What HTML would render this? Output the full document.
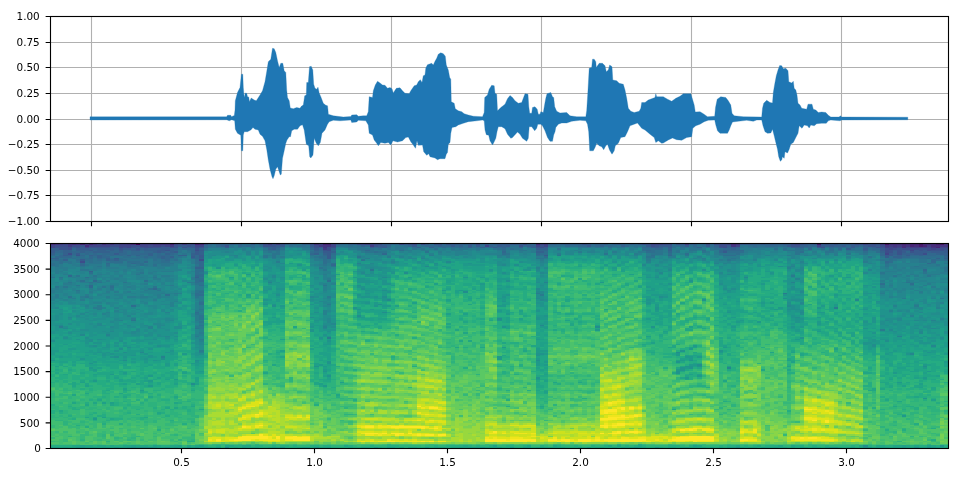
<!DOCTYPE html><html><head><meta charset="utf-8"><title>waveform and spectrogram</title>
<style>html,body{margin:0;padding:0;background:#fff}svg{display:block}text{font-family:"DejaVu Sans","Liberation Sans",sans-serif;font-size:10.42px;fill:#000}</style></head><body>
<svg width="960" height="480" viewBox="0 0 960 480">
<rect width="960" height="480" fill="#fff"/>
<path d="M91.5 16.5V221.5M241.5 16.5V221.5M391.5 16.5V221.5M541.5 16.5V221.5M691.5 16.5V221.5M841.5 16.5V221.5M50.5 16.5H948.5M50.5 42.5H948.5M50.5 67.5H948.5M50.5 93.5H948.5M50.5 119.5H948.5M50.5 144.5H948.5M50.5 170.5H948.5M50.5 195.5H948.5M50.5 221.5H948.5" stroke="#b0b0b0" stroke-width="1.11" fill="none"/>
<polygon points="90,116.8 226.7,116.8 227.5,115.3 230.8,115.3 231.5,116.7 234.3,115.5 235,110 235.3,100.8 237.5,92.5 240,87.5 241.4,74.2 242.8,74.2 243.3,87.5 244.2,97.5 245.3,93 246.7,93.3 247.5,96.7 248.7,97 249.5,101.7 251.2,98 254.2,100 256.3,100.8 260,95 262.5,90.8 265,81.7 266.7,71.7 268.3,61.7 270.8,59.2 272.5,48.3 274.2,48.7 275.8,52.5 277.5,60.8 279.2,67.5 280.8,63.3 282.8,63.3 284.2,70.8 285.8,72.5 286.7,90 287.5,97.5 289.2,100.8 290.3,108 293.3,108.7 296.7,107.5 300,108.3 301.3,106.3 303.3,105 304.7,95.8 306.3,95 306.7,82.5 308.3,82.5 309.5,66.7 311.2,66.3 312.8,70 313.7,84.2 315,88.3 316.7,89.2 318,87.2 319.2,93 320.8,96.7 323.3,103.3 325.8,105.3 327.5,105.8 328,110 328.3,114.2 333.3,115.8 343.3,117 351,116.5 351.7,115 356.7,114.7 358.3,116.3 363.3,115.8 366.7,115.8 368.3,111.7 369.2,96.7 372.5,97.5 373.3,90.8 375.3,85 377.5,81.3 380,83 382.5,85 385,85.3 387.5,88.3 390,87.5 392,88.7 393.3,93 396.3,88.3 400,87.8 402.5,90.8 405,93.3 409.2,93.7 410.8,90.8 414.2,85.8 416.7,85 418.3,81.7 420.3,79.7 422,82.5 423.3,75.8 425,75 425.8,68 427.5,64.7 431.7,63.3 433.3,65 435,61.3 436.7,58.3 438.3,54.2 440.8,52.8 443.3,53.7 445.3,56.2 446.3,65 448.3,70 449.7,77.5 450.8,79.2 451.3,101.7 454.2,103.3 455.3,108.7 458.3,110.8 461.7,111.7 464.2,113.7 468.3,115 473.3,116.2 482.5,116.7 484.2,112.5 484.7,97.5 487.5,95 489.2,89.2 491.7,85.3 494.2,85.8 495,93.3 496.7,94.2 497.5,110.8 500.8,107.5 505,104.2 507.5,98.7 510,95.5 512.5,97.5 515,100.8 518.3,103.3 521.7,102.5 523.3,98.3 525,93.7 528,94.2 528.8,106.7 529.7,113.3 531.7,113.3 532.5,107.5 535,106.7 537.2,109.2 538.3,114.2 540,114.2 540.8,111.7 543.3,112.5 544.7,104.2 545.8,98.3 547,93.7 550.8,92.5 552.5,96.7 553.7,97.5 554.7,106.7 556.7,111.3 560,113 566.7,112.5 570,115.8 576.7,116.7 585.8,116.7 586.7,110.8 588,90 589.2,68.3 591.7,67.5 592.5,59.2 594.2,59.2 595.8,61.7 596.3,67.5 599.2,63.3 602.5,63.3 605,65.8 606.3,71.7 608.3,70 609.7,65 612,66.7 612.8,80 616.7,80.8 619.2,83.3 623.3,84.2 625,90 626.7,98.3 628.3,108.3 630.8,111.3 634.2,112.5 639.2,111.3 640.8,108.3 641.7,102.5 645,102.5 648.3,100 655,97.5 655.8,93.7 656.7,96.7 661.7,96.7 663.3,96.7 667.5,99.2 671.7,101.3 675.8,98.3 680,96.3 683.3,93.7 690.8,93.7 692.5,99.2 694.2,105 695.3,112 700,111.7 703.3,113.7 707.5,116.7 714.7,116.3 715.5,107.5 717.2,99.2 720.8,96.7 725.8,97.5 728.3,100.8 730.8,105 732,113.3 734.2,115.8 743.3,116.7 761.7,117 762.5,108.3 763.7,103.3 766.7,100.3 770,102.5 772.5,103 773.3,92.5 774.7,84.2 776.3,75.8 778,70 779.7,65.5 781.7,65.8 783.3,68.7 785.8,68.3 788,70.8 788.8,81.7 791.7,83 793.3,81.3 794.2,88.3 795.8,90 797,95 798,103.3 800,105 801.7,108.3 806.7,109.2 808,104.2 812,104.2 813.3,109.2 815.8,110 818.3,112.5 821.7,112 825.8,112.5 828.3,115.3 830.8,117 839.2,117 840.3,115.8 841.7,117 907.8,117.2 907.8,119.8 841.7,120 840,120.8 830.8,120 828.3,120.8 826.3,123.3 821.7,123.3 816.7,123.7 814.2,125.8 810.8,125 809.2,128 807.5,125.8 804.2,125 802,128.3 799.2,125.8 798,133.3 795.8,137.5 793.3,142.5 790.8,144.2 789.2,149.2 787.5,153 785,151.7 784.2,158.3 782.5,156.7 781.7,160 780.3,161.3 778.7,156.7 777.5,149.2 775.8,142.5 774.2,135.8 772.5,129.2 770.8,133 767.5,133.3 765,131.7 763,125.8 761.7,120 756.7,120 753.3,121.3 746.7,120.3 738.3,121.3 732.5,122 730.8,125.8 729.2,130 727.5,133.3 720,133.3 717.5,130.8 715.8,125 714.7,120 708.3,120.3 704.2,121.7 700,124.2 695.8,125.8 692.8,128.3 691.7,136.7 686.7,137.5 681.7,140.3 676.7,139.7 672.5,138 668.3,140 663.3,143 661.7,143.3 658.3,140.8 655.8,142.5 654.2,137.5 650,134.2 645,130 641.7,128.3 637.5,123 634.2,124.2 630,125.8 627.5,131.7 625,136.7 620.8,137.5 618.3,143.3 615.3,145.8 614.2,150.8 612,154.2 609.5,150 607.5,144.2 605.8,145.8 603.7,149.7 601.7,146.7 599.2,145.8 596.7,143.3 595,147.5 593.3,150.8 589.7,150.8 588.7,131.7 587.5,124.2 585.8,120.8 580,120.3 571.7,121.3 566.7,123 561.7,123 558.3,124.2 555.8,127.5 555,131.7 553.7,135 552.5,141.3 550,141.3 547.5,137.5 545,130.8 542.5,125.8 540.8,124.2 537.8,124.2 536.7,128.3 534.7,130.8 531.7,126.7 529.2,126.7 528.3,138.3 526.7,141.3 522.5,138.3 520,134.2 517.5,132 512.5,137.5 510.8,138.3 507.5,134.2 505,128.7 501.7,126.7 498.3,126.7 497,131.7 495.8,138.3 494.2,141.7 492.5,145 490,140.8 488.7,135.3 486.3,134.7 485,130 484.2,120.8 482.5,120 476.7,120.8 468.3,121.7 463.3,123.3 458.3,125 455.8,126.7 452,127.5 450.8,133.3 450,142.5 448.3,144.2 447.5,152.5 446.3,154.2 445,158.7 440,158.7 437.5,159.7 435,158 430,156.7 428.7,153.7 426.7,155.3 423.7,151.7 422.5,145 418.3,145.3 417,140.8 415.5,148.3 413.3,145 410.8,141.7 408.3,137 405.8,137.5 402.5,140.8 397.5,142 393,140.8 390.8,145 388.3,142.5 385,143.3 380.8,142.5 378.3,145.8 376.7,143.3 374.2,140 372.5,135 369.2,133.3 368.3,125 365.8,120.8 358.3,120.3 356.7,122 351.7,122.5 350.8,120 340,120.8 333.3,120.3 329.2,121.7 327.5,124.2 325,130 322,133.3 320.3,142.5 318.3,145.8 316.3,143.3 314.2,138.3 313,155 310.8,158 309.7,156.7 308.7,145.8 306.3,144.2 304.2,130 302.5,124.7 300,125.8 297.5,129.2 294.2,129.2 291.7,130.8 290.5,136.7 289.2,136.7 287,140 285.8,143.3 284.2,150.8 282.5,158.3 281.3,174.2 280.3,175 279.2,171.7 277.5,166.7 275.8,169.2 274.2,175.8 273,178.7 272,176.7 270,169.2 268.3,160 266.7,149.2 265,140.8 262.5,136.3 260,134.2 258.3,130 255,129.2 253,127.5 250.8,130 247.5,131.7 244.2,131.7 243.3,135 242.8,150.8 241.4,150.8 240.8,135.3 237.5,133.3 235.3,129.2 234.7,120.8 231.7,119.7 229.2,120.8 226.7,119.8 90,120" fill="#1f77b4" stroke="#1f77b4" stroke-width="0.3" stroke-linejoin="round"/>
<path d="M91.5 221.5v4.86M241.5 221.5v4.86M391.5 221.5v4.86M541.5 221.5v4.86M691.5 221.5v4.86M841.5 221.5v4.86M50.5 16.5h-4.86M50.5 42.5h-4.86M50.5 67.5h-4.86M50.5 93.5h-4.86M50.5 119.5h-4.86M50.5 144.5h-4.86M50.5 170.5h-4.86M50.5 195.5h-4.86M50.5 221.5h-4.86" stroke="#000" stroke-width="1.11" fill="none"/>
<rect x="50.5" y="16.5" width="898" height="205" fill="none" stroke="#000" stroke-width="1.11"/>
<rect x="50.50" y="243.50" width="898.00" height="205.00" fill="#35b779"/>
<defs><clipPath id="sc"><rect x="50.50" y="243.50" width="898.00" height="205.00"/></clipPath></defs>
<g clip-path="url(#sc)"><g><rect x="47.50" y="240.50" width="904.00" height="211.00" fill="#35b779"/><g transform="translate(50.500,243.500) scale(4.25592,1.58915) translate(0,0.5)" fill="none" stroke-width="1" shape-rendering="crispEdges">
<path stroke="#440154" d="M20 0h1"/>
<path stroke="#481467" d="M196 0h1M204 0h1M209 0h1"/>
<path stroke="#481c6e" d="M180 0h1M208 0h1M204 1h1"/>
<path stroke="#482576" d="M7 0h1M9 0h1M28 0h1M34 0h1M64 0h2M200 0h1M202 0h2M202 1h1M205 1h1M208 2h1"/>
<path stroke="#472d7b" d="M0 0h1M5 0h1M12 0h1M19 0h1M35 0h1M114 0h1M160 0h1M197 0h3M201 0h1M205 0h3M8 1h1M200 1h1M203 1h1M207 1h2M200 2h1"/>
<path stroke="#453581" d="M1 0h1M4 0h1M6 0h1M10 0h1M14 0h1M18 0h1M24 0h4M62 0h1M161 0h1M210 0h1M64 1h2M160 1h1M196 1h1M198 1h1M201 1h1M209 1h2M64 2h1M207 2h1"/>
<path stroke="#433d84" d="M2 0h1M8 0h1M13 0h1M16 0h2M21 0h3M31 0h1M51 0h1M53 0h1M116 0h1M149 0h1M195 0h1M4 1h1M28 1h1M63 1h1M75 1h1M197 1h1M199 1h1M206 1h1M196 2h1M198 2h1M202 2h4M64 3h1"/>
<path stroke="#404588" d="M3 0h1M11 0h1M15 0h1M29 0h1M63 0h1M66 0h1M74 0h2M115 0h1M141 0h3M159 0h1M175 0h1M191 0h1M0 1h1M9 1h5M16 1h3M21 1h2M24 1h2M27 1h1M34 1h2M66 1h1M102 1h1M114 1h1M116 1h1M161 1h1M180 1h1M0 2h1M8 2h1M16 2h1M18 2h1M197 2h1M199 2h1M201 2h1M206 2h1M209 2h2M197 3h1M207 3h1M202 4h1M196 6h1"/>
<path stroke="#3d4d8a" d="M33 0h1M50 0h1M72 0h2M76 0h2M82 0h1M85 0h1M87 0h1M100 0h1M111 0h1M144 0h2M154 0h1M156 0h3M174 0h1M189 0h1M193 0h1M1 1h3M5 1h2M14 1h2M19 1h2M23 1h1M26 1h1M62 1h1M141 1h1M157 1h2M195 1h1M4 2h1M17 2h1M22 2h2M28 2h1M34 2h1M65 2h2M115 2h1M158 2h1M4 3h1M65 3h1M196 3h1M198 3h1M200 3h4M206 3h1M208 3h2M34 4h1M65 4h1M196 4h1M206 4h1M196 5h1M4 6h1M205 6h1M35 10h1M7 11h1"/>
<path stroke="#3a538b" d="M30 0h1M32 0h1M36 0h1M52 0h1M54 0h1M61 0h1M84 0h1M90 0h2M93 0h1M125 0h1M139 0h2M147 0h1M176 0h1M182 0h1M184 0h1M190 0h1M192 0h1M194 0h1M7 1h1M29 1h1M32 1h1M41 1h1M50 1h3M76 1h1M110 1h1M115 1h1M142 1h1M174 1h2M192 1h2M1 2h3M6 2h1M9 2h5M19 2h1M21 2h1M24 2h2M29 2h1M31 2h1M35 2h1M62 2h1M114 2h1M157 2h1M181 2h1M194 2h2M2 3h2M16 3h1M20 3h1M34 3h1M199 3h1M204 3h2M210 3h1M27 4h1M64 4h1M197 4h1M199 4h1M204 4h1M207 4h3M197 5h1M199 5h1M202 5h1M199 6h1M6 7h1"/>
<path stroke="#375b8d" d="M47 0h1M67 0h1M83 0h1M88 0h1M94 0h2M98 0h1M102 0h1M105 0h6M121 0h1M126 0h1M130 0h1M133 0h1M138 0h1M148 0h1M162 0h3M167 0h1M169 0h1M172 0h2M177 0h1M179 0h1M181 0h1M183 0h1M187 0h2M30 1h2M33 1h1M53 1h2M61 1h1M77 1h2M85 1h1M94 1h1M98 1h1M100 1h1M105 1h1M107 1h1M126 1h1M140 1h1M143 1h3M149 1h1M154 1h1M159 1h1M173 1h1M181 1h1M183 1h1M186 1h1M188 1h1M191 1h1M194 1h1M5 2h1M7 2h1M14 2h2M20 2h1M26 2h2M33 2h1M41 2h1M52 2h1M63 2h1M75 2h1M78 2h1M104 2h1M116 2h1M141 2h2M145 2h1M160 2h1M180 2h1M188 2h1M6 3h3M11 3h4M17 3h2M22 3h1M26 3h2M52 3h1M62 3h1M114 3h1M187 3h1M191 3h1M195 3h1M0 4h1M9 4h1M16 4h1M20 4h1M25 4h2M35 4h1M195 4h1M198 4h1M200 4h2M203 4h1M205 4h1M210 4h1M0 5h1M25 5h1M29 5h1M34 5h1M64 5h2M158 5h1M200 5h1M203 5h3M207 5h2M210 5h1M6 6h1M15 6h1M34 6h1M65 6h1M197 6h1M203 6h2M3 7h1M35 7h1M65 7h1M116 7h1M196 7h2M201 7h1M33 8h1M35 8h1M65 8h1M196 8h1M15 9h1M65 9h1M7 10h1"/>
<path stroke="#34618d" d="M39 0h4M44 0h1M49 0h1M55 0h1M59 0h2M70 0h2M78 0h2M96 0h2M99 0h1M104 0h1M112 0h1M117 0h2M120 0h1M122 0h3M128 0h2M132 0h1M134 0h1M136 0h1M150 0h2M165 0h2M168 0h1M170 0h2M178 0h1M185 0h2M40 1h1M73 1h1M91 1h1M96 1h1M103 1h1M106 1h1M112 1h2M129 1h1M134 1h1M156 1h1M176 1h2M182 1h1M184 1h2M189 1h1M32 2h1M51 2h1M53 2h1M61 2h1M77 2h1M86 2h1M89 2h1M98 2h1M101 2h1M106 2h1M110 2h1M113 2h1M143 2h1M152 2h1M159 2h1M161 2h1M174 2h3M191 2h1M193 2h1M0 3h2M9 3h2M15 3h1M19 3h1M21 3h1M23 3h3M28 3h2M35 3h1M51 3h1M66 3h1M115 3h2M145 3h1M160 3h1M1 4h1M3 4h2M6 4h3M11 4h2M14 4h1M19 4h1M22 4h3M28 4h1M62 4h1M145 4h1M158 4h1M191 4h1M3 5h2M7 5h1M10 5h4M16 5h1M24 5h1M26 5h1M28 5h1M35 5h1M66 5h1M114 5h2M195 5h1M198 5h1M206 5h1M209 5h1M0 6h1M3 6h1M23 6h1M27 6h1M33 6h1M35 6h1M62 6h1M64 6h1M198 6h1M200 6h3M208 6h3M4 7h1M9 7h1M11 7h1M18 7h1M20 7h1M23 7h1M30 7h2M33 7h1M199 7h1M204 7h1M210 7h1M11 8h1M26 8h1M28 8h1M198 8h2M0 9h2M13 9h1M26 9h1M35 9h1M208 9h1M210 9h1M3 10h1M13 10h1M15 10h1M34 15h2M9 17h1M34 21h1"/>
<path stroke="#31688e" d="M37 0h1M43 0h1M56 0h2M68 0h1M80 0h2M92 0h1M101 0h1M103 0h1M113 0h1M119 0h1M127 0h1M135 0h1M137 0h1M153 0h1M155 0h1M36 1h1M39 1h1M44 1h1M46 1h1M74 1h1M79 1h1M84 1h1M88 1h3M92 1h2M95 1h1M104 1h1M111 1h1M121 1h1M124 1h2M128 1h1M131 1h1M135 1h1M148 1h1M151 1h1M165 1h1M168 1h3M172 1h1M178 1h2M187 1h1M190 1h1M36 2h1M50 2h1M76 2h1M92 2h1M96 2h1M103 2h1M105 2h1M139 2h2M156 2h1M178 2h1M183 2h1M185 2h1M187 2h1M192 2h1M5 3h1M31 3h3M53 3h1M61 3h1M63 3h1M106 3h1M142 3h2M158 3h2M161 3h1M178 3h1M185 3h1M193 3h2M2 4h1M10 4h1M13 4h1M15 4h1M17 4h2M21 4h1M29 4h1M33 4h1M63 4h1M66 4h1M74 4h1M114 4h3M140 4h1M157 4h1M159 4h4M1 5h2M5 5h2M8 5h2M14 5h2M17 5h1M19 5h2M22 5h2M27 5h1M33 5h1M62 5h1M106 5h1M145 5h1M157 5h1M201 5h1M5 6h1M8 6h1M10 6h1M12 6h3M16 6h2M19 6h4M25 6h1M28 6h1M61 6h1M78 6h1M114 6h1M195 6h1M206 6h2M0 7h1M2 7h1M7 7h1M10 7h1M12 7h1M14 7h1M16 7h1M25 7h3M34 7h1M64 7h1M145 7h1M195 7h1M198 7h1M200 7h1M202 7h2M205 7h3M1 8h4M9 8h1M12 8h2M22 8h1M25 8h1M27 8h1M34 8h1M200 8h2M210 8h1M9 9h1M11 9h1M27 9h1M33 9h2M199 9h1M206 9h1M1 10h1M14 10h1M27 10h1M207 10h1M22 11h1M35 11h1M196 11h1M207 11h1M7 12h1M13 12h1M19 12h1M35 12h1M206 12h1M7 13h1M35 13h1M66 13h1M35 14h1M205 16h1M4 20h1M34 20h1M10 23h1M35 23h1M9 26h1M9 27h1M24 28h1"/>
<path stroke="#2e6e8e" d="M38 0h1M45 0h2M48 0h1M69 0h1M86 0h1M89 0h1M131 0h1M146 0h1M152 0h1M37 1h1M45 1h1M47 1h1M49 1h1M56 1h1M58 1h2M67 1h1M70 1h1M72 1h1M83 1h1M87 1h1M97 1h1M99 1h1M101 1h1M108 1h2M117 1h3M122 1h2M127 1h1M130 1h1M132 1h1M137 1h1M139 1h1M146 1h2M153 1h1M155 1h1M164 1h1M166 1h2M171 1h1M30 2h1M47 2h1M54 2h1M79 2h1M85 2h1M94 2h2M97 2h1M99 2h2M102 2h1M107 2h1M112 2h1M131 2h1M144 2h1M146 2h1M148 2h1M151 2h1M155 2h1M165 2h1M177 2h1M184 2h1M186 2h1M189 2h1M30 3h1M75 3h1M77 3h1M90 3h1M105 3h1M108 3h1M119 3h1M139 3h3M156 3h2M170 3h1M172 3h1M175 3h2M181 3h1M183 3h1M188 3h1M192 3h1M5 4h1M32 4h1M51 4h3M82 4h1M106 4h1M139 4h1M141 4h1M153 4h1M183 4h1M193 4h2M18 5h1M21 5h1M61 5h1M63 5h1M76 5h1M116 5h1M140 5h2M159 5h4M176 5h1M191 5h1M194 5h1M1 6h2M7 6h1M9 6h1M11 6h1M18 6h1M24 6h1M26 6h1M29 6h1M66 6h1M106 6h1M115 6h2M145 6h1M149 6h1M161 6h1M5 7h1M13 7h1M15 7h1M17 7h1M19 7h1M21 7h2M24 7h1M28 7h1M114 7h1M141 7h1M158 7h3M208 7h2M6 8h2M10 8h1M17 8h2M20 8h2M23 8h2M63 8h2M116 8h1M197 8h1M202 8h7M3 9h1M5 9h1M7 9h2M12 9h1M14 9h1M16 9h1M19 9h2M22 9h1M24 9h2M28 9h1M64 9h1M197 9h2M204 9h2M0 10h1M2 10h1M6 10h1M8 10h2M11 10h1M16 10h2M24 10h1M26 10h1M29 10h1M34 10h1M64 10h1M197 10h1M208 10h1M210 10h1M2 11h1M9 11h1M14 11h3M18 11h3M26 11h2M34 11h1M64 11h1M197 11h1M0 12h1M2 12h1M20 12h2M34 12h1M64 12h1M66 12h1M196 12h1M0 13h1M13 13h1M21 13h1M24 13h1M34 14h1M34 16h2M34 17h2M205 17h1M9 18h1M34 18h1M34 19h2M35 20h1M8 21h1M34 22h2M7 23h1M22 23h1M34 23h1M65 23h1M34 24h1M195 25h1M202 25h1M35 26h1M14 27h1M35 30h1M34 31h1M27 32h1M34 32h2M35 37h1M35 38h1M19 39h1M34 43h1"/>
<path stroke="#2b748e" d="M58 0h1M38 1h1M42 1h1M48 1h1M57 1h1M60 1h1M68 1h2M71 1h1M81 1h2M86 1h1M120 1h1M133 1h1M136 1h1M138 1h1M150 1h1M152 1h1M162 1h2M37 2h4M42 2h1M44 2h1M59 2h2M70 2h4M81 2h3M90 2h2M93 2h1M108 2h2M124 2h3M128 2h2M133 2h2M137 2h1M149 2h2M154 2h1M162 2h1M164 2h1M166 2h5M172 2h2M182 2h1M190 2h1M36 3h1M50 3h1M54 3h1M72 3h3M76 3h1M79 3h1M81 3h2M85 3h1M87 3h1M94 3h1M96 3h2M100 3h1M104 3h1M107 3h1M109 3h2M144 3h1M148 3h1M150 3h3M155 3h1M189 3h2M30 4h1M50 4h1M61 4h1M73 4h1M75 4h1M110 4h2M142 4h2M147 4h1M150 4h2M172 4h5M185 4h1M187 4h4M192 4h1M30 5h1M32 5h1M51 5h1M53 5h1M74 5h2M77 5h2M88 5h1M142 5h2M147 5h1M153 5h1M175 5h1M182 5h2M31 6h1M52 6h2M63 6h1M107 6h1M130 6h1M141 6h3M157 6h4M175 6h1M187 6h1M191 6h1M1 7h1M8 7h1M29 7h1M50 7h1M52 7h1M61 7h1M63 7h1M66 7h1M115 7h1M119 7h1M149 7h1M0 8h1M5 8h1M8 8h1M14 8h3M19 8h1M29 8h2M50 8h1M52 8h1M62 8h1M66 8h1M72 8h1M140 8h2M192 8h1M195 8h1M209 8h1M2 9h1M4 9h1M6 9h1M10 9h1M17 9h2M21 9h1M23 9h1M29 9h1M63 9h1M66 9h1M114 9h2M160 9h1M196 9h1M200 9h4M207 9h1M209 9h1M10 10h1M12 10h1M18 10h5M25 10h1M28 10h1M65 10h1M73 10h1M159 10h1M195 10h2M198 10h1M204 10h2M209 10h1M0 11h2M3 11h2M6 11h1M8 11h1M10 11h2M13 11h1M21 11h1M24 11h2M65 11h1M204 11h2M1 12h1M4 12h1M9 12h3M15 12h2M18 12h1M24 12h5M207 12h1M210 12h1M1 13h1M8 13h1M18 13h1M20 13h1M22 13h1M26 13h2M34 13h1M64 13h1M196 13h1M208 13h1M1 14h1M7 14h1M11 14h1M13 14h1M18 14h2M24 14h1M66 14h1M196 14h1M203 14h1M63 15h1M210 15h1M7 16h2M64 16h1M75 16h1M210 16h1M210 17h1M21 18h1M35 18h1M195 18h1M205 18h1M20 19h1M6 20h1M10 20h1M198 20h1M206 20h1M0 21h1M2 21h1M24 21h1M35 21h1M4 24h1M9 24h1M11 24h1M17 24h1M35 24h1M201 24h1M34 25h2M6 26h1M14 26h1M64 26h1M1 27h1M3 27h1M12 27h1M24 27h1M14 28h1M23 28h1M6 29h1M25 29h1M34 29h2M34 30h1M35 31h1M4 33h1M8 33h1M34 33h1M209 34h1M35 36h1M35 41h1M34 44h1M35 45h1M35 46h1M35 47h1M19 48h1M35 49h1M35 51h1M34 53h1"/>
<path stroke="#297b8e" d="M43 1h1M55 1h1M80 1h1M43 2h1M45 2h1M48 2h2M58 2h1M69 2h1M74 2h1M80 2h1M87 2h2M117 2h3M121 2h1M127 2h1M132 2h1M136 2h1M153 2h1M163 2h1M171 2h1M179 2h1M40 3h2M45 3h1M47 3h1M59 3h2M70 3h2M78 3h1M80 3h1M83 3h1M86 3h1M89 3h1M92 3h1M95 3h1M98 3h2M101 3h1M112 3h2M124 3h1M131 3h1M136 3h1M146 3h2M153 3h1M162 3h3M166 3h2M173 3h2M180 3h1M184 3h1M31 4h1M36 4h1M54 4h1M72 4h1M76 4h3M80 4h1M83 4h2M87 4h2M94 4h3M100 4h1M105 4h1M107 4h1M113 4h1M144 4h1M146 4h1M155 4h2M163 4h2M170 4h1M177 4h2M181 4h2M184 4h1M31 5h1M50 5h1M52 5h1M73 5h1M91 5h1M107 5h1M110 5h1M113 5h1M124 5h1M132 5h1M138 5h2M144 5h1M146 5h1M150 5h1M154 5h1M156 5h1M163 5h1M179 5h1M184 5h1M187 5h1M189 5h2M192 5h2M30 6h1M32 6h1M76 6h2M119 6h1M137 6h1M140 6h1M156 6h1M162 6h1M182 6h1M184 6h1M190 6h1M51 7h1M62 7h1M89 7h1M105 7h3M140 7h1M146 7h1M157 7h1M161 7h1M173 7h1M177 7h1M184 7h1M31 8h1M54 8h1M61 8h1M79 8h1M107 8h1M114 8h2M145 8h2M158 8h4M52 9h1M62 9h1M74 9h1M116 9h1M140 9h1M153 9h1M159 9h1M161 9h1M195 9h1M4 10h2M23 10h1M30 10h1M33 10h1M62 10h2M115 10h1M140 10h1M157 10h1M160 10h1M199 10h2M202 10h2M206 10h1M5 11h1M12 11h1M17 11h1M23 11h1M28 11h3M33 11h1M53 11h1M191 11h1M200 11h1M202 11h2M206 11h1M210 11h1M5 12h1M8 12h1M14 12h1M17 12h1M22 12h2M33 12h1M65 12h1M197 12h1M201 12h1M2 13h1M5 13h2M9 13h3M16 13h2M19 13h1M23 13h1M25 13h1M28 13h1M63 13h1M65 13h1M197 13h2M204 13h4M0 14h1M2 14h1M6 14h1M8 14h1M10 14h1M20 14h1M22 14h2M25 14h3M64 14h1M198 14h1M202 14h1M204 14h1M206 14h3M210 14h1M1 15h3M7 15h1M10 15h2M13 15h3M18 15h3M25 15h2M64 15h1M196 15h1M198 15h1M200 15h1M202 15h4M209 15h1M1 16h1M3 16h1M9 16h2M17 16h1M20 16h2M199 16h1M1 17h2M15 17h1M17 17h1M21 17h1M24 17h1M26 17h3M196 17h3M1 18h1M20 18h1M23 18h1M209 18h2M3 19h1M9 19h1M11 19h1M64 19h1M195 19h1M199 19h1M202 19h1M206 19h3M16 20h1M24 20h1M26 20h2M174 20h1M201 20h1M203 20h1M5 21h1M9 21h2M21 21h1M33 21h1M2 22h1M8 22h1M10 22h1M15 22h1M24 22h2M33 22h1M65 22h1M6 23h1M11 23h1M13 23h1M195 23h1M201 23h1M7 24h2M10 24h1M32 24h2M202 24h1M3 25h2M9 25h1M22 25h1M206 25h1M8 26h1M28 26h1M34 26h1M195 26h1M197 26h1M202 26h1M205 26h1M18 27h1M34 27h2M195 27h1M207 27h1M1 28h1M9 28h1M11 28h1M25 28h1M34 28h2M0 29h1M14 29h1M22 29h1M210 29h1M0 30h1M6 30h1M9 30h1M13 30h1M15 30h1M18 30h1M204 30h1M26 31h1M29 31h1M114 31h1M172 31h1M195 31h1M1 32h1M8 32h1M25 32h1M115 32h1M1 33h1M7 33h1M13 33h1M18 33h2M21 33h2M25 33h1M35 33h1M65 33h1M5 34h1M9 34h1M34 34h2M200 34h1M7 35h1M24 35h1M35 35h1M65 38h1M11 39h1M35 39h1M203 39h1M10 40h2M35 40h1M184 40h1M11 41h1M34 42h2M35 44h1M34 45h1M34 46h1M19 47h1M34 47h1M34 48h2M35 50h1M2 52h1M34 52h2M35 53h1M195 54h1M35 56h1M34 58h1M65 59h1M35 60h1M35 67h1"/>
<path stroke="#26818e" d="M46 2h1M56 2h2M67 2h2M84 2h1M111 2h1M120 2h1M122 2h2M130 2h1M135 2h1M138 2h1M147 2h1M37 3h3M43 3h1M48 3h1M88 3h1M91 3h1M93 3h1M102 3h2M111 3h1M127 3h1M129 3h2M133 3h2M137 3h1M149 3h1M165 3h1M168 3h2M171 3h1M177 3h1M179 3h1M182 3h1M186 3h1M37 4h1M45 4h1M60 4h1M79 4h1M81 4h1M90 4h3M98 4h1M108 4h2M112 4h1M119 4h1M123 4h1M127 4h1M130 4h1M136 4h1M152 4h1M165 4h2M168 4h1M179 4h1M41 5h1M46 5h1M54 5h1M79 5h1M82 5h1M84 5h1M93 5h1M95 5h3M105 5h1M111 5h2M126 5h2M130 5h1M149 5h1M151 5h1M164 5h3M169 5h2M173 5h2M188 5h1M46 6h1M50 6h2M54 6h1M74 6h2M89 6h1M91 6h1M95 6h3M102 6h4M111 6h1M138 6h1M144 6h1M146 6h1M148 6h1M154 6h1M163 6h1M166 6h1M174 6h1M176 6h2M179 6h1M192 6h3M32 7h1M43 7h1M53 7h1M72 7h1M77 7h1M79 7h1M95 7h1M137 7h1M142 7h3M156 7h1M162 7h1M168 7h1M174 7h1M178 7h1M180 7h1M191 7h1M193 7h1M51 8h1M53 8h1M73 8h1M82 8h1M105 8h1M152 8h1M156 8h1M174 8h1M187 8h1M191 8h1M193 8h1M30 9h1M61 9h1M87 9h1M151 9h1M158 9h1M174 9h1M191 9h2M32 10h1M66 10h1M153 10h1M158 10h1M161 10h1M165 10h1M191 10h1M194 10h1M201 10h1M63 11h1M66 11h1M80 11h1M115 11h1M140 11h1M159 11h1M176 11h1M195 11h1M198 11h1M208 11h2M3 12h1M6 12h1M12 12h1M29 12h2M63 12h1M72 12h1M156 12h1M158 12h1M192 12h1M195 12h1M198 12h3M202 12h4M208 12h2M3 13h2M12 13h1M14 13h2M29 13h1M62 13h1M199 13h5M209 13h2M3 14h3M9 14h1M12 14h1M14 14h4M28 14h2M33 14h1M63 14h1M65 14h1M174 14h1M195 14h1M197 14h1M199 14h3M205 14h1M209 14h1M0 15h1M4 15h2M8 15h2M12 15h1M16 15h2M21 15h4M28 15h2M33 15h1M65 15h1M114 15h1M173 15h1M195 15h1M199 15h1M206 15h3M0 16h1M2 16h1M11 16h1M13 16h4M18 16h1M23 16h8M63 16h1M192 16h1M196 16h3M200 16h5M208 16h2M0 17h1M6 17h3M14 17h1M19 17h2M23 17h1M25 17h1M33 17h1M64 17h2M195 17h1M199 17h4M207 17h3M2 18h2M7 18h1M11 18h1M13 18h1M15 18h1M17 18h1M19 18h1M24 18h1M64 18h2M196 18h3M200 18h1M202 18h1M204 18h1M206 18h3M0 19h1M4 19h1M12 19h2M15 19h3M19 19h1M21 19h1M23 19h3M196 19h2M203 19h1M205 19h1M210 19h1M0 20h1M5 20h1M9 20h1M11 20h1M14 20h1M20 20h3M28 20h1M64 20h1M195 20h3M199 20h1M205 20h1M207 20h1M4 21h1M6 21h2M11 21h6M20 21h1M22 21h2M26 21h2M64 21h2M195 21h2M198 21h1M200 21h1M204 21h2M6 22h2M9 22h1M12 22h1M14 22h1M16 22h2M20 22h3M27 22h2M64 22h1M175 22h1M196 22h1M201 22h1M203 22h1M209 22h2M4 23h1M8 23h1M16 23h2M23 23h1M25 23h1M27 23h2M197 23h1M202 23h1M204 23h2M1 24h1M3 24h1M5 24h1M12 24h1M18 24h1M22 24h1M26 24h1M51 24h1M116 24h1M174 24h1M195 24h1M200 24h1M203 24h1M206 24h2M209 24h2M5 25h1M10 25h1M14 25h2M17 25h2M21 25h1M26 25h1M33 25h1M64 25h1M66 25h1M197 25h1M3 26h3M12 26h2M15 26h1M17 26h1M19 26h1M27 26h1M2 27h1M4 27h1M6 27h1M8 27h1M11 27h1M13 27h1M17 27h1M19 27h1M22 27h1M64 27h1M197 27h1M204 27h1M0 28h1M2 28h2M5 28h1M13 28h1M17 28h1M19 28h1M21 28h2M64 28h1M198 28h1M200 28h1M202 28h1M208 28h1M210 28h1M1 29h2M5 29h1M9 29h3M13 29h1M23 29h2M64 29h1M196 29h1M199 29h2M203 29h1M1 30h2M17 30h1M21 30h6M195 30h1M199 30h1M210 30h1M0 31h1M3 31h1M6 31h1M9 31h1M12 31h2M17 31h1M19 31h1M23 31h3M27 31h2M30 31h1M33 31h1M204 31h1M208 31h1M3 32h1M11 32h1M15 32h2M21 32h1M24 32h1M29 32h1M0 33h1M9 33h1M16 33h1M20 33h1M23 33h1M26 33h2M197 33h1M0 34h3M4 34h1M7 34h1M13 34h1M15 34h2M21 34h2M24 34h2M65 34h1M207 34h1M0 35h1M3 35h1M34 35h1M21 36h1M29 36h1M10 37h2M13 37h1M22 37h1M28 37h1M34 37h1M209 37h1M28 38h1M34 38h1M203 38h1M8 39h1M28 39h1M34 39h1M198 39h1M12 40h1M15 40h1M34 40h1M208 40h1M34 41h1M15 42h1M64 42h1M197 42h1M13 43h1M27 43h1M35 43h1M64 43h1M12 44h1M64 44h1M18 45h1M202 45h1M209 47h1M16 48h1M207 48h1M34 49h1M34 51h1M23 52h1M64 52h1M23 53h1M35 54h1M35 55h1M13 57h1M34 57h2M199 58h1M35 61h1M35 68h1M26 71h1"/>
<path stroke="#24878e" d="M55 2h1M42 3h1M44 3h1M46 3h1M49 3h1M67 3h1M84 3h1M117 3h2M125 3h2M128 3h1M38 4h6M46 4h3M58 4h2M71 4h1M85 4h2M89 4h1M93 4h1M97 4h1M99 4h1M101 4h2M104 4h1M118 4h1M122 4h1M124 4h3M132 4h2M138 4h1M148 4h2M154 4h1M167 4h1M169 4h1M171 4h1M180 4h1M186 4h1M40 5h1M42 5h1M48 5h1M60 5h1M68 5h1M71 5h2M83 5h1M85 5h2M92 5h1M94 5h1M98 5h1M100 5h5M108 5h2M118 5h2M121 5h2M128 5h1M133 5h1M135 5h3M148 5h1M167 5h1M171 5h1M177 5h1M181 5h1M185 5h2M48 6h1M67 6h1M72 6h1M79 6h2M83 6h1M85 6h1M92 6h3M98 6h1M101 6h1M108 6h1M110 6h1M112 6h1M121 6h2M132 6h1M135 6h1M147 6h1M153 6h1M164 6h2M167 6h1M169 6h2M173 6h1M178 6h1M180 6h1M183 6h1M189 6h1M38 7h1M42 7h1M54 7h1M73 7h3M78 7h1M81 7h2M93 7h1M98 7h1M110 7h3M131 7h1M135 7h1M154 7h2M165 7h2M169 7h1M171 7h2M175 7h2M182 7h1M188 7h2M192 7h1M194 7h1M32 8h1M43 8h1M74 8h4M84 8h1M87 8h1M97 8h1M106 8h1M111 8h1M143 8h1M149 8h1M155 8h1M157 8h1M165 8h2M175 8h1M180 8h1M31 9h2M50 9h1M53 9h2M72 9h2M76 9h1M84 9h2M141 9h3M145 9h1M147 9h1M152 9h1M157 9h1M165 9h1M173 9h1M175 9h1M179 9h1M187 9h1M31 10h1M53 10h1M61 10h1M76 10h2M80 10h1M114 10h1M116 10h1M144 10h1M156 10h1M162 10h1M170 10h1M173 10h1M192 10h2M32 11h1M61 11h2M78 11h1M93 11h1M116 11h1M143 11h1M156 11h3M161 11h1M192 11h1M199 11h1M201 11h1M54 12h1M62 12h1M75 12h1M80 12h1M115 12h1M159 12h2M176 12h1M193 12h1M32 13h2M61 13h1M106 13h1M115 13h1M139 13h1M142 13h1M174 13h1M195 13h1M21 14h1M62 14h1M88 14h1M157 14h1M173 14h1M6 15h1M27 15h1M32 15h1M66 15h1M75 15h1M116 15h1M176 15h1M197 15h1M201 15h1M4 16h3M12 16h1M19 16h1M22 16h1M33 16h1M65 16h1M114 16h1M145 16h1M159 16h1M175 16h2M195 16h1M206 16h2M3 17h3M10 17h4M16 17h1M18 17h1M22 17h1M29 17h1M32 17h1M63 17h1M159 17h2M175 17h1M203 17h2M206 17h1M0 18h1M5 18h2M8 18h1M10 18h1M12 18h1M14 18h1M16 18h1M22 18h1M25 18h4M32 18h2M63 18h1M73 18h1M115 18h1M143 18h1M157 18h1M191 18h1M199 18h1M201 18h1M203 18h1M1 19h2M6 19h3M10 19h1M14 19h1M18 19h1M22 19h1M26 19h3M33 19h1M63 19h1M65 19h1M159 19h1M174 19h1M198 19h1M200 19h2M204 19h1M209 19h1M1 20h3M7 20h2M12 20h2M15 20h1M17 20h3M23 20h1M25 20h1M29 20h1M33 20h1M52 20h1M65 20h2M200 20h1M202 20h1M204 20h1M208 20h2M1 21h1M3 21h1M17 21h1M19 21h1M25 21h1M28 21h2M52 21h1M62 21h1M78 21h1M163 21h1M197 21h1M199 21h1M201 21h1M203 21h1M206 21h2M209 21h2M0 22h1M4 22h2M13 22h1M18 22h2M23 22h1M26 22h1M29 22h1M195 22h1M197 22h1M199 22h2M204 22h4M0 23h1M2 23h2M5 23h1M9 23h1M12 23h1M14 23h2M21 23h1M24 23h1M26 23h1M31 23h1M33 23h1M199 23h1M203 23h1M206 23h5M0 24h1M6 24h1M13 24h4M19 24h1M21 24h1M23 24h3M28 24h1M63 24h1M65 24h2M196 24h2M199 24h1M204 24h2M208 24h1M0 25h2M6 25h3M11 25h3M16 25h1M19 25h2M24 25h1M28 25h1M63 25h1M65 25h1M199 25h3M204 25h2M207 25h1M1 26h2M7 26h1M10 26h2M18 26h1M21 26h6M65 26h1M196 26h1M199 26h3M203 26h1M207 26h1M5 27h1M7 27h1M15 27h2M20 27h2M23 27h1M26 27h1M28 27h2M65 27h1M196 27h1M199 27h5M209 27h2M4 28h1M6 28h1M10 28h1M12 28h1M16 28h1M18 28h1M26 28h1M28 28h1M30 28h1M65 28h1M114 28h1M196 28h1M199 28h1M201 28h1M204 28h2M207 28h1M209 28h1M3 29h1M7 29h1M12 29h1M15 29h1M17 29h2M20 29h2M26 29h2M29 29h1M195 29h1M197 29h2M204 29h3M208 29h1M3 30h3M7 30h1M10 30h1M12 30h1M14 30h1M19 30h2M27 30h3M33 30h1M64 30h1M114 30h2M176 30h1M197 30h1M200 30h1M202 30h1M206 30h1M208 30h1M1 31h2M4 31h2M7 31h1M11 31h1M14 31h3M18 31h1M20 31h3M115 31h1M197 31h1M199 31h2M202 31h1M206 31h1M210 31h1M0 32h1M2 32h1M4 32h1M7 32h1M9 32h1M12 32h3M17 32h4M23 32h1M26 32h1M28 32h1M33 32h1M195 32h1M197 32h1M199 32h2M2 33h2M5 33h1M10 33h3M14 33h2M24 33h1M28 33h1M61 33h1M198 33h3M207 33h1M209 33h2M8 34h1M10 34h2M14 34h1M18 34h3M23 34h1M27 34h2M64 34h1M114 34h1M210 34h1M2 35h1M4 35h2M9 35h1M12 35h1M15 35h1M17 35h1M19 35h1M21 35h3M27 35h3M65 35h1M79 35h1M115 35h1M189 35h1M202 35h1M205 35h1M1 36h1M4 36h1M9 36h4M17 36h2M22 36h1M24 36h1M26 36h1M28 36h1M34 36h1M63 36h2M204 36h2M0 37h1M4 37h2M9 37h1M14 37h2M18 37h1M21 37h1M64 37h2M176 37h1M205 37h1M208 37h1M7 38h3M13 38h2M19 38h2M22 38h1M26 38h2M206 38h1M208 38h1M10 39h1M14 39h1M16 39h1M20 39h1M23 39h2M64 39h2M173 39h1M208 39h1M1 40h1M8 40h1M19 40h1M24 40h1M203 40h2M16 41h2M20 41h1M26 41h1M28 41h1M204 41h1M17 42h1M26 42h1M65 42h1M199 42h1M201 42h1M8 43h1M15 43h3M23 43h1M176 43h1M204 43h1M7 44h1M10 44h1M13 44h1M17 44h1M19 44h1M22 44h2M6 45h1M13 45h1M4 46h1M19 46h1M204 46h1M15 47h1M27 47h1M65 47h1M199 47h1M15 48h1M27 48h2M65 48h1M196 48h1M199 48h1M203 48h1M205 48h1M14 49h1M65 49h1M11 50h1M24 50h2M34 50h1M66 50h1M2 51h1M11 51h1M18 51h1M22 51h1M25 51h2M64 51h1M115 51h1M14 52h1M25 52h1M3 53h1M64 53h1M207 53h1M20 54h1M34 54h1M197 54h1M14 55h1M19 55h2M34 55h1M204 55h1M19 56h1M34 56h1M204 56h1M7 57h1M27 58h1M35 58h1M34 59h2M35 62h1M35 63h1M207 64h1M21 68h1M202 69h1M159 78h1"/>
<path stroke="#228d8d" d="M56 3h1M58 3h1M68 3h2M120 3h4M132 3h1M135 3h1M138 3h1M154 3h1M49 4h1M55 4h1M57 4h1M70 4h1M103 4h1M117 4h1M120 4h2M128 4h2M131 4h1M134 4h2M137 4h1M36 5h1M38 5h2M45 5h1M80 5h1M87 5h1M89 5h2M99 5h1M117 5h1M123 5h1M125 5h1M129 5h1M155 5h1M168 5h1M172 5h1M178 5h1M180 5h1M37 6h6M44 6h1M58 6h1M68 6h2M73 6h1M82 6h1M84 6h1M86 6h1M88 6h1M99 6h2M109 6h1M113 6h1M118 6h1M124 6h1M127 6h1M129 6h1M133 6h2M139 6h1M150 6h1M155 6h1M168 6h1M171 6h2M186 6h1M188 6h1M36 7h2M40 7h1M46 7h1M56 7h1M71 7h1M76 7h1M80 7h1M83 7h1M85 7h3M90 7h3M94 7h1M96 7h2M99 7h1M101 7h4M108 7h1M113 7h1M130 7h1M133 7h1M136 7h1M139 7h1M148 7h1M151 7h2M163 7h1M167 7h1M170 7h1M179 7h1M181 7h1M183 7h1M185 7h3M190 7h1M37 8h1M47 8h1M49 8h1M78 8h1M81 8h1M83 8h1M90 8h2M94 8h1M98 8h2M108 8h3M112 8h2M131 8h1M133 8h1M137 8h1M139 8h1M142 8h1M144 8h1M148 8h1M151 8h1M163 8h1M167 8h1M169 8h1M171 8h1M173 8h1M181 8h3M189 8h2M194 8h1M47 9h1M51 9h1M75 9h1M77 9h1M83 9h1M88 9h1M91 9h1M95 9h1M99 9h1M101 9h1M106 9h2M109 9h1M112 9h2M133 9h1M139 9h1M144 9h1M146 9h1M150 9h1M155 9h2M170 9h1M193 9h2M51 10h2M74 10h2M88 10h1M106 10h1M113 10h1M141 10h1M143 10h1M145 10h1M150 10h1M152 10h1M155 10h1M163 10h2M175 10h2M184 10h1M31 11h1M52 11h1M79 11h1M81 11h1M86 11h1M105 11h1M110 11h1M114 11h1M144 11h1M150 11h1M154 11h1M160 11h1M163 11h1M173 11h1M182 11h1M193 11h1M31 12h2M52 12h2M61 12h1M78 12h1M90 12h1M105 12h2M114 12h1M116 12h1M140 12h1M143 12h1M161 12h1M164 12h1M173 12h1M175 12h1M177 12h1M191 12h1M30 13h2M53 13h1M72 13h4M105 13h1M109 13h1M145 13h1M158 13h1M160 13h1M176 13h1M191 13h1M193 13h1M32 14h1M50 14h1M53 14h2M61 14h1M74 14h3M114 14h2M142 14h1M144 14h1M160 14h1M171 14h1M176 14h1M193 14h2M30 15h2M51 15h1M54 15h1M62 15h1M74 15h1M76 15h3M145 15h1M157 15h1M160 15h1M174 15h1M193 15h1M50 16h1M54 16h1M66 16h1M77 16h1M142 16h1M153 16h1M160 16h1M173 16h1M194 16h1M62 17h1M66 17h1M72 17h2M75 17h1M114 17h1M142 17h1M161 17h1M176 17h1M194 17h1M4 18h1M18 18h1M29 18h1M36 18h1M61 18h2M75 18h1M83 18h1M106 18h1M116 18h1M160 18h1M176 18h1M193 18h1M5 19h1M29 19h1M62 19h1M66 19h1M74 19h1M157 19h1M160 19h1M115 20h1M210 20h1M18 21h1M54 21h1M66 21h1M142 21h1M174 21h1M202 21h1M208 21h1M1 22h1M3 22h1M11 22h1M50 22h1M62 22h1M66 22h1M198 22h1M202 22h1M208 22h1M1 23h1M18 23h3M29 23h1M32 23h1M51 23h1M64 23h1M107 23h1M176 23h1M196 23h1M200 23h1M2 24h1M20 24h1M27 24h1M64 24h1M114 24h1M176 24h1M198 24h1M2 25h1M25 25h1M27 25h1M29 25h1M157 25h1M196 25h1M198 25h1M203 25h1M208 25h3M0 26h1M16 26h1M20 26h1M29 26h1M31 26h1M33 26h1M61 26h1M72 26h1M115 26h1M198 26h1M204 26h1M206 26h1M208 26h3M0 27h1M10 27h1M25 27h1M27 27h1M174 27h1M198 27h1M205 27h1M208 27h1M7 28h2M15 28h1M20 28h1M27 28h1M29 28h1M62 28h1M66 28h1M73 28h1M158 28h1M160 28h1M174 28h1M195 28h1M197 28h1M203 28h1M206 28h1M4 29h1M8 29h1M16 29h1M19 29h1M28 29h1M33 29h1M65 29h1M78 29h1M114 29h1M159 29h1M176 29h1M201 29h2M207 29h1M209 29h1M8 30h1M11 30h1M16 30h1M30 30h1M65 30h1M97 30h1M196 30h1M198 30h1M201 30h1M203 30h1M205 30h1M8 31h1M10 31h1M63 31h4M201 31h1M203 31h1M205 31h1M207 31h1M5 32h2M22 32h1M53 32h1M64 32h3M114 32h1M196 32h1M202 32h9M6 33h1M17 33h1M29 33h1M33 33h1M62 33h1M64 33h1M66 33h1M78 33h1M114 33h2M143 33h1M195 33h2M202 33h4M3 34h1M6 34h1M12 34h1M17 34h1M26 34h1M29 34h1M33 34h1M115 34h1M172 34h1M195 34h3M199 34h1M202 34h2M205 34h1M1 35h1M6 35h1M8 35h1M10 35h2M13 35h2M16 35h1M18 35h1M25 35h2M61 35h1M64 35h1M116 35h1M174 35h3M196 35h1M199 35h1M204 35h1M208 35h3M0 36h1M3 36h1M5 36h3M13 36h4M19 36h1M23 36h1M25 36h1M27 36h1M65 36h1M194 36h1M198 36h1M201 36h1M208 36h3M1 37h2M6 37h2M12 37h1M17 37h1M19 37h1M24 37h4M29 37h2M173 37h1M201 37h1M203 37h1M207 37h1M0 38h1M2 38h1M4 38h3M10 38h2M15 38h1M17 38h2M24 38h2M64 38h1M77 38h1M173 38h1M176 38h1M198 38h1M200 38h2M0 39h1M7 39h1M9 39h1M15 39h1M18 39h1M22 39h1M25 39h1M27 39h1M29 39h1M52 39h1M174 39h1M206 39h1M0 40h1M5 40h1M9 40h1M16 40h3M23 40h1M25 40h1M27 40h1M65 40h1M174 40h1M198 40h1M202 40h1M209 40h1M2 41h1M10 41h1M13 41h1M15 41h1M18 41h1M23 41h2M33 41h1M65 41h1M173 41h3M197 41h1M199 41h3M210 41h1M5 42h1M9 42h3M13 42h1M16 42h1M19 42h1M21 42h1M23 42h2M28 42h1M176 42h1M200 42h1M203 42h1M10 43h1M12 43h1M18 43h3M24 43h1M62 43h1M65 43h1M78 43h1M197 43h1M201 43h1M208 43h1M2 44h1M9 44h1M15 44h1M18 44h1M21 44h1M24 44h1M27 44h1M33 44h1M176 44h1M200 44h1M202 44h1M207 44h2M1 45h1M8 45h1M10 45h1M12 45h1M15 45h1M17 45h1M21 45h2M33 45h1M64 45h2M72 45h1M195 45h1M200 45h1M204 45h1M1 46h1M6 46h2M12 46h7M22 46h1M27 46h1M61 46h1M64 46h2M175 46h1M199 46h1M206 46h1M209 46h1M1 47h1M4 47h1M8 47h1M10 47h3M16 47h3M21 47h1M23 47h4M28 47h1M64 47h1M105 47h1M196 47h3M204 47h2M210 47h1M0 48h2M9 48h2M14 48h1M23 48h1M25 48h1M64 48h1M197 48h1M204 48h1M209 48h1M15 49h1M19 49h1M25 49h1M27 49h1M195 49h1M197 49h1M207 49h2M210 49h1M4 50h1M9 50h1M15 50h1M17 50h1M21 50h1M26 50h1M64 50h2M195 50h1M198 50h1M201 50h1M210 50h1M1 51h1M10 51h1M12 51h1M15 51h2M21 51h1M65 51h1M196 51h1M203 51h1M206 51h1M210 51h1M3 52h1M10 52h1M15 52h1M18 52h2M21 52h2M29 52h2M66 52h1M128 52h1M205 52h2M14 53h2M20 53h1M25 53h2M29 53h2M203 53h1M206 53h1M208 53h1M7 54h2M14 54h1M22 54h1M24 54h1M27 54h1M204 54h1M12 55h1M17 55h1M22 55h1M24 55h1M65 55h1M198 55h1M210 55h1M4 56h1M13 56h1M17 56h2M20 56h1M23 56h1M29 56h1M210 56h1M19 57h2M22 57h2M25 57h1M13 58h1M22 58h1M25 58h2M29 58h1M3 59h1M8 59h1M27 59h1M209 59h1M9 60h1M11 60h1M24 60h1M34 60h1M0 61h1M9 61h1M16 61h1M34 61h1M196 61h1M34 62h1M34 63h1M193 63h1M10 64h1M25 64h1M35 64h1M193 64h1M18 65h1M34 65h2M16 66h1M35 66h1M17 68h1M147 68h1M35 69h1M15 71h1M26 72h1M17 73h1M34 73h1M114 73h1M152 76h1M205 77h1M33 88h1M191 127h1M41 128h1"/>
<path stroke="#20938c" d="M55 3h1M57 3h1M44 4h1M56 4h1M67 4h2M37 5h1M43 5h2M47 5h1M55 5h1M57 5h2M67 5h1M69 5h1M81 5h1M120 5h1M131 5h1M134 5h1M152 5h1M36 6h1M43 6h1M45 6h1M47 6h1M55 6h3M60 6h1M70 6h2M81 6h1M87 6h1M90 6h1M117 6h1M120 6h1M126 6h1M128 6h1M131 6h1M151 6h1M181 6h1M185 6h1M39 7h1M44 7h1M47 7h3M55 7h1M57 7h2M70 7h1M84 7h1M100 7h1M109 7h1M126 7h1M129 7h1M134 7h1M138 7h1M147 7h1M150 7h1M164 7h1M36 8h1M42 8h1M44 8h1M55 8h2M70 8h2M80 8h1M85 8h1M89 8h1M93 8h1M95 8h2M100 8h2M103 8h1M136 8h1M153 8h2M162 8h1M164 8h1M168 8h1M170 8h1M172 8h1M176 8h4M184 8h2M188 8h1M36 9h2M41 9h5M49 9h1M60 9h1M79 9h1M82 9h1M90 9h1M94 9h1M96 9h3M105 9h1M108 9h1M110 9h2M117 9h1M137 9h1M148 9h1M162 9h3M166 9h2M169 9h1M172 9h1M176 9h1M178 9h1M181 9h3M190 9h1M41 10h2M45 10h1M48 10h1M50 10h1M54 10h1M78 10h2M83 10h1M85 10h1M87 10h1M89 10h1M91 10h1M101 10h1M104 10h2M107 10h1M112 10h1M120 10h1M139 10h1M142 10h1M147 10h1M151 10h1M154 10h1M169 10h1M187 10h1M51 11h1M54 11h1M72 11h1M75 11h3M89 11h1M101 11h1M106 11h2M111 11h3M132 11h1M141 11h2M145 11h1M147 11h2M153 11h1M162 11h1M164 11h2M171 11h1M175 11h1M179 11h1M194 11h1M51 12h1M76 12h1M79 12h1M81 12h1M83 12h1M86 12h2M98 12h1M107 12h1M139 12h1M142 12h1M144 12h2M149 12h1M157 12h1M174 12h1M194 12h1M50 13h3M54 13h1M58 13h1M76 13h1M81 13h1M90 13h1M107 13h1M113 13h2M116 13h1M141 13h1M143 13h1M156 13h2M159 13h1M161 13h1M166 13h1M173 13h1M192 13h1M194 13h1M30 14h2M51 14h1M73 14h1M77 14h1M92 14h1M116 14h1M139 14h1M143 14h1M145 14h1M158 14h2M161 14h1M166 14h1M191 14h1M39 15h1M50 15h1M53 15h1M61 15h1M73 15h1M79 15h1M112 15h1M115 15h1M140 15h1M144 15h1M158 15h2M161 15h1M175 15h1M192 15h1M194 15h1M31 16h2M51 16h1M61 16h2M72 16h2M78 16h2M103 16h1M111 16h2M116 16h1M140 16h1M143 16h1M156 16h3M161 16h1M193 16h1M30 17h2M36 17h1M51 17h1M61 17h1M78 17h3M115 17h2M143 17h3M157 17h1M173 17h1M191 17h3M30 18h2M66 18h1M72 18h1M78 18h1M80 18h1M159 18h1M161 18h1M169 18h1M174 18h1M192 18h1M194 18h1M30 19h3M51 19h2M61 19h1M73 19h1M75 19h3M115 19h1M143 19h1M145 19h1M158 19h1M161 19h1M176 19h1M32 20h1M51 20h1M61 20h3M74 20h2M77 20h2M116 20h1M142 20h1M145 20h1M157 20h2M161 20h1M173 20h1M30 21h1M50 21h2M63 21h1M79 21h1M97 21h1M115 21h2M140 21h1M157 21h1M160 21h1M175 21h2M30 22h2M52 22h1M54 22h1M63 22h1M72 22h2M77 22h1M114 22h1M160 22h1M173 22h1M176 22h1M52 23h1M62 23h2M66 23h1M72 23h3M78 23h1M114 23h1M116 23h1M150 23h1M157 23h1M160 23h1M173 23h3M198 23h1M29 24h1M53 24h1M62 24h1M72 24h4M78 24h1M157 24h1M160 24h1M173 24h1M23 25h1M32 25h1M51 25h1M62 25h1M78 25h2M115 25h2M145 25h1M173 25h2M36 26h1M63 26h1M66 26h1M158 26h1M191 26h1M30 27h2M33 27h1M61 27h1M66 27h1M72 27h2M115 27h1M158 27h1M193 27h1M206 27h1M33 28h1M51 28h1M53 28h2M115 28h2M173 28h1M175 28h1M30 29h1M32 29h1M50 29h1M74 29h1M173 29h1M175 29h1M32 30h1M61 30h1M63 30h1M66 30h1M79 30h1M116 30h1M159 30h1M207 30h1M53 31h1M62 31h1M74 31h1M176 31h1M191 31h2M196 31h1M198 31h1M209 31h1M10 32h1M30 32h1M62 32h2M72 32h1M107 32h1M172 32h1M175 32h2M198 32h1M201 32h1M73 33h2M76 33h1M106 33h1M116 33h1M144 33h1M174 33h1M206 33h1M208 33h1M31 34h1M61 34h1M63 34h1M78 34h1M116 34h1M174 34h2M198 34h1M201 34h1M204 34h1M206 34h1M208 34h1M20 35h1M31 35h1M33 35h1M50 35h1M62 35h2M78 35h1M114 35h1M140 35h1M153 35h1M173 35h1M195 35h1M197 35h2M200 35h2M203 35h1M207 35h1M2 36h1M8 36h1M20 36h1M30 36h1M33 36h1M61 36h1M66 36h1M106 36h1M116 36h1M173 36h1M175 36h2M195 36h3M199 36h2M202 36h2M3 37h1M8 37h1M16 37h1M20 37h1M23 37h1M62 37h2M66 37h1M74 37h1M114 37h2M140 37h1M194 37h2M197 37h2M200 37h1M202 37h1M204 37h1M206 37h1M210 37h1M1 38h1M3 38h1M12 38h1M16 38h1M21 38h1M23 38h1M29 38h1M33 38h1M50 38h1M52 38h1M61 38h1M63 38h1M115 38h1M195 38h3M199 38h1M202 38h1M204 38h2M207 38h1M209 38h2M1 39h1M5 39h1M12 39h2M17 39h1M21 39h1M26 39h1M31 39h1M33 39h1M63 39h1M76 39h1M115 39h1M175 39h1M196 39h1M199 39h4M205 39h1M207 39h1M210 39h1M6 40h1M13 40h2M20 40h3M26 40h1M28 40h3M33 40h1M62 40h1M64 40h1M71 40h1M142 40h1M173 40h1M175 40h1M199 40h3M205 40h1M210 40h1M7 41h3M12 41h1M14 41h1M19 41h1M21 41h2M27 41h1M30 41h1M64 41h1M72 41h1M142 41h1M191 41h1M195 41h1M203 41h1M206 41h1M208 41h1M0 42h3M6 42h1M8 42h1M12 42h1M18 42h1M20 42h1M27 42h1M66 42h1M114 42h1M173 42h1M175 42h1M195 42h2M198 42h1M204 42h1M208 42h1M210 42h1M0 43h3M5 43h3M9 43h1M11 43h1M14 43h1M21 43h2M25 43h2M159 43h1M195 43h2M200 43h1M202 43h2M206 43h2M210 43h1M1 44h1M4 44h1M6 44h1M8 44h1M11 44h1M14 44h1M16 44h1M20 44h1M25 44h2M65 44h1M195 44h3M201 44h1M203 44h1M205 44h2M209 44h2M0 45h1M2 45h1M4 45h2M7 45h1M9 45h1M11 45h1M14 45h1M16 45h1M19 45h2M23 45h2M26 45h3M66 45h1M116 45h1M174 45h1M196 45h2M199 45h1M206 45h4M0 46h1M2 46h1M8 46h2M11 46h1M20 46h2M23 46h1M25 46h2M28 46h1M114 46h1M174 46h1M193 46h1M195 46h4M201 46h3M205 46h1M208 46h1M0 47h1M2 47h1M6 47h2M9 47h1M13 47h2M22 47h1M29 47h1M63 47h1M66 47h1M114 47h1M175 47h2M193 47h1M203 47h1M206 47h2M7 48h2M11 48h3M17 48h2M20 48h3M24 48h1M26 48h1M62 48h1M66 48h1M105 48h1M175 48h1M193 48h1M195 48h1M200 48h3M206 48h1M208 48h1M210 48h1M0 49h1M5 49h5M11 49h3M16 49h1M18 49h1M20 49h2M23 49h2M26 49h1M28 49h1M33 49h1M64 49h1M66 49h1M175 49h1M191 49h1M193 49h1M196 49h1M199 49h3M204 49h2M209 49h1M0 50h3M6 50h1M8 50h1M10 50h1M13 50h2M18 50h3M27 50h1M30 50h1M196 50h2M199 50h2M203 50h2M206 50h3M0 51h1M6 51h1M8 51h2M13 51h2M17 51h1M19 51h2M23 51h2M27 51h1M30 51h1M66 51h1M195 51h1M198 51h2M201 51h1M204 51h2M207 51h1M1 52h1M8 52h2M11 52h2M16 52h2M26 52h2M61 52h1M65 52h1M106 52h1M141 52h1M174 52h1M195 52h3M199 52h2M202 52h2M208 52h1M1 53h2M4 53h1M8 53h6M16 53h1M18 53h1M21 53h2M27 53h1M191 53h1M195 53h1M197 53h4M202 53h1M1 54h1M5 54h1M9 54h5M15 54h4M21 54h1M23 54h1M25 54h2M61 54h1M64 54h3M199 54h1M202 54h1M206 54h1M0 55h1M4 55h8M13 55h1M15 55h2M18 55h1M21 55h1M23 55h1M25 55h3M61 55h1M195 55h3M200 55h1M202 55h1M206 55h1M0 56h1M7 56h1M9 56h1M11 56h2M14 56h2M21 56h1M24 56h5M193 56h1M198 56h1M202 56h1M206 56h2M9 57h2M14 57h2M17 57h2M21 57h1M26 57h3M33 57h1M64 57h1M199 57h1M208 57h1M3 58h1M9 58h1M14 58h2M17 58h4M23 58h1M33 58h1M65 58h1M202 58h2M205 58h1M14 59h1M16 59h1M24 59h1M33 59h1M63 59h1M176 59h1M202 59h1M204 59h1M206 59h2M6 60h1M8 60h1M12 60h1M16 60h1M20 60h1M22 60h2M27 60h1M29 60h1M33 60h1M193 60h1M195 60h2M209 60h1M8 61h1M19 61h3M65 61h1M193 61h1M204 61h1M207 61h1M8 62h1M10 62h2M15 62h1M17 62h1M23 62h1M33 62h1M191 62h2M204 62h3M13 63h1M191 63h1M9 64h1M13 64h1M15 64h1M17 64h1M26 64h2M34 64h1M12 65h2M23 66h1M34 66h1M15 67h1M21 67h1M28 67h1M148 67h1M157 67h1M11 68h1M13 68h1M27 68h1M34 68h1M206 68h1M12 69h1M14 69h1M22 69h1M34 69h1M114 69h2M201 69h1M12 70h1M19 70h1M23 70h1M34 70h1M114 70h1M14 71h1M17 71h1M23 71h1M7 72h1M22 72h1M0 73h1M24 73h1M150 73h1M34 74h1M65 74h1M147 74h1M9 75h1M65 75h1M62 77h1M149 77h2M152 77h1M148 78h1M150 78h1M148 79h1M64 80h1M147 80h1M147 81h1M65 83h1M114 84h1M205 97h1M209 127h1M19 128h1M21 128h3M161 128h1M191 128h1M203 128h1M206 128h1"/>
<path stroke="#1f998a" d="M69 4h1M49 5h1M56 5h1M59 5h1M70 5h1M49 6h1M123 6h1M125 6h1M136 6h1M152 6h1M41 7h1M45 7h1M60 7h1M67 7h1M88 7h1M117 7h2M121 7h5M127 7h2M132 7h1M153 7h1M38 8h3M45 8h1M57 8h4M86 8h1M88 8h1M92 8h1M102 8h1M104 8h1M126 8h1M128 8h1M130 8h1M135 8h1M147 8h1M150 8h1M186 8h1M38 9h2M57 9h1M59 9h1M78 9h1M80 9h1M89 9h1M100 9h1M103 9h1M120 9h1M123 9h2M130 9h2M136 9h1M154 9h1M168 9h1M171 9h1M177 9h1M180 9h1M184 9h2M188 9h1M36 10h1M47 10h1M49 10h1M70 10h1M72 10h1M90 10h1M92 10h2M95 10h5M103 10h1M109 10h3M117 10h1M121 10h1M125 10h1M129 10h1M132 10h1M146 10h1M148 10h1M166 10h1M168 10h1M172 10h1M174 10h1M178 10h2M182 10h1M36 11h1M48 11h1M50 11h1M73 11h2M82 11h1M85 11h1M87 11h1M92 11h1M94 11h1M100 11h1M102 11h3M134 11h2M138 11h2M149 11h1M151 11h1M166 11h1M169 11h2M174 11h1M177 11h1M184 11h1M186 11h1M50 12h1M56 12h1M73 12h1M82 12h1M93 12h1M97 12h1M103 12h2M112 12h2M134 12h1M141 12h1M147 12h1M150 12h1M154 12h1M162 12h1M166 12h1M169 12h1M172 12h1M179 12h1M182 12h1M184 12h1M38 13h1M43 13h1M48 13h1M77 13h2M80 13h1M82 13h2M87 13h2M97 13h5M130 13h1M133 13h1M140 13h1M144 13h1M164 13h1M168 13h2M175 13h1M177 13h1M180 13h1M47 14h1M52 14h1M72 14h1M78 14h1M87 14h1M105 14h3M110 14h1M140 14h2M151 14h1M155 14h2M162 14h2M167 14h1M172 14h1M175 14h1M192 14h1M52 15h1M85 15h1M89 15h2M93 15h1M105 15h1M113 15h1M132 15h1M139 15h1M141 15h3M150 15h2M155 15h1M164 15h1M52 16h2M59 16h1M74 16h1M76 16h1M80 16h1M87 16h1M94 16h1M105 16h1M108 16h1M115 16h1M141 16h1M144 16h1M150 16h1M163 16h2M174 16h1M191 16h1M50 17h1M52 17h3M71 17h1M74 17h1M103 17h1M105 17h1M109 17h1M140 17h2M156 17h1M158 17h1M162 17h1M168 17h1M174 17h1M51 18h2M54 18h1M74 18h1M77 18h1M105 18h1M107 18h1M114 18h1M142 18h1M145 18h1M156 18h1M158 18h1M173 18h1M175 18h1M46 19h1M53 19h2M72 19h1M78 19h1M106 19h2M116 19h1M139 19h2M142 19h1M169 19h1M173 19h1M191 19h4M30 20h1M50 20h1M53 20h2M76 20h1M79 20h1M114 20h1M140 20h1M159 20h2M163 20h1M175 20h2M183 20h1M192 20h3M32 21h1M53 21h1M61 21h1M71 21h1M77 21h1M84 21h1M101 21h1M114 21h1M141 21h1M144 21h1M158 21h1M161 21h1M173 21h1M187 21h1M194 21h1M51 22h1M61 22h1M74 22h1M78 22h1M105 22h3M115 22h2M142 22h3M157 22h2M161 22h1M163 22h1M174 22h1M192 22h1M30 23h1M50 23h1M54 23h1M61 23h1M75 23h2M105 23h1M115 23h1M158 23h2M172 23h1M193 23h2M30 24h2M52 24h1M61 24h1M76 24h1M115 24h1M129 24h1M158 24h2M31 25h1M52 25h3M61 25h1M74 25h1M76 25h1M101 25h1M114 25h1M143 25h1M158 25h4M167 25h1M176 25h1M193 25h2M30 26h1M32 26h1M53 26h2M62 26h1M80 26h1M105 26h1M114 26h1M116 26h1M144 26h1M157 26h1M159 26h1M161 26h1M173 26h2M192 26h1M36 27h1M50 27h2M53 27h2M62 27h2M77 27h1M107 27h1M114 27h1M116 27h1M140 27h1M160 27h2M173 27h1M181 27h1M191 27h1M32 28h1M50 28h1M63 28h1M74 28h3M78 28h1M105 28h1M141 28h1M145 28h1M159 28h1M161 28h1M176 28h1M53 29h2M62 29h2M66 29h1M75 29h3M79 29h1M92 29h1M96 29h1M115 29h2M140 29h2M145 29h1M158 29h1M160 29h1M174 29h1M193 29h2M31 30h1M50 30h1M53 30h1M62 30h1M74 30h2M78 30h1M160 30h1M173 30h1M175 30h1M191 30h1M194 30h1M209 30h1M32 31h1M52 31h1M78 31h1M116 31h1M158 31h1M173 31h1M193 31h2M61 32h1M74 32h1M78 32h1M106 32h1M116 32h1M141 32h4M173 32h2M184 32h1M191 32h1M194 32h1M30 33h1M53 33h1M63 33h1M72 33h1M75 33h1M140 33h1M159 33h1M173 33h1M175 33h2M192 33h1M201 33h1M32 34h1M62 34h1M66 34h1M76 34h2M79 34h1M105 34h2M140 34h1M143 34h1M157 34h1M173 34h1M176 34h1M192 34h1M30 35h1M32 35h1M51 35h1M53 35h1M66 35h1M106 35h1M141 35h1M143 35h1M206 35h1M53 36h1M62 36h1M71 36h4M114 36h2M140 36h2M161 36h1M192 36h1M206 36h2M33 37h1M50 37h1M73 37h1M76 37h1M167 37h1M169 37h1M196 37h1M199 37h1M66 38h1M76 38h1M106 38h1M114 38h1M140 38h1M142 38h1M158 38h1M174 38h2M184 38h1M2 39h3M6 39h1M32 39h1M54 39h1M62 39h1M66 39h1M78 39h2M105 39h2M114 39h1M116 39h1M142 39h1M181 39h1M184 39h1M195 39h1M197 39h1M204 39h1M209 39h1M2 40h1M4 40h1M7 40h1M31 40h1M66 40h1M116 40h1M171 40h1M180 40h1M191 40h1M195 40h3M206 40h2M0 41h2M4 41h3M25 41h1M29 41h1M31 41h1M62 41h1M66 41h1M75 41h1M114 41h1M116 41h1M170 41h1M176 41h1M193 41h1M196 41h1M198 41h1M202 41h1M205 41h1M207 41h1M209 41h1M3 42h1M7 42h1M14 42h1M22 42h1M25 42h1M29 42h1M32 42h2M62 42h1M105 42h1M142 42h1M159 42h1M174 42h1M202 42h1M205 42h3M209 42h1M28 43h2M32 43h2M66 43h1M72 43h1M173 43h3M180 43h2M198 43h2M205 43h1M209 43h1M0 44h1M3 44h1M5 44h1M28 44h2M32 44h1M61 44h3M66 44h1M107 44h1M173 44h2M191 44h1M199 44h1M204 44h1M3 45h1M25 45h1M29 45h1M63 45h1M114 45h2M175 45h1M198 45h1M201 45h1M203 45h1M205 45h1M210 45h1M3 46h1M5 46h1M10 46h1M24 46h1M29 46h1M33 46h1M52 46h1M62 46h2M66 46h1M72 46h2M115 46h2M160 46h1M176 46h1M180 46h1M190 46h1M200 46h1M207 46h1M210 46h1M3 47h1M20 47h1M33 47h1M62 47h1M115 47h2M140 47h1M174 47h1M195 47h1M200 47h3M208 47h1M2 48h5M29 48h1M33 48h1M63 48h1M162 48h1M174 48h1M176 48h1M191 48h1M198 48h1M1 49h4M10 49h1M17 49h1M22 49h1M29 49h2M62 49h1M116 49h1M161 49h1M166 49h1M176 49h1M180 49h1M198 49h1M202 49h2M206 49h1M3 50h1M5 50h1M7 50h1M12 50h1M16 50h1M22 50h2M28 50h1M32 50h2M61 50h1M115 50h2M174 50h1M180 50h1M191 50h2M202 50h1M205 50h1M209 50h1M3 51h3M7 51h1M28 51h1M31 51h1M61 51h3M191 51h1M197 51h1M200 51h1M202 51h1M208 51h2M0 52h1M4 52h4M13 52h1M20 52h1M24 52h1M28 52h1M63 52h1M115 52h2M160 52h1M176 52h1M198 52h1M204 52h1M207 52h1M209 52h2M0 53h1M5 53h1M7 53h1M17 53h1M19 53h1M24 53h1M28 53h1M33 53h1M63 53h1M65 53h2M116 53h1M174 53h1M193 53h1M196 53h1M204 53h2M210 53h1M0 54h1M2 54h2M6 54h1M19 54h1M28 54h2M33 54h1M63 54h1M128 54h1M175 54h1M196 54h1M198 54h1M200 54h2M203 54h1M205 54h1M207 54h2M210 54h1M1 55h2M28 55h2M63 55h1M175 55h1M180 55h1M192 55h1M199 55h1M201 55h1M203 55h1M207 55h2M1 56h3M5 56h2M8 56h1M10 56h1M16 56h1M22 56h1M65 56h1M196 56h2M199 56h1M201 56h1M208 56h1M2 57h1M4 57h1M6 57h1M11 57h2M16 57h1M24 57h1M29 57h1M195 57h2M198 57h1M200 57h1M202 57h2M207 57h1M210 57h1M5 58h2M8 58h1M10 58h3M16 58h1M24 58h1M28 58h1M64 58h1M193 58h1M207 58h3M1 59h1M4 59h1M9 59h5M15 59h1M17 59h1M20 59h1M22 59h2M25 59h2M28 59h2M191 59h2M195 59h2M198 59h2M203 59h1M208 59h1M0 60h1M3 60h2M10 60h1M13 60h3M17 60h1M19 60h1M21 60h1M26 60h1M63 60h1M65 60h1M114 60h1M175 60h1M192 60h1M198 60h3M203 60h1M206 60h2M7 61h1M11 61h3M22 61h4M27 61h1M29 61h1M192 61h1M194 61h1M198 61h1M200 61h1M203 61h1M206 61h1M13 62h1M20 62h1M24 62h2M65 62h1M193 62h2M210 62h1M3 63h1M8 63h1M11 63h1M15 63h1M17 63h1M19 63h1M23 63h1M25 63h4M64 63h2M192 63h1M195 63h1M200 63h1M202 63h1M205 63h1M207 63h1M210 63h1M8 64h1M11 64h1M18 64h1M20 64h1M24 64h1M151 64h1M192 64h1M195 64h1M199 64h1M203 64h1M210 64h1M9 65h2M16 65h1M19 65h2M22 65h4M27 65h1M33 65h1M106 65h1M158 65h1M192 65h2M207 65h1M209 65h1M4 66h2M11 66h3M18 66h1M21 66h1M33 66h1M114 66h1M150 66h1M192 66h1M196 66h1M0 67h2M9 67h1M11 67h1M18 67h3M34 67h1M114 67h3M198 67h1M205 67h1M207 67h1M0 68h1M8 68h3M12 68h1M18 68h2M23 68h1M28 68h1M114 68h1M157 68h1M197 68h1M201 68h2M207 68h1M0 69h1M10 69h1M13 69h1M15 69h5M21 69h1M28 69h1M31 69h1M33 69h1M116 69h1M147 69h1M196 69h1M210 69h1M8 70h1M13 70h1M15 70h4M26 70h1M35 70h1M147 70h1M205 70h1M2 71h1M12 71h1M21 71h2M24 71h1M34 71h2M105 71h1M149 71h2M152 71h1M17 72h1M19 72h1M21 72h1M105 72h1M114 72h1M150 72h1M16 73h1M22 73h1M25 73h1M35 73h1M148 73h1M10 74h1M19 74h1M22 74h1M114 74h1M116 74h1M210 74h1M27 75h1M33 75h3M114 75h1M27 76h1M34 76h1M63 76h1M114 76h1M116 76h1M150 76h2M205 76h1M64 77h1M9 78h1M149 78h1M205 78h1M10 79h1M64 79h1M147 79h1M35 80h1M206 80h1M17 81h1M198 81h1M14 82h1M23 83h1M152 83h1M149 84h1M205 84h1M29 85h1M114 85h1M10 86h1M23 86h1M199 87h1M23 89h1M64 89h1M21 92h1M200 108h1M10 110h1M6 128h2M15 128h1M18 128h1M20 128h1M24 128h1M27 128h1M29 128h1M32 128h1M34 128h1M54 128h1M62 128h1M76 128h1M101 128h1M108 128h1M137 128h1M142 128h1M183 128h2M192 128h1M200 128h1M207 128h1"/>
<path stroke="#1fa088" d="M59 6h1M59 7h1M68 7h2M120 7h1M46 8h1M48 8h1M68 8h1M117 8h1M119 8h3M123 8h2M127 8h1M132 8h1M134 8h1M138 8h1M46 9h1M48 9h1M68 9h1M71 9h1M81 9h1M92 9h2M102 9h1M104 9h1M121 9h1M125 9h2M128 9h2M132 9h1M134 9h2M138 9h1M149 9h1M186 9h1M189 9h1M38 10h1M40 10h1M43 10h2M46 10h1M60 10h1M68 10h1M71 10h1M81 10h2M84 10h1M94 10h1M100 10h1M102 10h1M118 10h1M122 10h3M126 10h2M130 10h1M133 10h3M138 10h1M167 10h1M171 10h1M177 10h1M180 10h2M183 10h1M185 10h2M188 10h3M38 11h4M45 11h2M49 11h1M60 11h1M70 11h1M83 11h2M88 11h1M90 11h1M96 11h4M122 11h1M125 11h1M127 11h1M129 11h1M152 11h1M155 11h1M167 11h2M178 11h1M180 11h1M190 11h1M38 12h3M43 12h1M45 12h1M48 12h1M58 12h1M71 12h1M74 12h1M77 12h1M85 12h1M96 12h1M99 12h4M108 12h4M129 12h1M131 12h1M137 12h1M151 12h1M153 12h1M163 12h1M165 12h1M171 12h1M178 12h1M180 12h1M36 13h2M39 13h1M47 13h1M71 13h1M79 13h1M84 13h1M91 13h1M94 13h1M102 13h2M108 13h1M110 13h2M134 13h1M146 13h1M149 13h1M151 13h1M154 13h1M162 13h1M165 13h1M170 13h1M172 13h1M179 13h1M182 13h2M185 13h1M38 14h2M58 14h1M60 14h1M79 14h1M82 14h1M84 14h2M89 14h2M93 14h1M97 14h1M99 14h3M103 14h1M109 14h1M112 14h2M124 14h1M133 14h1M135 14h1M146 14h1M148 14h1M154 14h1M164 14h2M168 14h1M170 14h1M181 14h1M183 14h1M189 14h1M47 15h1M59 15h2M72 15h1M80 15h1M86 15h3M97 15h5M106 15h2M111 15h1M129 15h1M147 15h2M152 15h1M156 15h1M162 15h2M165 15h2M168 15h1M181 15h1M184 15h2M191 15h1M81 16h1M85 16h1M90 16h1M95 16h1M99 16h3M107 16h1M132 16h1M134 16h1M139 16h1M147 16h1M151 16h1M155 16h1M162 16h1M165 16h2M168 16h1M182 16h1M184 16h1M76 17h2M83 17h1M87 17h1M94 17h1M106 17h2M134 17h1M150 17h1M154 17h1M163 17h2M166 17h1M169 17h1M184 17h1M50 18h1M53 18h1M76 18h1M88 18h1M94 18h1M109 18h1M139 18h3M144 18h1M150 18h1M36 19h1M50 19h1M67 19h1M79 19h1M86 19h1M105 19h1M110 19h2M114 19h1M136 19h1M141 19h1M144 19h1M148 19h1M162 19h1M166 19h1M175 19h1M187 19h1M31 20h1M72 20h1M81 20h1M94 20h1M105 20h1M113 20h1M141 20h1M143 20h2M185 20h1M191 20h1M31 21h1M42 21h1M72 21h2M76 21h1M81 21h1M105 21h1M107 21h1M138 21h1M143 21h1M145 21h1M159 21h1M167 21h1M186 21h1M191 21h3M32 22h1M53 22h1M75 22h1M79 22h1M102 22h1M140 22h2M150 22h1M159 22h1M184 22h1M191 22h1M193 22h2M53 23h1M77 23h1M93 23h1M106 23h1M141 23h5M161 23h1M163 23h1M167 23h2M191 23h2M50 24h1M54 24h1M77 24h1M79 24h1M93 24h1M105 24h1M140 24h4M145 24h1M150 24h1M161 24h1M175 24h1M187 24h1M192 24h3M30 25h1M36 25h1M72 25h1M77 25h1M90 25h1M140 25h2M144 25h1M162 25h1M175 25h1M187 25h1M192 25h1M51 26h2M74 26h2M77 26h1M101 26h1M107 26h1M140 26h4M145 26h1M160 26h1M175 26h2M183 26h1M194 26h1M32 27h1M74 27h3M101 27h1M105 27h2M108 27h1M138 27h1M141 27h4M157 27h1M159 27h1M175 27h2M192 27h1M194 27h1M61 28h1M72 28h1M77 28h1M93 28h1M99 28h1M101 28h1M106 28h2M142 28h1M144 28h1M157 28h1M191 28h4M31 29h1M51 29h1M61 29h1M73 29h1M95 29h1M97 29h1M161 29h1M185 29h1M191 29h2M52 30h1M54 30h1M76 30h2M95 30h1M105 30h2M140 30h3M144 30h1M158 30h1M161 30h1M192 30h2M31 31h1M50 31h1M54 31h1M61 31h1M71 31h3M75 31h1M105 31h3M140 31h3M144 31h2M157 31h1M159 31h3M174 31h2M31 32h2M46 32h1M51 32h2M54 32h1M73 32h1M75 32h2M105 32h1M145 32h1M157 32h6M192 32h1M31 33h2M51 33h2M77 33h1M105 33h1M107 33h1M139 33h1M142 33h1M145 33h1M157 33h1M160 33h1M172 33h1M184 33h1M194 33h1M30 34h1M50 34h2M53 34h2M73 34h1M75 34h1M98 34h1M107 34h1M141 34h1M144 34h2M159 34h3M187 34h1M189 34h1M191 34h1M76 35h1M93 35h1M105 35h1M144 35h2M159 35h1M161 35h1M191 35h4M32 36h1M50 36h3M78 36h1M105 36h1M139 36h1M145 36h1M167 36h1M174 36h1M191 36h1M32 37h1M51 37h2M61 37h1M71 37h2M85 37h1M106 37h2M116 37h1M141 37h2M158 37h1M161 37h1M175 37h1M180 37h1M186 37h1M191 37h2M30 38h3M62 38h1M74 38h1M78 38h1M107 38h1M116 38h1M161 38h1M167 38h1M194 38h1M30 39h1M61 39h1M81 39h1M145 39h1M167 39h1M176 39h1M192 39h1M194 39h1M3 40h1M54 40h1M61 40h1M63 40h1M72 40h1M78 40h1M114 40h2M145 40h1M159 40h1M169 40h1M176 40h1M183 40h1M192 40h1M3 41h1M32 41h1M53 41h1M63 41h1M71 41h1M105 41h1M115 41h1M161 41h1M169 41h1M171 41h1M183 41h1M186 41h1M190 41h1M4 42h1M31 42h1M61 42h1M63 42h1M72 42h7M107 42h1M110 42h1M115 42h2M140 42h1M144 42h2M160 42h3M191 42h4M3 43h2M50 43h1M61 43h1M63 43h1M74 43h1M76 43h2M79 43h1M105 43h1M107 43h1M114 43h2M143 43h1M145 43h1M160 43h1M162 43h2M165 43h1M184 43h1M31 44h1M50 44h1M52 44h1M72 44h1M77 44h2M93 44h1M97 44h1M114 44h3M141 44h2M145 44h1M160 44h1M175 44h1M181 44h1M184 44h1M189 44h1M192 44h1M198 44h1M32 45h1M61 45h2M143 45h1M145 45h1M158 45h1M169 45h1M173 45h1M176 45h1M191 45h3M30 46h2M105 46h1M107 46h1M143 46h2M167 46h1M5 47h1M53 47h1M61 47h1M73 47h3M77 47h2M107 47h1M110 47h1M143 47h1M159 47h1M183 47h1M186 47h1M190 47h1M30 48h1M32 48h1M53 48h2M75 48h1M107 48h1M114 48h3M121 48h1M141 48h2M158 48h1M161 48h1M173 48h1M189 48h1M32 49h1M50 49h5M63 49h1M107 49h1M114 49h2M143 49h1M162 49h1M174 49h1M182 49h1M184 49h1M189 49h1M29 50h1M51 50h1M62 50h2M114 50h1M142 50h2M159 50h1M173 50h1M176 50h2M193 50h1M29 51h1M32 51h2M128 51h1M160 51h1M174 51h1M176 51h1M180 51h1M185 51h1M192 51h2M31 52h1M33 52h1M62 52h1M107 52h1M145 52h1M150 52h1M173 52h1M175 52h1M191 52h3M201 52h1M6 53h1M31 53h1M62 53h1M107 53h1M114 53h1M173 53h1M175 53h1M184 53h1M192 53h1M201 53h1M209 53h1M4 54h1M30 54h1M115 54h1M160 54h1M174 54h1M180 54h1M191 54h1M194 54h1M209 54h1M3 55h1M33 55h1M64 55h1M115 55h1M144 55h1M176 55h1M184 55h1M191 55h1M193 55h1M205 55h1M209 55h1M31 56h1M33 56h1M64 56h1M114 56h1M176 56h1M185 56h1M188 56h1M191 56h2M195 56h1M200 56h1M203 56h1M205 56h1M209 56h1M0 57h2M3 57h1M5 57h1M8 57h1M62 57h1M65 57h1M114 57h1M116 57h1M188 57h1M191 57h3M197 57h1M201 57h1M204 57h3M209 57h1M1 58h2M4 58h1M7 58h1M21 58h1M63 58h1M140 58h1M188 58h1M191 58h2M195 58h4M200 58h1M204 58h1M206 58h1M210 58h1M0 59h1M2 59h1M5 59h3M18 59h2M21 59h1M114 59h1M193 59h2M197 59h1M201 59h1M205 59h1M210 59h1M1 60h2M5 60h1M7 60h1M18 60h1M25 60h1M28 60h1M31 60h1M54 60h1M115 60h1M197 60h1M201 60h2M204 60h2M208 60h1M210 60h1M1 61h6M10 61h1M14 61h2M17 61h2M26 61h1M28 61h1M33 61h1M191 61h1M195 61h1M197 61h1M199 61h1M201 61h1M205 61h1M208 61h3M0 62h5M7 62h1M9 62h1M12 62h1M16 62h1M18 62h1M21 62h2M26 62h4M64 62h1M115 62h2M141 62h1M195 62h2M198 62h5M207 62h3M1 63h1M5 63h3M9 63h2M14 63h1M18 63h1M20 63h2M24 63h1M33 63h1M115 63h1M194 63h1M196 63h4M201 63h1M203 63h2M206 63h1M208 63h1M1 64h2M4 64h1M6 64h2M12 64h1M14 64h1M16 64h1M19 64h1M21 64h3M28 64h1M33 64h1M64 64h1M115 64h1M158 64h1M191 64h1M196 64h2M201 64h2M205 64h1M209 64h1M0 65h2M5 65h4M11 65h1M14 65h2M26 65h1M65 65h1M114 65h1M150 65h2M191 65h1M195 65h3M199 65h3M203 65h1M210 65h1M0 66h2M6 66h5M15 66h1M19 66h2M22 66h1M27 66h2M61 66h1M65 66h1M184 66h1M191 66h1M193 66h1M195 66h1M198 66h2M201 66h1M203 66h2M208 66h2M3 67h2M7 67h2M10 67h1M12 67h3M16 67h2M22 67h2M26 67h2M33 67h1M54 67h1M65 67h1M192 67h2M196 67h1M199 67h1M201 67h1M206 67h1M208 67h2M1 68h3M6 68h2M14 68h3M20 68h1M22 68h1M24 68h3M29 68h1M33 68h1M63 68h2M115 68h2M174 68h1M193 68h1M196 68h1M200 68h1M205 68h1M210 68h1M4 69h1M8 69h2M11 69h1M23 69h5M29 69h1M63 69h3M193 69h1M197 69h1M205 69h3M0 70h3M4 70h1M11 70h1M14 70h1M20 70h3M24 70h2M27 70h2M33 70h1M64 70h2M115 70h1M149 70h1M151 70h1M197 70h1M201 70h2M206 70h1M208 70h1M1 71h1M3 71h2M6 71h5M13 71h1M16 71h1M18 71h3M25 71h1M27 71h3M33 71h1M65 71h1M114 71h1M195 71h1M207 71h1M0 72h1M8 72h2M11 72h3M15 72h2M20 72h1M23 72h3M27 72h2M34 72h2M65 72h1M148 72h2M196 72h1M200 72h1M6 73h4M11 73h2M19 73h3M23 73h1M27 73h1M63 73h1M116 73h1M147 73h1M173 73h1M196 73h1M204 73h1M2 74h2M5 74h1M9 74h1M12 74h4M17 74h1M24 74h2M27 74h1M35 74h1M174 74h1M203 74h1M16 75h1M22 75h1M29 75h1M62 75h1M115 75h1M151 75h1M196 75h2M199 75h1M201 75h1M210 75h1M5 76h1M9 76h2M13 76h1M17 76h1M23 76h1M29 76h1M35 76h1M62 76h1M65 76h1M115 76h1M197 76h1M206 76h1M210 76h1M1 77h1M22 77h1M27 77h1M34 77h2M151 77h1M159 77h1M173 77h1M201 77h1M210 77h1M11 78h1M34 78h1M64 78h1M114 78h1M116 78h1M199 78h2M9 79h1M65 79h1M115 79h1M203 79h1M10 80h1M16 80h1M28 80h1M34 80h1M202 80h2M210 80h1M31 81h1M34 81h2M64 81h1M205 81h1M10 82h1M17 82h1M65 82h1M116 82h1M150 82h1M152 82h1M64 83h1M208 83h1M15 84h1M22 84h1M25 84h1M34 84h1M65 84h1M203 84h1M16 85h1M27 85h1M34 85h1M65 85h1M149 85h1M197 85h1M205 85h1M16 86h1M22 86h1M34 86h1M116 86h1M7 87h1M23 87h1M68 87h1M17 88h1M20 88h1M29 88h1M34 88h1M63 88h1M204 88h1M8 89h1M200 89h1M204 90h1M17 91h1M116 93h1M207 98h1M12 100h1M14 100h1M12 109h1M7 127h1M19 127h1M24 127h1M30 127h1M35 127h1M104 127h1M151 127h1M200 127h1M206 127h1M0 128h2M3 128h1M8 128h3M12 128h2M16 128h2M25 128h2M28 128h1M30 128h1M33 128h1M39 128h1M45 128h1M52 128h1M59 128h2M65 128h1M79 128h2M88 128h1M96 128h1M98 128h3M105 128h1M111 128h2M115 128h1M124 128h1M126 128h1M134 128h1M136 128h1M138 128h1M149 128h1M155 128h1M159 128h2M167 128h1M170 128h1M176 128h1M182 128h1M188 128h1M194 128h3M198 128h2M201 128h1M204 128h2M208 128h2"/>
<path stroke="#21a585" d="M41 8h1M67 8h1M118 8h1M122 8h1M125 8h1M129 8h1M40 9h1M55 9h1M58 9h1M70 9h1M86 9h1M118 9h2M122 9h1M127 9h1M37 10h1M39 10h1M59 10h1M69 10h1M86 10h1M108 10h1M119 10h1M131 10h1M136 10h2M149 10h1M37 11h1M42 11h3M47 11h1M68 11h2M71 11h1M91 11h1M95 11h1M108 11h2M117 11h2M120 11h2M124 11h1M126 11h1M131 11h1M133 11h1M137 11h1M146 11h1M172 11h1M187 11h3M36 12h2M46 12h1M57 12h1M68 12h1M84 12h1M88 12h2M91 12h2M94 12h2M121 12h1M126 12h1M128 12h1M132 12h2M138 12h1M146 12h1M148 12h1M155 12h1M167 12h2M170 12h1M183 12h1M185 12h6M40 13h1M46 13h1M55 13h3M59 13h1M86 13h1M92 13h2M95 13h2M104 13h1M112 13h1M124 13h1M136 13h2M147 13h2M163 13h1M167 13h1M171 13h1M178 13h1M184 13h1M187 13h2M190 13h1M36 14h1M43 14h2M55 14h3M59 14h1M80 14h2M83 14h1M86 14h1M91 14h1M94 14h3M98 14h1M108 14h1M111 14h1M129 14h4M136 14h2M149 14h2M152 14h1M169 14h1M178 14h1M184 14h2M187 14h1M41 15h1M44 15h1M49 15h1M58 15h1M82 15h1M91 15h2M94 15h3M102 15h3M108 15h1M110 15h1M131 15h1M134 15h2M138 15h1M153 15h1M167 15h1M169 15h4M178 15h1M183 15h1M186 15h2M189 15h1M36 16h1M86 16h1M88 16h2M91 16h1M93 16h1M97 16h2M102 16h1M104 16h1M106 16h1M110 16h1M113 16h1M152 16h1M178 16h1M189 16h1M48 17h1M81 17h2M84 17h1M86 17h1M88 17h1M91 17h1M93 17h1M98 17h5M139 17h1M147 17h1M153 17h1M165 17h1M182 17h1M45 18h1M71 18h1M79 18h1M84 18h2M91 18h2M96 18h1M100 18h2M110 18h1M113 18h1M149 18h1M162 18h1M164 18h1M166 18h1M168 18h1M171 18h1M185 18h1M48 19h1M80 19h1M85 19h1M89 19h1M93 19h1M109 19h1M113 19h1M132 19h1M156 19h1M168 19h1M171 19h1M180 19h1M184 19h2M59 20h1M73 20h1M80 20h1M86 20h1M90 20h1M92 20h1M97 20h1M100 20h2M106 20h2M109 20h1M120 20h1M139 20h1M162 20h1M164 20h1M168 20h2M171 20h2M182 20h1M187 20h1M56 21h1M74 21h2M80 21h1M94 21h1M104 21h1M106 21h1M139 21h1M162 21h1M168 21h1M172 21h1M182 21h2M45 22h1M59 22h1M76 22h1M81 22h1M83 22h2M93 22h2M97 22h1M99 22h1M109 22h1M124 22h1M139 22h1M145 22h1M152 22h1M156 22h1M162 22h1M182 22h1M186 22h1M79 23h1M85 23h1M94 23h1M99 23h2M102 23h1M108 23h1M137 23h1M140 23h1M156 23h1M180 23h1M182 23h1M184 23h1M190 23h1M36 24h1M88 24h1M100 24h1M106 24h3M110 24h3M139 24h1M144 24h1M149 24h1M163 24h1M166 24h2M172 24h1M180 24h1M191 24h1M50 25h1M73 25h1M75 25h1M80 25h1M93 25h2M97 25h2M100 25h1M105 25h1M107 25h1M110 25h1M112 25h2M119 25h1M128 25h1M135 25h1M139 25h1M142 25h1M163 25h1M166 25h1M180 25h1M191 25h1M44 26h1M50 26h1M71 26h1M73 26h1M76 26h1M78 26h2M97 26h2M106 26h1M135 26h1M138 26h1M156 26h1M164 26h1M167 26h1M172 26h1M184 26h1M193 26h1M52 27h1M56 27h1M71 27h1M79 27h1M88 27h1M93 27h1M99 27h1M111 27h1M145 27h1M156 27h1M163 27h1M165 27h1M167 27h1M172 27h1M178 27h1M184 27h1M31 28h1M36 28h1M52 28h1M79 28h1M84 28h1M108 28h4M140 28h1M143 28h1M167 28h1M169 28h1M182 28h1M184 28h1M36 29h1M52 29h1M72 29h1M100 29h2M105 29h3M142 29h3M153 29h1M157 29h1M167 29h2M172 29h1M51 30h1M73 30h1M80 30h1M107 30h1M143 30h1M145 30h1M157 30h1M162 30h2M172 30h1M174 30h1M185 30h1M189 30h1M51 31h1M76 31h2M79 31h1M92 31h1M95 31h1M143 31h1M169 31h1M184 31h1M189 31h1M77 32h1M139 32h2M156 32h1M164 32h2M170 32h1M177 32h1M185 32h3M193 32h1M46 33h1M54 33h1M79 33h1M98 33h1M101 33h1M141 33h1M158 33h1M161 33h1M167 33h3M181 33h1M190 33h2M193 33h1M52 34h1M72 34h1M74 34h1M100 34h1M142 34h1M153 34h1M167 34h1M169 34h1M185 34h1M193 34h2M52 35h1M54 35h1M71 35h4M77 35h1M80 35h1M98 35h1M107 35h1M112 35h1M121 35h1M142 35h1M156 35h3M160 35h1M167 35h1M172 35h1M180 35h1M185 35h1M187 35h1M31 36h1M54 36h1M79 36h2M93 36h1M107 36h1M121 36h1M143 36h1M157 36h4M169 36h1M180 36h1M183 36h1M185 36h1M31 37h1M53 37h2M75 37h1M77 37h2M105 37h1M143 37h1M145 37h1M148 37h1M157 37h1M160 37h1M166 37h1M168 37h1M174 37h1M183 37h2M53 38h1M72 38h2M75 38h1M98 38h1M105 38h1M145 38h1M157 38h1M159 38h2M170 38h1M178 38h1M180 38h2M183 38h1M186 38h1M191 38h3M50 39h1M53 39h1M73 39h1M75 39h1M77 39h1M120 39h1M140 39h1M144 39h1M157 39h3M161 39h1M183 39h1M189 39h1M191 39h1M32 40h1M52 40h1M101 40h1M143 40h2M158 40h1M160 40h2M168 40h1M172 40h1M181 40h1M187 40h1M50 41h3M61 41h1M73 41h2M76 41h2M80 41h1M93 41h1M106 41h1M130 41h1M140 41h1M143 41h2M159 41h2M162 41h1M172 41h1M180 41h1M182 41h1M184 41h1M187 41h1M192 41h1M30 42h1M50 42h5M106 42h1M157 42h1M163 42h1M167 42h2M172 42h1M180 42h1M183 42h1M186 42h1M188 42h1M30 43h2M51 43h2M75 43h1M106 43h1M108 43h1M110 43h1M116 43h1M118 43h2M140 43h3M144 43h1M157 43h2M161 43h1M172 43h1M185 43h1M191 43h2M194 43h1M30 44h1M51 44h1M54 44h1M76 44h1M110 44h1M121 44h2M143 44h1M147 44h1M158 44h2M161 44h1M164 44h1M166 44h1M171 44h1M180 44h1M187 44h1M193 44h2M30 45h2M52 45h1M73 45h1M77 45h2M111 45h1M142 45h1M144 45h1M160 45h2M166 45h2M181 45h2M185 45h1M189 45h1M194 45h1M32 46h1M51 46h1M71 46h1M75 46h3M106 46h1M140 46h2M145 46h1M151 46h1M157 46h1M159 46h1M173 46h1M177 46h1M182 46h1M186 46h1M189 46h1M191 46h2M30 47h3M51 47h2M72 47h1M76 47h1M96 47h1M101 47h1M106 47h1M123 47h1M139 47h1M142 47h1M145 47h1M154 47h1M160 47h3M168 47h1M173 47h1M177 47h4M182 47h1M188 47h1M191 47h2M31 48h1M51 48h2M74 48h1M76 48h4M103 48h1M106 48h1M110 48h1M139 48h2M143 48h1M145 48h1M149 48h1M164 48h2M168 48h2M180 48h1M183 48h2M186 48h1M188 48h1M192 48h1M194 48h1M61 49h1M77 49h1M97 49h1M106 49h1M124 49h1M140 49h1M142 49h1M145 49h1M157 49h2M160 49h1M164 49h1M172 49h2M177 49h1M187 49h1M192 49h1M194 49h1M50 50h1M53 50h1M72 50h1M76 50h1M93 50h1M122 50h1M161 50h1M170 50h1M175 50h1M181 50h2M184 50h1M187 50h1M50 51h1M72 51h1M74 51h1M106 51h2M114 51h1M116 51h1M122 51h1M143 51h3M156 51h1M159 51h1M161 51h1M170 51h1M172 51h2M175 51h1M177 51h1M181 51h1M187 51h2M190 51h1M194 51h1M57 52h1M73 52h1M77 52h1M93 52h1M114 52h1M152 52h1M158 52h1M182 52h2M186 52h3M194 52h1M54 53h1M61 53h1M77 53h1M115 53h1M128 53h1M141 53h1M145 53h1M149 53h1M153 53h1M160 53h1M171 53h1M182 53h2M186 53h1M194 53h1M32 54h1M62 54h1M95 54h1M114 54h1M116 54h1M118 54h1M145 54h1M149 54h2M173 54h1M176 54h1M179 54h1M184 54h1M189 54h1M192 54h2M30 55h3M62 55h1M66 55h1M73 55h1M114 55h1M174 55h1M181 55h1M190 55h1M194 55h1M30 56h1M32 56h1M62 56h2M66 56h1M97 56h1M115 56h2M144 56h1M173 56h1M175 56h1M181 56h2M187 56h1M30 57h1M63 57h1M66 57h1M115 57h1M143 57h1M174 57h1M176 57h1M182 57h1M185 57h1M194 57h1M0 58h1M30 58h1M32 58h1M62 58h1M115 58h2M143 58h1M185 58h1M194 58h1M201 58h1M32 59h1M64 59h1M66 59h1M115 59h1M157 59h1M159 59h1M175 59h1M186 59h1M200 59h1M64 60h1M116 60h1M174 60h1M176 60h1M187 60h1M191 60h1M194 60h1M30 61h2M61 61h1M63 61h2M66 61h1M96 61h1M98 61h1M114 61h3M157 61h1M174 61h3M188 61h1M190 61h1M202 61h1M5 62h2M14 62h1M19 62h1M30 62h1M62 62h1M66 62h1M106 62h1M114 62h1M157 62h1M176 62h1M188 62h1M190 62h1M197 62h1M203 62h1M0 63h1M2 63h1M4 63h1M12 63h1M16 63h1M22 63h1M29 63h1M62 63h1M66 63h1M114 63h1M116 63h1M139 63h1M147 63h1M157 63h1M159 63h1M176 63h1M209 63h1M0 64h1M3 64h1M5 64h1M30 64h1M61 64h1M63 64h1M65 64h1M113 64h2M116 64h1M146 64h1M157 64h1M161 64h1M198 64h1M200 64h1M204 64h1M206 64h1M208 64h1M2 65h3M17 65h1M21 65h1M28 65h2M62 65h3M95 65h1M101 65h1M116 65h1M145 65h2M159 65h1M198 65h1M202 65h1M204 65h3M208 65h1M2 66h2M14 66h1M17 66h1M24 66h3M64 66h1M66 66h1M115 66h2M197 66h1M200 66h1M202 66h1M205 66h3M210 66h1M2 67h1M5 67h2M24 67h2M29 67h4M64 67h1M66 67h1M111 67h1M158 67h1M174 67h1M191 67h1M195 67h1M197 67h1M200 67h1M202 67h3M210 67h1M4 68h2M32 68h1M53 68h1M65 68h1M141 68h1M151 68h1M169 68h1M191 68h2M198 68h2M208 68h2M1 69h3M6 69h2M20 69h1M146 69h1M157 69h1M159 69h1M176 69h1M191 69h1M200 69h1M204 69h1M209 69h1M3 70h1M5 70h3M9 70h2M29 70h1M36 70h1M62 70h1M106 70h1M116 70h1M150 70h1M152 70h1M159 70h1M176 70h1M193 70h1M195 70h2M198 70h1M200 70h1M204 70h1M207 70h1M0 71h1M5 71h1M11 71h1M36 71h1M54 71h1M62 71h3M115 71h2M151 71h1M196 71h3M201 71h2M205 71h2M208 71h2M2 72h5M10 72h1M14 72h1M18 72h1M29 72h1M33 72h1M63 72h1M115 72h2M157 72h1M173 72h1M195 72h1M197 72h2M201 72h3M205 72h4M1 73h5M10 73h1M13 73h3M18 73h1M26 73h1M28 73h1M30 73h1M64 73h2M115 73h1M149 73h1M151 73h1M174 73h1M193 73h1M197 73h1M200 73h2M203 73h1M205 73h1M207 73h3M0 74h2M8 74h1M11 74h1M16 74h1M18 74h1M20 74h2M23 74h1M26 74h1M64 74h1M115 74h1M148 74h1M196 74h2M200 74h2M2 75h1M5 75h1M7 75h2M10 75h1M12 75h4M17 75h1M19 75h1M21 75h1M23 75h3M116 75h1M152 75h1M202 75h4M207 75h1M2 76h1M8 76h1M11 76h2M14 76h2M21 76h2M25 76h1M33 76h1M52 76h1M64 76h1M66 76h1M199 76h1M201 76h1M203 76h1M207 76h1M3 77h1M8 77h3M13 77h3M17 77h2M20 77h2M24 77h3M65 77h1M114 77h3M148 77h1M197 77h4M202 77h3M207 77h2M10 78h1M14 78h2M17 78h2M21 78h1M24 78h3M35 78h1M62 78h1M65 78h1M147 78h1M152 78h1M192 78h1M196 78h1M203 78h2M207 78h2M1 79h1M4 79h1M21 79h1M34 79h2M114 79h1M116 79h1M149 79h1M159 79h1M167 79h1M173 79h1M196 79h1M198 79h4M204 79h2M207 79h1M210 79h1M14 80h1M17 80h1M19 80h1M31 80h1M65 80h1M115 80h1M148 80h1M198 80h2M205 80h1M207 80h1M1 81h1M7 81h1M11 81h4M16 81h1M21 81h1M24 81h1M27 81h3M50 81h1M62 81h1M116 81h1M146 81h1M191 81h2M196 81h1M199 81h1M210 81h1M3 82h1M11 82h3M16 82h1M21 82h1M23 82h1M26 82h1M28 82h2M64 82h1M196 82h1M200 82h2M205 82h2M10 83h1M13 83h1M15 83h1M20 83h1M22 83h1M26 83h1M28 83h1M114 83h3M149 83h1M195 83h1M198 83h1M200 83h1M203 83h1M205 83h3M13 84h1M19 84h1M21 84h1M27 84h2M148 84h1M197 84h1M199 84h1M204 84h1M10 85h1M18 85h1M22 85h1M24 85h1M63 85h2M115 85h2M207 85h1M7 86h1M9 86h1M13 86h1M17 86h3M21 86h1M29 86h1M64 86h2M114 86h1M158 86h1M204 86h1M5 87h1M19 87h1M21 87h1M25 87h1M29 87h1M34 87h1M62 87h1M118 87h1M124 87h1M195 87h2M201 87h1M5 88h1M8 88h1M16 88h1M21 88h1M23 88h1M25 88h1M62 88h1M114 88h1M196 88h1M199 88h1M5 89h1M22 89h1M33 89h1M63 89h1M114 89h2M197 89h1M203 89h2M114 90h2M197 90h1M203 90h1M207 90h1M193 91h1M195 91h1M207 91h1M13 92h1M17 92h1M33 92h1M114 92h1M116 92h1M192 92h2M21 93h1M8 94h1M16 94h1M116 94h1M5 95h1M67 95h1M17 96h1M23 96h1M29 96h1M203 96h1M11 98h1M196 98h1M199 99h1M5 100h1M10 100h1M29 100h1M8 101h1M14 101h1M33 102h1M115 102h1M198 102h1M27 103h1M29 103h1M35 104h1M146 104h1M2 105h1M25 106h1M8 109h1M10 109h1M22 109h1M14 110h1M5 127h2M8 127h2M11 127h2M14 127h1M17 127h2M20 127h3M25 127h1M28 127h2M32 127h1M34 127h1M41 127h2M45 127h2M69 127h1M97 127h1M112 127h1M118 127h1M131 127h1M133 127h1M138 127h1M152 127h1M161 127h1M166 127h1M171 127h1M174 127h1M190 127h1M194 127h2M198 127h2M201 127h1M203 127h1M207 127h1M2 128h1M4 128h2M11 128h1M14 128h1M31 128h1M35 128h3M43 128h1M46 128h3M51 128h1M53 128h1M58 128h1M63 128h2M70 128h1M73 128h2M77 128h1M82 128h1M84 128h2M90 128h3M94 128h2M97 128h1M102 128h3M114 128h1M116 128h5M128 128h2M132 128h1M135 128h1M139 128h1M143 128h1M145 128h2M148 128h1M150 128h4M157 128h1M162 128h1M164 128h2M168 128h2M171 128h2M174 128h1M177 128h1M179 128h2M185 128h1M187 128h1M190 128h1M193 128h1M197 128h1M202 128h1M210 128h1"/>
<path stroke="#25ac82" d="M69 8h1M56 9h1M67 9h1M57 10h2M128 10h1M56 11h1M59 11h1M119 11h1M123 11h1M128 11h1M130 11h1M181 11h1M183 11h1M185 11h1M41 12h2M44 12h1M47 12h1M49 12h1M70 12h1M118 12h1M122 12h1M124 12h2M130 12h1M135 12h2M152 12h1M181 12h1M41 13h2M44 13h1M49 13h1M85 13h1M89 13h1M118 13h1M126 13h1M129 13h1M131 13h2M135 13h1M138 13h1M150 13h1M152 13h1M155 13h1M181 13h1M186 13h1M189 13h1M37 14h1M40 14h3M46 14h1M48 14h2M102 14h1M104 14h1M118 14h2M121 14h1M123 14h1M125 14h1M127 14h1M134 14h1M138 14h1M147 14h1M177 14h1M180 14h1M182 14h1M186 14h1M190 14h1M36 15h1M38 15h1M42 15h1M55 15h1M84 15h1M109 15h1M121 15h4M128 15h1M136 15h1M146 15h1M149 15h1M154 15h1M182 15h1M45 16h1M47 16h1M49 16h1M55 16h1M57 16h1M71 16h1M82 16h1M84 16h1M96 16h1M109 16h1M129 16h1M131 16h1M135 16h2M138 16h1M146 16h1M148 16h1M154 16h1M167 16h1M169 16h4M181 16h1M186 16h1M37 17h1M60 17h1M85 17h1M90 17h1M92 17h1M95 17h1M97 17h1M104 17h1M108 17h1M111 17h1M137 17h1M149 17h1M152 17h1M167 17h1M170 17h2M187 17h1M190 17h1M46 18h1M82 18h1M86 18h1M93 18h1M95 18h1M99 18h1M102 18h2M108 18h1M111 18h2M153 18h1M165 18h1M167 18h1M170 18h1M184 18h1M188 18h1M58 19h1M71 19h1M82 19h2M88 19h1M92 19h1M94 19h1M96 19h2M99 19h3M104 19h1M112 19h1M133 19h1M146 19h1M149 19h1M151 19h1M163 19h3M167 19h1M170 19h1M183 19h1M36 20h1M46 20h1M56 20h2M71 20h1M85 20h1M87 20h1M89 20h1M96 20h1M99 20h1M103 20h2M111 20h2M121 20h2M129 20h1M132 20h1M148 20h1M151 20h1M155 20h2M165 20h3M170 20h1M180 20h1M184 20h1M189 20h1M36 21h1M47 21h1M49 21h1M57 21h3M82 21h1M85 21h2M90 21h1M98 21h3M102 21h2M122 21h1M147 21h2M151 21h2M156 21h1M164 21h3M169 21h1M171 21h1M181 21h1M184 21h1M188 21h1M42 22h1M47 22h1M56 22h1M60 22h1M71 22h1M82 22h1M88 22h2M91 22h2M95 22h2M98 22h1M101 22h1M103 22h2M108 22h1M147 22h1M153 22h1M164 22h9M181 22h1M183 22h1M187 22h2M36 23h1M45 23h1M47 23h1M49 23h1M71 23h1M83 23h1M95 23h1M97 23h2M109 23h5M125 23h1M129 23h1M139 23h1M147 23h1M152 23h2M164 23h3M171 23h1M186 23h1M49 24h1M89 24h1M94 24h6M101 24h1M109 24h1M113 24h1M119 24h1M123 24h1M156 24h1M165 24h1M168 24h2M171 24h1M182 24h1M185 24h1M189 24h2M37 25h2M40 25h1M43 25h1M46 25h1M55 25h1M58 25h1M68 25h1M92 25h1M96 25h1M99 25h1M103 25h1M106 25h1M108 25h1M111 25h1M126 25h1M146 25h1M149 25h1M156 25h1M164 25h2M168 25h2M171 25h2M183 25h1M189 25h1M60 26h1M88 26h1M91 26h2M95 26h2M103 26h1M108 26h1M110 26h1M113 26h1M130 26h2M134 26h1M139 26h1M148 26h1M162 26h2M165 26h2M169 26h3M180 26h2M186 26h1M46 27h1M57 27h2M78 27h1M80 27h1M89 27h1M95 27h2M98 27h1M100 27h1M103 27h1M109 27h2M134 27h1M151 27h1M162 27h1M164 27h1M166 27h1M169 27h2M180 27h1M185 27h2M38 28h1M40 28h1M47 28h1M56 28h3M71 28h1M85 28h1M92 28h1M95 28h3M100 28h1M113 28h1M117 28h1M133 28h1M139 28h1M156 28h1M163 28h1M172 28h1M179 28h1M188 28h1M190 28h1M39 29h1M80 29h1M84 29h1M93 29h1M98 29h1M110 29h3M117 29h2M132 29h1M139 29h1M156 29h1M162 29h1M169 29h2M184 29h1M187 29h1M36 30h1M49 30h1M71 30h2M92 30h1M96 30h1M99 30h1M101 30h1M111 30h1M132 30h1M139 30h1M156 30h1M167 30h4M180 30h1M41 31h1M84 31h1M93 31h1M96 31h3M111 31h1M113 31h1M128 31h1M139 31h1M156 31h1M162 31h4M168 31h1M170 31h2M180 31h1M183 31h1M185 31h1M188 31h1M36 32h1M38 32h1M44 32h1M50 32h1M71 32h1M79 32h1M93 32h1M95 32h1M97 32h1M101 32h1M111 32h1M125 32h1M163 32h1M166 32h4M181 32h1M183 32h1M188 32h1M50 33h1M97 33h1M108 33h2M111 33h1M121 33h1M134 33h1M156 33h1M162 33h2M166 33h1M170 33h2M180 33h1M182 33h1M185 33h4M48 34h1M80 34h1M87 34h1M101 34h1M111 34h2M121 34h2M125 34h2M128 34h1M156 34h1M158 34h1M171 34h1M180 34h3M184 34h1M190 34h1M60 35h1M75 35h1M82 35h2M88 35h1M97 35h1M109 35h1M111 35h1M118 35h1M126 35h1M139 35h1M168 35h1M170 35h2M182 35h3M75 36h2M97 36h1M101 36h1M118 36h1M131 36h1M142 36h1M144 36h1M156 36h1M168 36h1M170 36h2M182 36h1M184 36h1M186 36h5M193 36h1M56 37h1M80 37h1M99 37h1M101 37h1M139 37h1M144 37h1M156 37h1M159 37h1M163 37h1M165 37h1M170 37h2M181 37h1M185 37h1M187 37h2M190 37h1M193 37h1M51 38h1M54 38h1M79 38h1M94 38h1M110 38h1M141 38h1M143 38h2M163 38h2M166 38h1M168 38h2M171 38h2M182 38h1M187 38h1M190 38h1M36 39h1M72 39h1M74 39h1M80 39h1M84 39h1M101 39h1M107 39h1M118 39h1M121 39h1M141 39h1M143 39h1M151 39h1M160 39h1M166 39h1M168 39h5M177 39h1M180 39h1M186 39h2M193 39h1M36 40h2M51 40h1M53 40h1M73 40h5M79 40h2M105 40h2M140 40h2M151 40h2M156 40h2M162 40h1M165 40h1M167 40h1M170 40h1M186 40h1M189 40h2M193 40h2M54 41h1M107 41h1M139 41h1M141 41h1M145 41h1M157 41h2M168 41h1M181 41h1M188 41h1M194 41h1M44 42h1M96 42h1M113 42h1M118 42h1M139 42h1M141 42h1M143 42h1M146 42h1M158 42h1M165 42h1M169 42h2M181 42h1M184 42h2M189 42h2M53 43h2M73 43h1M85 43h1M96 43h2M101 43h1M113 43h1M122 43h1M164 43h1M166 43h3M186 43h1M188 43h3M193 43h1M53 44h1M79 44h2M101 44h1M105 44h2M108 44h1M111 44h1M119 44h1M125 44h3M140 44h1M144 44h1M157 44h1M162 44h2M165 44h1M168 44h2M172 44h1M182 44h1M185 44h2M188 44h1M190 44h1M50 45h2M54 45h1M71 45h1M93 45h1M96 45h2M99 45h1M105 45h3M112 45h1M124 45h1M128 45h1M140 45h2M147 45h1M151 45h1M157 45h1M159 45h1M162 45h1M165 45h1M171 45h1M180 45h1M183 45h2M186 45h3M190 45h1M50 46h1M53 46h2M74 46h1M78 46h1M85 46h1M96 46h1M124 46h1M139 46h1M142 46h1M152 46h3M156 46h1M158 46h1M161 46h1M168 46h1M170 46h3M178 46h2M181 46h1M183 46h1M185 46h1M188 46h1M194 46h1M36 47h1M54 47h1M79 47h1M100 47h1M103 47h1M128 47h1M133 47h1M141 47h1M144 47h1M146 47h1M149 47h3M157 47h2M163 47h1M167 47h1M169 47h1M172 47h1M189 47h1M194 47h1M61 48h1M67 48h1M72 48h2M80 48h1M96 48h2M99 48h1M108 48h1M111 48h1M124 48h1M133 48h1M144 48h1M154 48h1M156 48h2M159 48h2M163 48h1M167 48h1M172 48h1M178 48h2M190 48h1M31 49h1M75 49h2M78 49h2M82 49h1M99 49h1M101 49h1M105 49h1M110 49h3M122 49h1M125 49h1M139 49h1M141 49h1M144 49h1M148 49h2M159 49h1M163 49h1M165 49h1M168 49h1M170 49h2M178 49h2M181 49h1M183 49h1M186 49h1M188 49h1M31 50h1M36 50h1M52 50h1M54 50h1M71 50h1M101 50h1M105 50h3M124 50h1M128 50h1M135 50h1M139 50h3M144 50h2M148 50h1M157 50h2M160 50h1M162 50h1M165 50h2M169 50h1M172 50h1M185 50h2M188 50h3M194 50h1M51 51h1M73 51h1M75 51h3M104 51h2M118 51h1M140 51h3M151 51h1M157 51h2M169 51h1M178 51h1M182 51h1M184 51h1M186 51h1M32 52h1M50 52h2M53 52h2M74 52h1M76 52h1M96 52h1M105 52h1M139 52h2M143 52h1M157 52h1M159 52h1M161 52h1M167 52h1M172 52h1M178 52h1M180 52h1M184 52h2M189 52h1M32 53h1M79 53h1M105 53h2M123 53h1M142 53h1M150 53h1M158 53h2M165 53h1M169 53h1M176 53h1M178 53h4M188 53h2M31 54h1M51 54h2M54 54h1M120 54h1M123 54h1M140 54h3M144 54h1M158 54h1M164 54h2M168 54h1M172 54h1M181 54h1M183 54h1M186 54h3M190 54h1M51 55h1M54 55h1M101 55h1M116 55h1M120 55h1M140 55h2M157 55h2M160 55h2M172 55h2M182 55h1M185 55h1M187 55h2M61 56h1M75 56h2M101 56h1M157 56h1M174 56h1M180 56h1M184 56h1M190 56h1M194 56h1M31 57h2M61 57h1M81 57h1M159 57h2M168 57h1M173 57h1M178 57h1M181 57h1M61 58h1M66 58h1M110 58h1M113 58h2M159 58h1M173 58h1M175 58h2M178 58h1M182 58h2M186 58h1M30 59h2M50 59h1M61 59h2M85 59h1M116 59h1M140 59h1M143 59h1M161 59h1M165 59h1M173 59h2M179 59h1M183 59h1M187 59h1M189 59h1M30 60h1M32 60h1M51 60h1M61 60h1M66 60h1M144 60h1M157 60h1M160 60h1M162 60h2M179 60h1M184 60h1M190 60h1M62 61h1M74 61h1M105 61h1M141 61h1M143 61h1M160 61h1M173 61h1M185 61h1M31 62h2M61 62h1M63 62h1M108 62h2M140 62h1M159 62h2M179 62h2M30 63h1M32 63h1M36 63h1M61 63h1M63 63h1M140 63h1M158 63h1M160 63h2M166 63h1M179 63h1M186 63h1M188 63h2M29 64h1M62 64h1M139 64h1M152 64h1M159 64h1M173 64h1M178 64h1M189 64h1M194 64h1M31 65h1M66 65h1M97 65h1M115 65h1M149 65h1M162 65h1M167 65h1M173 65h2M184 65h1M187 65h1M29 66h3M62 66h2M106 66h1M111 66h1M148 66h2M157 66h3M173 66h2M53 67h1M61 67h3M107 67h1M140 67h2M147 67h1M159 67h1M184 67h1M188 67h1M31 68h1M54 68h1M61 68h2M66 68h1M106 68h2M140 68h1M148 68h1M158 68h1M160 68h1M181 68h1M195 68h1M203 68h2M5 69h1M32 69h1M36 69h1M51 69h1M53 69h1M62 69h1M66 69h1M141 69h1M144 69h2M151 69h2M173 69h1M177 69h1M186 69h1M192 69h1M194 69h2M198 69h2M203 69h1M208 69h1M31 70h1M63 70h1M66 70h1M146 70h1M160 70h1M173 70h1M185 70h1M190 70h3M199 70h1M209 70h2M30 71h1M53 71h1M80 71h1M106 71h2M144 71h2M147 71h2M157 71h1M174 71h1M191 71h3M199 71h2M203 71h2M210 71h1M1 72h1M32 72h1M62 72h1M64 72h1M66 72h1M151 72h2M160 72h2M174 72h1M191 72h1M193 72h1M199 72h1M204 72h1M209 72h1M33 73h1M50 73h1M62 73h1M66 73h1M157 73h1M160 73h2M192 73h1M198 73h1M202 73h1M206 73h1M210 73h1M4 74h1M6 74h2M28 74h2M32 74h2M62 74h2M150 74h2M157 74h1M160 74h2M199 74h1M202 74h1M204 74h6M1 75h1M3 75h2M6 75h1M11 75h1M18 75h1M20 75h1M26 75h1M28 75h1M32 75h1M63 75h2M147 75h1M150 75h1M158 75h1M161 75h1M206 75h1M208 75h2M0 76h2M4 76h1M16 76h1M19 76h2M24 76h1M26 76h1M28 76h1M110 76h1M149 76h1M173 76h1M193 76h1M195 76h2M198 76h1M200 76h1M202 76h1M208 76h2M5 77h1M11 77h2M19 77h1M23 77h1M28 77h2M33 77h1M63 77h1M66 77h2M85 77h1M105 77h1M108 77h1M110 77h1M192 77h1M196 77h1M206 77h1M209 77h1M1 78h1M4 78h1M12 78h2M19 78h2M22 78h2M27 78h2M33 78h1M66 78h1M97 78h1M115 78h1M144 78h1M151 78h1M160 78h1M198 78h1M201 78h2M206 78h1M209 78h2M2 79h1M5 79h1M7 79h1M11 79h1M13 79h4M20 79h1M22 79h2M25 79h3M30 79h1M33 79h1M62 79h1M66 79h1M71 79h1M150 79h1M160 79h1M192 79h1M202 79h1M206 79h1M208 79h2M0 80h3M4 80h2M7 80h3M12 80h2M15 80h1M18 80h1M20 80h2M23 80h5M29 80h1M62 80h1M106 80h1M113 80h2M116 80h1M191 80h1M195 80h2M200 80h2M204 80h1M209 80h1M4 81h1M8 81h3M15 81h1M18 81h1M20 81h1M22 81h2M26 81h1M32 81h1M65 81h2M106 81h1M114 81h2M150 81h2M173 81h2M193 81h1M195 81h1M197 81h1M200 81h4M206 81h3M0 82h1M2 82h1M7 82h1M9 82h1M18 82h1M20 82h1M22 82h1M24 82h2M27 82h1M34 82h2M62 82h1M109 82h1M114 82h1M147 82h1M149 82h1M151 82h1M195 82h1M197 82h3M202 82h2M207 82h2M0 83h1M2 83h2M5 83h3M9 83h1M11 83h2M14 83h1M16 83h2M19 83h1M21 83h1M24 83h2M27 83h1M29 83h1M31 83h1M33 83h3M62 83h1M150 83h2M196 83h2M199 83h1M202 83h1M204 83h1M1 84h3M5 84h2M8 84h3M14 84h1M16 84h1M20 84h1M24 84h1M26 84h1M29 84h1M33 84h1M62 84h1M64 84h1M115 84h2M150 84h1M152 84h1M196 84h1M201 84h2M206 84h3M2 85h1M5 85h5M13 85h3M17 85h1M19 85h3M23 85h1M25 85h2M61 85h2M66 85h1M150 85h1M196 85h1M199 85h1M202 85h1M204 85h1M206 85h1M209 85h1M1 86h1M3 86h1M11 86h2M15 86h1M20 86h1M26 86h3M30 86h2M61 86h1M63 86h1M195 86h3M199 86h1M205 86h1M207 86h2M0 87h1M3 87h1M9 87h6M16 87h3M24 87h1M26 87h1M28 87h1M31 87h3M64 87h2M114 87h3M192 87h1M198 87h1M203 87h2M207 87h2M210 87h1M4 88h1M6 88h1M11 88h2M14 88h2M18 88h1M22 88h1M24 88h1M28 88h1M32 88h1M64 88h1M115 88h2M119 88h1M192 88h1M197 88h1M200 88h2M9 89h1M12 89h3M16 89h2M21 89h1M24 89h2M27 89h3M116 89h1M152 89h2M160 89h1M191 89h2M196 89h1M199 89h1M205 89h1M5 90h1M14 90h1M17 90h1M19 90h1M21 90h3M27 90h2M64 90h1M66 90h1M116 90h1M154 90h1M195 90h2M202 90h1M7 91h1M9 91h1M13 91h2M21 91h1M26 91h1M33 91h1M114 91h2M199 91h1M201 91h2M204 91h2M9 92h1M12 92h1M18 92h1M24 92h2M107 92h1M112 92h1M197 92h1M206 92h2M12 93h1M17 93h1M22 93h1M114 93h2M205 93h2M12 94h2M23 94h1M114 94h2M204 94h1M17 95h2M25 95h1M204 95h1M206 95h1M12 96h1M15 96h1M67 96h1M195 96h1M201 96h2M204 96h2M11 97h1M29 97h1M115 97h1M125 97h1M196 97h1M207 97h1M9 98h1M20 98h1M22 98h1M26 98h2M71 98h1M107 98h1M205 98h1M17 99h1M32 99h1M116 99h1M158 99h1M8 100h1M15 100h1M21 100h1M30 100h1M208 100h1M0 101h1M15 101h1M18 101h1M33 101h1M62 101h1M4 102h1M27 102h1M31 102h1M107 102h1M201 102h2M206 102h1M5 103h1M17 103h1M24 103h1M31 103h1M115 103h1M193 103h1M203 103h1M5 104h2M20 104h1M26 104h1M28 104h1M32 104h1M195 104h1M200 104h1M203 104h1M0 105h1M32 105h1M173 105h1M0 106h1M2 106h1M10 106h1M18 106h1M26 106h1M9 107h1M12 107h1M20 107h1M25 107h1M199 107h2M4 108h1M11 108h2M27 108h1M21 109h1M5 110h1M15 110h2M21 110h1M10 111h1M13 111h1M28 111h1M33 112h1M12 113h1M16 113h1M31 113h1M203 113h1M6 114h1M8 115h1M207 116h1M25 117h1M196 117h1M200 117h1M207 123h1M32 124h2M138 126h1M0 127h5M10 127h1M13 127h1M15 127h2M23 127h1M26 127h2M33 127h1M36 127h1M39 127h1M43 127h2M48 127h2M52 127h1M54 127h2M57 127h1M61 127h2M64 127h2M70 127h1M75 127h1M79 127h3M90 127h1M93 127h4M98 127h1M100 127h1M103 127h1M107 127h2M111 127h1M115 127h1M119 127h1M123 127h1M127 127h1M130 127h1M135 127h1M137 127h1M139 127h1M145 127h3M150 127h1M157 127h1M159 127h2M163 127h1M165 127h1M168 127h3M175 127h2M179 127h1M182 127h1M188 127h1M192 127h1M196 127h2M202 127h1M204 127h2M208 127h1M210 127h1M38 128h1M42 128h1M44 128h1M49 128h2M55 128h3M61 128h1M66 128h4M71 128h2M75 128h1M78 128h1M81 128h1M86 128h2M89 128h1M93 128h1M106 128h2M109 128h2M113 128h1M121 128h3M125 128h1M127 128h1M130 128h2M133 128h1M140 128h2M144 128h1M147 128h1M154 128h1M156 128h1M158 128h1M163 128h1M166 128h1M173 128h1M175 128h1M178 128h1M181 128h1M186 128h1M189 128h1"/>
<path stroke="#2db27d" d="M69 9h1M55 10h2M67 10h1M55 11h1M57 11h2M67 11h1M136 11h1M55 12h1M59 12h2M67 12h1M69 12h1M119 12h2M123 12h1M127 12h1M45 13h1M60 13h1M68 13h1M119 13h4M125 13h1M128 13h1M153 13h1M67 14h1M71 14h1M117 14h1M120 14h1M122 14h1M126 14h1M128 14h1M153 14h1M179 14h1M188 14h1M43 15h1M45 15h2M56 15h2M67 15h1M69 15h1M81 15h1M83 15h1M117 15h1M119 15h2M125 15h3M130 15h1M137 15h1M177 15h1M180 15h1M188 15h1M190 15h1M38 16h2M41 16h1M44 16h1M46 16h1M58 16h1M60 16h1M69 16h2M83 16h1M92 16h1M122 16h3M128 16h1M137 16h1M149 16h1M180 16h1M185 16h1M187 16h2M190 16h1M41 17h1M43 17h1M45 17h1M47 17h1M49 17h1M69 17h1M89 17h1M96 17h1M110 17h1M112 17h2M124 17h1M128 17h1M131 17h3M136 17h1M138 17h1M146 17h1M151 17h1M172 17h1M177 17h1M181 17h1M186 17h1M188 17h2M39 18h1M44 18h1M48 18h1M81 18h1M87 18h1M89 18h1M97 18h2M104 18h1M121 18h1M130 18h1M132 18h6M146 18h1M151 18h1M154 18h1M163 18h1M172 18h1M177 18h1M180 18h1M182 18h2M186 18h2M44 19h1M55 19h1M57 19h1M81 19h1M84 19h1M87 19h1M90 19h1M95 19h1M98 19h1M102 19h2M108 19h1M121 19h2M126 19h1M129 19h3M135 19h1M137 19h1M150 19h1M172 19h1M182 19h1M186 19h1M188 19h2M41 20h1M44 20h1M48 20h2M55 20h1M82 20h1M84 20h1M88 20h1M93 20h1M98 20h1M102 20h1M108 20h1M110 20h1M133 20h1M135 20h2M146 20h1M177 20h1M181 20h1M186 20h1M188 20h1M44 21h2M55 21h1M70 21h1M83 21h1M87 21h2M92 21h2M95 21h2M109 21h1M112 21h2M119 21h1M129 21h1M131 21h1M134 21h1M137 21h1M150 21h1M153 21h1M170 21h1M178 21h1M185 21h1M36 22h2M44 22h1M55 22h1M67 22h1M70 22h1M80 22h1M85 22h1M87 22h1M90 22h1M100 22h1M110 22h1M112 22h1M130 22h1M134 22h1M137 22h2M151 22h1M190 22h1M59 23h2M84 23h1M86 23h1M88 23h2M92 23h1M96 23h1M101 23h1M103 23h2M117 23h1M126 23h1M130 23h1M133 23h1M149 23h1M154 23h1M169 23h2M181 23h1M183 23h1M185 23h1M187 23h3M38 24h4M43 24h2M46 24h1M80 24h1M85 24h2M92 24h1M103 24h1M117 24h2M126 24h1M128 24h1M135 24h2M146 24h3M153 24h2M162 24h1M164 24h1M179 24h1M183 24h2M186 24h1M44 25h1M49 25h1M71 25h1M87 25h1M95 25h1M102 25h1M109 25h1M122 25h1M129 25h1M131 25h1M136 25h1M148 25h1M155 25h1M170 25h1M181 25h1M185 25h2M190 25h1M39 26h1M46 26h1M48 26h2M55 26h4M68 26h1M70 26h1M82 26h2M90 26h1M93 26h2M99 26h2M102 26h1M104 26h1M109 26h1M111 26h2M119 26h1M126 26h1M146 26h1M149 26h1M168 26h1M185 26h1M188 26h3M40 27h1M42 27h1M44 27h1M47 27h2M55 27h1M59 27h1M82 27h2M92 27h1M94 27h1M97 27h1M102 27h1M104 27h1M113 27h1M122 27h1M137 27h1M139 27h1M152 27h1M168 27h1M171 27h1M182 27h1M188 27h1M190 27h1M37 28h1M44 28h2M48 28h1M60 28h1M69 28h1M82 28h1M87 28h1M89 28h1M94 28h1M98 28h1M103 28h2M112 28h1M128 28h3M136 28h2M150 28h2M153 28h1M164 28h3M168 28h1M170 28h2M178 28h1M181 28h1M185 28h3M189 28h1M37 29h2M45 29h1M47 29h2M58 29h1M60 29h1M85 29h4M90 29h1M94 29h1M99 29h1M108 29h2M113 29h1M119 29h1M121 29h2M125 29h1M127 29h1M133 29h1M154 29h1M166 29h1M171 29h1M180 29h1M182 29h1M186 29h1M189 29h2M42 30h1M45 30h1M57 30h1M81 30h2M86 30h2M94 30h1M98 30h1M100 30h1M102 30h1M109 30h2M112 30h2M117 30h2M121 30h1M124 30h1M126 30h1M128 30h1M146 30h1M150 30h1M164 30h3M171 30h1M182 30h3M186 30h3M36 31h1M40 31h1M45 31h1M47 31h1M49 31h1M55 31h1M80 31h1M82 31h2M87 31h2M94 31h1M99 31h1M101 31h1M104 31h1M109 31h1M122 31h1M124 31h1M131 31h1M146 31h1M166 31h2M181 31h2M186 31h2M190 31h1M40 32h1M48 32h1M84 32h2M89 32h1M98 32h2M104 32h1M108 32h3M117 32h1M119 32h1M148 32h1M171 32h1M180 32h1M182 32h1M189 32h2M36 33h1M39 33h2M44 33h1M48 33h1M56 33h1M81 33h1M85 33h2M93 33h1M95 33h1M99 33h2M110 33h1M112 33h1M137 33h1M151 33h1M164 33h2M179 33h1M189 33h1M36 34h1M38 34h1M45 34h1M71 34h1M86 34h1M89 34h1M91 34h1M93 34h2M97 34h1M99 34h1M109 34h2M113 34h1M117 34h2M120 34h1M139 34h1M146 34h2M150 34h1M165 34h2M168 34h1M170 34h1M179 34h1M183 34h1M186 34h1M188 34h1M36 35h1M39 35h2M81 35h1M84 35h1M91 35h2M100 35h2M108 35h1M117 35h1M120 35h1M122 35h1M124 35h2M146 35h1M150 35h1M166 35h1M169 35h1M179 35h1M181 35h1M186 35h1M188 35h1M190 35h1M36 36h1M39 36h1M77 36h1M84 36h2M98 36h2M133 36h1M138 36h1M146 36h1M149 36h1M153 36h1M163 36h1M165 36h2M172 36h1M178 36h1M181 36h1M39 37h1M41 37h1M79 37h1M90 37h1M93 37h2M96 37h1M108 37h4M120 37h1M128 37h1M162 37h1M164 37h1M172 37h1M182 37h1M38 38h1M46 38h1M71 38h1M80 38h1M85 38h1M96 38h1M101 38h1M109 38h1M111 38h2M118 38h1M120 38h1M124 38h1M134 38h1M148 38h1M156 38h1M162 38h1M165 38h1M177 38h1M185 38h1M188 38h2M38 39h1M41 39h1M44 39h1M51 39h1M68 39h1M71 39h1M87 39h1M94 39h1M109 39h4M122 39h1M124 39h1M128 39h1M147 39h1M162 39h1M164 39h2M178 39h1M182 39h1M185 39h1M188 39h1M50 40h1M57 40h1M81 40h1M85 40h1M88 40h1M93 40h1M99 40h1M107 40h1M109 40h1M118 40h1M122 40h1M127 40h1M139 40h1M166 40h1M178 40h1M182 40h1M185 40h1M36 41h1M78 41h1M83 41h2M101 41h1M110 41h1M112 41h1M118 41h1M127 41h1M146 41h1M150 41h1M156 41h1M165 41h3M178 41h2M185 41h1M189 41h1M79 42h1M85 42h1M93 42h1M99 42h1M101 42h1M112 42h1M122 42h1M127 42h1M130 42h1M149 42h1M164 42h1M166 42h1M171 42h1M179 42h1M182 42h1M39 43h1M93 43h2M98 43h1M100 43h1M109 43h1M111 43h2M125 43h3M133 43h1M136 43h2M148 43h2M156 43h1M169 43h1M171 43h1M177 43h1M179 43h1M182 43h1M187 43h1M67 44h3M73 44h3M81 44h3M94 44h1M98 44h2M112 44h2M118 44h1M120 44h1M123 44h2M128 44h1M148 44h1M156 44h1M167 44h1M177 44h1M183 44h1M36 45h1M53 45h1M75 45h2M79 45h1M84 45h2M94 45h2M98 45h1M101 45h1M118 45h1M121 45h1M139 45h1M153 45h1M163 45h1M168 45h1M170 45h1M172 45h1M177 45h2M36 46h1M81 46h1M94 46h2M99 46h3M111 46h1M118 46h2M127 46h2M134 46h2M147 46h1M150 46h1M162 46h1M166 46h1M169 46h1M184 46h1M187 46h1M50 47h1M71 47h1M80 47h1M93 47h3M97 47h1M99 47h1M108 47h2M111 47h2M121 47h1M124 47h1M137 47h1M152 47h2M156 47h1M164 47h3M170 47h2M181 47h1M184 47h2M50 48h1M60 48h1M68 48h2M93 48h3M98 48h1M100 48h2M109 48h1M112 48h2M118 48h2M122 48h2M125 48h2M128 48h2M137 48h2M146 48h1M148 48h1M150 48h1M166 48h1M170 48h2M177 48h1M181 48h2M185 48h1M187 48h1M67 49h1M69 49h1M72 49h3M80 49h1M83 49h1M86 49h1M94 49h2M98 49h1M100 49h1M108 49h2M113 49h1M117 49h3M121 49h1M123 49h1M126 49h3M132 49h1M147 49h1M156 49h1M167 49h1M169 49h1M185 49h1M190 49h1M67 50h1M70 50h1M73 50h3M77 50h2M97 50h1M100 50h1M112 50h1M117 50h2M125 50h1M130 50h1M147 50h1M151 50h1M156 50h1M163 50h2M167 50h1M171 50h1M178 50h2M36 51h1M52 51h3M70 51h2M78 51h1M93 51h2M101 51h1M103 51h1M139 51h1M147 51h2M152 51h1M162 51h1M164 51h1M166 51h2M171 51h1M179 51h1M189 51h1M52 52h1M72 52h1M75 52h1M78 52h2M97 52h1M99 52h1M101 52h1M104 52h1M108 52h1M118 52h1M123 52h1M142 52h1M144 52h1M151 52h1M153 52h1M156 52h1M162 52h1M164 52h1M168 52h2M171 52h1M177 52h1M179 52h1M181 52h1M190 52h1M50 53h4M67 53h1M75 53h1M78 53h1M81 53h1M93 53h1M97 53h1M109 53h1M111 53h1M119 53h2M122 53h1M125 53h3M139 53h2M143 53h2M151 53h1M154 53h1M157 53h1M161 53h2M164 53h1M166 53h3M172 53h1M177 53h1M185 53h1M53 54h1M69 54h1M91 54h1M97 54h1M105 54h1M107 54h1M113 54h1M117 54h1M119 54h1M124 54h1M143 54h1M156 54h2M159 54h1M161 54h2M166 54h1M171 54h1M178 54h1M182 54h1M52 55h2M70 55h2M74 55h2M105 55h1M123 55h1M145 55h1M156 55h1M159 55h1M165 55h1M167 55h2M183 55h1M189 55h1M51 56h4M73 56h2M93 56h2M99 56h1M120 56h1M123 56h1M139 56h1M141 56h3M158 56h3M168 56h1M172 56h1M178 56h1M51 57h1M53 57h2M101 57h1M105 57h2M110 57h1M140 57h1M142 57h1M144 57h1M157 57h2M167 57h1M175 57h1M177 57h1M180 57h1M183 57h1M189 57h2M31 58h1M36 58h1M50 58h1M52 58h1M68 58h1M98 58h1M121 58h1M123 58h1M145 58h2M158 58h1M160 58h2M164 58h1M174 58h1M177 58h1M181 58h1M184 58h1M189 58h1M36 59h1M54 59h1M70 59h1M119 59h1M126 59h1M138 59h1M144 59h3M150 59h1M156 59h1M158 59h1M160 59h1M163 59h1M180 59h1M182 59h1M184 59h1M62 60h1M74 60h1M93 60h1M105 60h1M127 60h1M139 60h3M143 60h1M145 60h1M156 60h1M159 60h1M164 60h3M173 60h1M180 60h1M183 60h1M185 60h1M188 60h1M32 61h1M53 61h2M101 61h1M111 61h1M142 61h1M148 61h1M158 61h2M161 61h1M166 61h1M179 61h4M36 62h1M93 62h1M99 62h1M105 62h1M107 62h1M139 62h1M142 62h2M147 62h2M158 62h1M161 62h2M166 62h1M173 62h3M177 62h1M182 62h1M185 62h1M99 63h1M101 63h1M107 63h1M109 63h1M112 63h1M138 63h1M141 63h5M151 63h1M168 63h1M173 63h1M177 63h1M181 63h2M185 63h1M190 63h1M32 64h1M66 64h1M94 64h1M99 64h1M101 64h1M106 64h1M109 64h1M117 64h1M127 64h1M142 64h3M150 64h1M160 64h1M30 65h1M32 65h1M51 65h1M61 65h1M91 65h1M93 65h1M136 65h1M141 65h1M143 65h2M152 65h1M157 65h1M160 65h2M178 65h1M188 65h1M190 65h1M194 65h1M32 66h1M67 66h1M105 66h1M107 66h1M129 66h1M141 66h2M144 66h2M160 66h2M188 66h1M36 67h1M50 67h1M105 67h2M112 67h1M144 67h2M149 67h1M160 67h1M163 67h1M173 67h1M182 67h1M30 68h1M36 68h1M93 68h1M142 68h5M149 68h1M159 68h1M161 68h1M173 68h1M176 68h1M182 68h1M185 68h2M188 68h2M52 69h1M61 69h1M69 69h1M93 69h1M107 69h1M112 69h1M143 69h1M149 69h1M158 69h1M160 69h2M182 69h1M187 69h1M30 70h1M32 70h1M53 70h2M61 70h1M70 70h1M107 70h1M145 70h1M157 70h2M161 70h1M177 70h2M182 70h1M203 70h1M32 71h1M52 71h1M61 71h1M66 71h1M94 71h1M146 71h1M158 71h3M173 71h1M30 72h2M36 72h1M53 72h2M80 72h1M94 72h1M106 72h2M112 72h1M147 72h1M158 72h2M185 72h1M188 72h1M192 72h1M210 72h1M29 73h1M32 73h1M52 73h2M68 73h1M106 73h1M110 73h1M118 73h1M145 73h1M152 73h1M158 73h2M175 73h1M191 73h1M195 73h1M199 73h1M30 74h1M50 74h1M53 74h1M66 74h1M70 74h1M94 74h1M113 74h1M143 74h1M146 74h1M149 74h1M152 74h1M158 74h1M173 74h1M182 74h1M186 74h1M189 74h1M192 74h2M195 74h1M198 74h1M0 75h1M30 75h2M61 75h1M66 75h1M119 75h1M146 75h1M148 75h2M160 75h1M166 75h1M173 75h1M187 75h1M191 75h3M195 75h1M198 75h1M200 75h1M3 76h1M6 76h2M18 76h1M30 76h1M53 76h1M105 76h1M159 76h3M191 76h2M204 76h1M0 77h1M2 77h1M4 77h1M6 77h2M16 77h1M31 77h2M53 77h1M106 77h1M124 77h1M160 77h2M193 77h1M195 77h1M0 78h1M2 78h2M5 78h4M16 78h1M29 78h1M32 78h1M61 78h1M63 78h1M69 78h1M108 78h1M122 78h1M173 78h1M179 78h1M193 78h1M197 78h1M0 79h1M6 79h1M8 79h1M12 79h1M17 79h3M24 79h1M28 79h1M63 79h1M69 79h1M108 79h1M152 79h1M161 79h1M193 79h1M195 79h1M197 79h1M6 80h1M11 80h1M22 80h1M30 80h1M33 80h1M50 80h1M61 80h1M63 80h1M66 80h1M159 80h1M161 80h1M173 80h1M192 80h1M197 80h1M208 80h1M0 81h1M2 81h2M6 81h1M19 81h1M25 81h1M33 81h1M61 81h1M63 81h1M107 81h1M122 81h1M148 81h1M152 81h1M157 81h1M204 81h1M209 81h1M1 82h1M4 82h2M8 82h1M15 82h1M19 82h1M31 82h3M66 82h1M100 82h1M105 82h2M115 82h1M142 82h1M173 82h1M184 82h1M193 82h1M204 82h1M210 82h1M4 83h1M8 83h1M18 83h1M61 83h1M66 83h1M117 83h1M119 83h2M123 83h1M126 83h1M153 83h1M201 83h1M0 84h1M4 84h1M7 84h1M11 84h2M17 84h2M23 84h1M31 84h1M35 84h1M53 84h1M56 84h1M63 84h1M66 84h1M147 84h1M159 84h1M161 84h1M192 84h1M198 84h1M200 84h1M0 85h2M3 85h2M11 85h2M28 85h1M33 85h1M56 85h1M125 85h1M147 85h2M195 85h1M198 85h1M200 85h2M203 85h1M208 85h1M0 86h1M2 86h1M4 86h3M8 86h1M14 86h1M24 86h2M33 86h1M56 86h1M62 86h1M66 86h1M115 86h1M124 86h1M161 86h1M173 86h1M191 86h1M198 86h1M200 86h4M206 86h1M1 87h2M6 87h1M8 87h1M15 87h1M20 87h1M22 87h1M27 87h1M30 87h1M35 87h1M63 87h1M66 87h1M108 87h1M125 87h1M128 87h1M173 87h1M197 87h1M200 87h1M202 87h1M205 87h2M0 88h1M2 88h1M7 88h1M9 88h2M13 88h1M19 88h1M26 88h2M30 88h1M35 88h1M50 88h1M65 88h2M68 88h2M112 88h1M118 88h1M122 88h1M125 88h1M127 88h1M152 88h1M195 88h1M198 88h1M202 88h2M205 88h4M0 89h1M2 89h1M6 89h2M10 89h2M15 89h1M18 89h3M26 89h1M34 89h1M54 89h1M65 89h2M150 89h2M159 89h1M195 89h1M198 89h1M201 89h1M206 89h3M6 90h1M8 90h6M15 90h2M18 90h1M20 90h1M24 90h3M29 90h1M33 90h3M111 90h1M150 90h1M173 90h1M192 90h1M199 90h2M205 90h2M3 91h1M5 91h2M8 91h1M10 91h3M15 91h2M18 91h2M24 91h2M27 91h2M34 91h2M64 91h3M105 91h1M116 91h1M118 91h1M147 91h1M191 91h2M196 91h3M200 91h1M203 91h1M3 92h2M10 92h1M26 92h3M31 92h1M35 92h1M64 92h1M66 92h1M115 92h1M118 92h1M124 92h1M127 92h1M199 92h3M205 92h1M8 93h2M13 93h2M24 93h1M27 93h2M33 93h1M64 93h1M70 93h1M126 93h2M161 93h1M193 93h1M198 93h2M202 93h1M0 94h1M18 94h2M21 94h1M25 94h1M28 94h1M66 94h1M196 94h1M203 94h1M0 95h1M2 95h2M8 95h1M12 95h2M16 95h1M20 95h1M23 95h1M29 95h1M65 95h1M114 95h3M153 95h1M161 95h1M198 95h1M201 95h1M203 95h1M205 95h1M0 96h1M4 96h1M10 96h2M13 96h1M16 96h1M18 96h1M20 96h2M24 96h2M28 96h1M114 96h1M116 96h1M197 96h2M206 96h3M4 97h1M9 97h1M12 97h2M17 97h1M23 97h1M25 97h3M33 97h1M68 97h1M70 97h1M114 97h1M116 97h1M122 97h1M197 97h2M201 97h3M7 98h1M10 98h1M13 98h1M15 98h1M17 98h2M25 98h1M29 98h2M32 98h4M115 98h2M195 98h1M198 98h1M200 98h1M203 98h1M5 99h1M10 99h4M15 99h1M18 99h2M22 99h1M25 99h1M27 99h1M30 99h2M159 99h1M195 99h2M198 99h1M202 99h2M207 99h1M210 99h1M2 100h1M6 100h1M13 100h1M16 100h1M18 100h1M23 100h2M27 100h1M33 100h1M116 100h1M193 100h1M199 100h1M4 101h1M10 101h1M12 101h1M16 101h2M21 101h1M23 101h2M29 101h1M115 101h1M118 101h1M160 101h1M198 101h1M200 101h2M204 101h1M0 102h2M7 102h2M17 102h4M23 102h2M26 102h1M29 102h1M32 102h1M114 102h1M160 102h1M199 102h2M207 102h1M0 103h2M4 103h1M6 103h2M9 103h2M13 103h1M19 103h3M26 103h1M30 103h1M32 103h2M69 103h1M157 103h1M191 103h1M197 103h2M200 103h1M202 103h1M206 103h2M1 104h1M8 104h2M11 104h1M13 104h1M17 104h1M24 104h1M29 104h3M33 104h1M117 104h1M159 104h1M207 104h2M1 105h1M3 105h1M16 105h1M18 105h1M22 105h1M24 105h3M28 105h1M33 105h1M200 105h1M207 105h2M210 105h1M3 106h1M9 106h1M12 106h1M17 106h1M28 106h2M32 106h2M120 106h1M195 106h1M198 106h2M202 106h2M4 107h1M17 107h1M27 107h4M32 107h2M69 107h2M157 107h1M202 107h1M207 107h1M0 108h1M2 108h1M8 108h2M16 108h1M22 108h1M29 108h1M33 108h2M0 109h2M3 109h1M5 109h1M9 109h1M13 109h4M19 109h2M26 109h1M30 109h1M34 109h1M4 110h1M9 110h1M13 110h1M18 110h1M20 110h1M22 110h1M32 110h2M201 110h1M1 111h2M14 111h2M24 111h1M33 111h1M205 111h1M3 112h1M7 112h1M12 112h1M22 112h1M24 112h1M28 112h1M198 112h1M3 113h1M198 114h1M195 115h1M200 116h1M198 118h1M12 120h1M14 120h1M29 120h1M33 120h1M4 121h1M12 121h1M20 121h1M202 121h1M15 122h1M19 122h1M7 123h1M18 123h1M30 123h1M33 123h1M13 124h1M199 124h1M48 126h1M79 126h1M133 126h1M206 126h1M31 127h1M37 127h2M47 127h1M50 127h2M53 127h1M56 127h1M58 127h3M63 127h1M66 127h3M71 127h1M73 127h2M76 127h3M82 127h5M88 127h2M91 127h2M99 127h1M101 127h2M105 127h2M109 127h2M116 127h1M120 127h3M124 127h1M128 127h2M132 127h1M134 127h1M136 127h1M140 127h5M148 127h1M153 127h4M158 127h1M162 127h1M164 127h1M167 127h1M172 127h2M178 127h1M180 127h2M183 127h5M189 127h1M193 127h1M40 128h1M83 128h1"/>
<path stroke="#35b779" d="M117 12h1M67 13h1M69 13h2M117 13h1M123 13h1M127 13h1M45 14h1M68 14h2M37 15h1M40 15h1M48 15h1M68 15h1M70 15h2M118 15h1M133 15h1M179 15h1M37 16h1M40 16h1M42 16h2M48 16h1M56 16h1M67 16h2M117 16h3M121 16h1M126 16h1M179 16h1M183 16h1M39 17h1M44 17h1M46 17h1M57 17h1M59 17h1M68 17h1M70 17h1M122 17h1M126 17h1M129 17h2M135 17h1M148 17h1M155 17h1M178 17h3M183 17h1M185 17h1M37 18h2M43 18h1M47 18h1M49 18h1M55 18h3M60 18h1M67 18h1M69 18h1M90 18h1M122 18h1M124 18h1M128 18h1M131 18h1M138 18h1M147 18h2M155 18h1M179 18h1M181 18h1M189 18h2M38 19h1M41 19h1M49 19h1M56 19h1M59 19h1M91 19h1M118 19h1M120 19h1M127 19h2M134 19h1M155 19h1M177 19h1M181 19h1M190 19h1M42 20h1M58 20h1M67 20h1M69 20h1M83 20h1M95 20h1M118 20h1M124 20h1M127 20h2M130 20h2M137 20h2M147 20h1M150 20h1M152 20h1M190 20h1M37 21h1M41 21h1M46 21h1M48 21h1M60 21h1M89 21h1M91 21h1M108 21h1M110 21h2M121 21h1M127 21h2M130 21h1M132 21h1M135 21h1M155 21h1M177 21h1M180 21h1M189 21h2M38 22h1M48 22h2M57 22h2M86 22h1M111 22h1M113 22h1M117 22h3M121 22h1M126 22h2M129 22h1M131 22h3M148 22h1M154 22h1M178 22h1M180 22h1M38 23h3M42 23h3M46 23h1M48 23h1M80 23h1M82 23h1M87 23h1M91 23h1M118 23h2M123 23h2M127 23h2M134 23h3M146 23h1M151 23h1M162 23h1M179 23h1M37 24h1M45 24h1M47 24h1M55 24h1M58 24h1M68 24h1M71 24h1M87 24h1M90 24h1M102 24h1M104 24h1M120 24h1M124 24h2M127 24h1M130 24h1M132 24h2M137 24h1M170 24h1M177 24h1M181 24h1M188 24h1M39 25h1M47 25h2M59 25h1M81 25h1M83 25h1M86 25h1M88 25h2M91 25h1M104 25h1M117 25h2M120 25h2M123 25h3M127 25h1M130 25h1M132 25h1M134 25h1M138 25h1M177 25h1M182 25h1M184 25h1M188 25h1M37 26h1M40 26h4M59 26h1M67 26h1M81 26h1M87 26h1M89 26h1M120 26h1M127 26h3M137 26h1M151 26h2M155 26h1M177 26h2M182 26h1M187 26h1M37 27h1M39 27h1M41 27h1M43 27h1M60 27h1M81 27h1M84 27h2M90 27h2M112 27h1M126 27h1M128 27h1M130 27h2M133 27h1M135 27h1M147 27h2M155 27h1M183 27h1M187 27h1M189 27h1M39 28h1M42 28h2M46 28h1M59 28h1M80 28h1M86 28h1M88 28h1M90 28h1M121 28h2M127 28h1M132 28h1M135 28h1M138 28h1M147 28h1M152 28h1M155 28h1M162 28h1M180 28h1M46 29h1M57 29h1M68 29h1M71 29h1M81 29h2M91 29h1M102 29h3M120 29h1M123 29h2M126 29h1M128 29h2M136 29h1M147 29h1M149 29h3M163 29h1M165 29h1M179 29h1M181 29h1M183 29h1M188 29h1M38 30h4M44 30h1M47 30h1M60 30h1M68 30h3M83 30h2M88 30h1M90 30h2M93 30h1M104 30h1M108 30h1M119 30h2M122 30h2M125 30h1M127 30h1M131 30h1M135 30h1M149 30h1M177 30h1M181 30h1M190 30h1M37 31h2M42 31h3M46 31h1M70 31h1M81 31h1M91 31h1M100 31h1M102 31h2M108 31h1M110 31h1M112 31h1M119 31h3M126 31h1M135 31h1M138 31h1M148 31h2M177 31h1M37 32h1M41 32h1M43 32h1M49 32h1M55 32h2M60 32h1M80 32h4M86 32h1M88 32h1M91 32h2M94 32h1M96 32h1M100 32h1M112 32h2M120 32h1M122 32h1M127 32h1M130 32h1M134 32h1M136 32h3M151 32h1M155 32h1M38 33h1M41 33h3M55 33h1M57 33h1M60 33h1M71 33h1M80 33h1M89 33h3M94 33h1M102 33h1M104 33h1M113 33h1M117 33h2M122 33h1M125 33h1M128 33h3M133 33h1M147 33h2M150 33h1M152 33h1M177 33h2M183 33h1M37 34h1M39 34h1M43 34h1M46 34h2M56 34h1M58 34h3M69 34h1M81 34h3M90 34h1M95 34h2M102 34h1M108 34h1M119 34h1M123 34h2M127 34h1M133 34h1M151 34h2M162 34h3M178 34h1M38 35h1M43 35h1M45 35h1M56 35h1M58 35h2M68 35h2M87 35h1M94 35h3M99 35h1M110 35h1M113 35h1M119 35h1M123 35h1M127 35h2M132 35h1M147 35h1M149 35h1M163 35h1M178 35h1M59 36h1M70 36h1M81 36h3M88 36h2M92 36h1M94 36h3M100 36h1M104 36h1M108 36h6M119 36h1M128 36h1M134 36h2M162 36h1M164 36h1M179 36h1M36 37h1M40 37h1M42 37h1M49 37h1M84 37h1M95 37h1M97 37h2M100 37h1M104 37h1M113 37h1M117 37h2M121 37h1M125 37h2M130 37h1M133 37h2M146 37h1M149 37h1M153 37h1M177 37h1M179 37h1M189 37h1M36 38h1M39 38h3M44 38h1M49 38h1M58 38h1M68 38h1M81 38h1M84 38h1M86 38h1M90 38h1M92 38h1M95 38h1M97 38h1M99 38h1M108 38h1M117 38h1M121 38h2M125 38h2M128 38h1M130 38h1M133 38h1M139 38h1M149 38h1M151 38h1M155 38h1M37 39h1M39 39h1M60 39h1M85 39h1M88 39h1M92 39h2M95 39h6M113 39h1M117 39h1M119 39h1M125 39h3M131 39h3M139 39h1M152 39h1M156 39h1M163 39h1M179 39h1M190 39h1M41 40h1M45 40h1M58 40h2M69 40h1M82 40h3M94 40h1M97 40h2M100 40h1M112 40h2M120 40h1M123 40h3M132 40h1M135 40h1M147 40h1M150 40h1M163 40h1M177 40h1M179 40h1M188 40h1M41 41h1M45 41h1M56 41h1M79 41h1M85 41h1M90 41h1M94 41h3M109 41h1M113 41h1M120 41h1M122 41h1M132 41h1M163 41h1M36 42h1M43 42h1M71 42h1M80 42h1M90 42h1M94 42h2M98 42h1M100 42h1M108 42h2M111 42h1M117 42h1M150 42h1M154 42h1M156 42h1M177 42h1M187 42h1M36 43h1M80 43h1M99 43h1M117 43h1M121 43h1M123 43h1M128 43h1M134 43h1M139 43h1M146 43h1M155 43h1M170 43h1M183 43h1M71 44h1M84 44h1M92 44h1M95 44h2M100 44h1M109 44h1M139 44h1M151 44h1M155 44h1M170 44h1M178 44h1M55 45h1M67 45h1M69 45h2M74 45h1M81 45h2M100 45h1M108 45h3M113 45h1M117 45h1M119 45h2M122 45h1M125 45h3M131 45h1M134 45h1M146 45h1M152 45h1M155 45h2M164 45h1M179 45h1M57 46h2M70 46h1M79 46h2M84 46h1M93 46h1M97 46h2M104 46h1M108 46h1M110 46h1M112 46h2M117 46h1M123 46h1M136 46h1M146 46h1M163 46h3M67 47h1M69 47h1M98 47h1M104 47h1M113 47h1M118 47h1M122 47h1M130 47h1M134 47h1M147 47h1M187 47h1M81 48h1M104 48h1M120 48h1M127 48h1M136 48h1M36 49h1M68 49h1M70 49h2M81 49h1M84 49h1M93 49h1M96 49h1M120 49h1M131 49h1M138 49h1M154 49h2M69 50h1M79 50h1M82 50h1M94 50h3M98 50h2M109 50h3M113 50h1M123 50h1M127 50h1M131 50h1M136 50h1M155 50h1M168 50h1M183 50h1M39 51h1M79 51h1M89 51h1M95 51h2M98 51h3M102 51h1M108 51h2M117 51h1M120 51h2M123 51h2M130 51h1M134 51h2M163 51h1M165 51h1M168 51h1M183 51h1M36 52h1M67 52h1M80 52h2M88 52h1M94 52h1M98 52h1M109 52h3M117 52h1M119 52h1M121 52h2M124 52h1M126 52h1M130 52h1M133 52h1M146 52h2M154 52h1M166 52h1M170 52h1M57 53h1M59 53h1M68 53h2M72 53h2M94 53h3M108 53h1M113 53h1M117 53h2M121 53h1M124 53h1M131 53h1M137 53h1M146 53h2M152 53h1M156 53h1M163 53h1M170 53h1M187 53h1M190 53h1M50 54h1M67 54h2M70 54h2M73 54h1M78 54h1M93 54h2M96 54h1M101 54h1M104 54h1M106 54h1M111 54h1M121 54h2M125 54h3M136 54h1M139 54h1M146 54h1M153 54h1M163 54h1M167 54h1M169 54h1M185 54h1M50 55h1M68 55h1M72 55h1M91 55h1M94 55h1M97 55h1M100 55h1M102 55h1M106 55h1M113 55h1M118 55h1M124 55h1M126 55h1M128 55h1M135 55h1M139 55h1M142 55h2M162 55h3M166 55h1M178 55h2M186 55h1M36 56h1M48 56h1M70 56h1M77 56h1M80 56h1M92 56h1M100 56h1M105 56h3M118 56h1M140 56h1M145 56h1M147 56h1M161 56h1M165 56h1M167 56h1M177 56h1M179 56h1M183 56h1M186 56h1M36 57h1M52 57h1M68 57h1M77 57h1M79 57h1M87 57h1M94 57h1M96 57h4M107 57h1M111 57h1M121 57h1M139 57h1M141 57h1M145 57h1M147 57h1M161 57h1M164 57h1M166 57h1M171 57h1M179 57h1M184 57h1M186 57h2M51 58h1M53 58h2M67 58h1M71 58h1M81 58h1M95 58h2M105 58h1M107 58h1M111 58h1M117 58h2M120 58h1M122 58h1M125 58h2M132 58h1M138 58h1M141 58h2M144 58h1M150 58h2M153 58h1M156 58h2M163 58h1M165 58h2M168 58h1M171 58h2M179 58h2M187 58h1M190 58h1M49 59h1M51 59h3M56 59h1M67 59h2M71 59h1M94 59h1M97 59h2M105 59h1M111 59h3M121 59h3M125 59h1M127 59h1M141 59h2M149 59h1M151 59h3M164 59h1M166 59h1M168 59h1M171 59h2M178 59h1M181 59h1M185 59h1M188 59h1M190 59h1M36 60h1M42 60h1M50 60h1M52 60h2M67 60h1M75 60h1M92 60h1M94 60h1M96 60h1M101 60h2M123 60h1M128 60h1M135 60h1M142 60h1M148 60h3M158 60h1M161 60h1M170 60h1M186 60h1M189 60h1M36 61h1M50 61h3M75 61h1M93 61h2M104 61h1M106 61h2M119 61h1M134 61h1M140 61h1M144 61h2M147 61h1M155 61h1M162 61h1M164 61h1M170 61h1M178 61h1M184 61h1M187 61h1M189 61h1M53 62h2M94 62h1M96 62h1M100 62h1M110 62h2M117 62h2M133 62h1M138 62h1M144 62h2M155 62h1M163 62h1M172 62h1M181 62h1M183 62h2M186 62h1M189 62h1M31 63h1M47 63h1M52 63h1M81 63h1M90 63h1M93 63h4M105 63h2M108 63h1M110 63h1M124 63h1M127 63h1M146 63h1M148 63h1M152 63h1M163 63h1M165 63h1M172 63h1M174 63h2M178 63h1M31 64h1M36 64h1M53 64h1M68 64h1M70 64h2M91 64h1M93 64h1M95 64h1M97 64h2M107 64h1M111 64h2M132 64h1M137 64h2M140 64h2M145 64h1M162 64h2M165 64h2M174 64h2M177 64h1M179 64h2M183 64h1M185 64h2M188 64h1M190 64h1M36 65h1M46 65h1M50 65h1M52 65h1M54 65h1M92 65h1M98 65h2M105 65h1M107 65h1M111 65h1M113 65h1M142 65h1M153 65h1M164 65h1M170 65h1M175 65h1M179 65h1M189 65h1M36 66h1M50 66h2M53 66h2M95 66h1M97 66h1M101 66h1M110 66h1M140 66h1M143 66h1M146 66h2M151 66h1M162 66h1M164 66h1M168 66h1M178 66h2M181 66h1M185 66h1M187 66h1M190 66h1M194 66h1M52 67h1M68 67h1M84 67h1M95 67h1M97 67h2M101 67h1M108 67h1M110 67h1M122 67h2M142 67h2M150 67h1M161 67h1M175 67h1M180 67h2M185 67h1M194 67h1M50 68h1M52 68h1M68 68h1M97 68h2M105 68h1M110 68h3M122 68h1M126 68h1M132 68h1M150 68h1M152 68h1M175 68h1M184 68h1M194 68h1M30 69h1M54 69h1M68 69h1M75 69h1M94 69h1M98 69h3M106 69h1M110 69h1M113 69h1M123 69h1M140 69h1M142 69h1M148 69h1M150 69h1M163 69h1M169 69h1M174 69h1M178 69h1M181 69h1M183 69h1M185 69h1M190 69h1M51 70h2M94 70h1M96 70h1M109 70h1M140 70h5M163 70h1M169 70h1M183 70h1M187 70h1M31 71h1M50 71h2M67 71h1M142 71h2M153 71h1M161 71h2M176 71h1M184 71h2M187 71h2M50 72h3M61 72h1M68 72h1M97 72h1M99 72h1M109 72h2M113 72h1M141 72h1M143 72h4M179 72h1M184 72h1M31 73h1M36 73h1M51 73h1M54 73h1M61 73h1M69 73h1M94 73h1M109 73h1M112 73h2M121 73h1M140 73h2M143 73h1M146 73h1M182 73h1M185 73h1M188 73h2M31 74h1M52 74h1M54 74h1M68 74h2M98 74h1M107 74h1M144 74h1M159 74h1M184 74h1M191 74h1M36 75h1M52 75h3M94 75h1M126 75h1M143 75h3M157 75h1M159 75h1M174 75h1M176 75h3M190 75h1M31 76h2M36 76h1M50 76h1M54 76h1M98 76h1M106 76h3M127 76h1M143 76h1M146 76h3M157 76h2M176 76h2M51 77h1M61 77h1M93 77h1M99 77h1M107 77h1M117 77h1M122 77h1M140 77h1M147 77h1M153 77h1M157 77h2M191 77h1M51 78h1M54 78h1M67 78h1M70 78h1M107 78h1M111 78h3M125 78h1M157 78h2M161 78h1M167 78h1M169 78h1M172 78h1M195 78h1M3 79h1M29 79h1M51 79h1M54 79h1M70 79h1M99 79h1M113 79h1M151 79h1M157 79h2M174 79h1M191 79h1M3 80h1M32 80h1M52 80h1M54 80h1M81 80h1M107 80h1M119 80h1M141 80h1M146 80h1M149 80h3M157 80h1M160 80h1M174 80h1M193 80h1M5 81h1M30 81h1M51 81h4M67 81h1M82 81h1M105 81h1M109 81h1M113 81h1M142 81h1M149 81h1M158 81h2M161 81h1M6 82h1M50 82h1M53 82h1M61 82h1M63 82h1M67 82h3M107 82h1M110 82h1M117 82h2M121 82h1M123 82h2M126 82h1M146 82h1M148 82h1M157 82h1M160 82h2M177 82h1M191 82h2M209 82h1M1 83h1M30 83h1M32 83h1M36 83h1M42 83h1M52 83h2M63 83h1M68 83h4M94 83h1M105 83h1M107 83h1M118 83h1M122 83h1M124 83h2M148 83h1M157 83h1M160 83h2M173 83h1M192 83h2M32 84h1M54 84h1M61 84h1M67 84h1M70 84h1M79 84h1M119 84h1M123 84h1M151 84h1M157 84h1M160 84h1M168 84h1M173 84h1M191 84h1M193 84h1M195 84h1M209 84h1M30 85h3M35 85h1M52 85h2M67 85h1M105 85h1M113 85h1M117 85h1M126 85h2M157 85h5M173 85h1M191 85h3M32 86h1M35 86h1M68 86h1M105 86h1M109 86h2M117 86h2M120 86h1M125 86h1M128 86h1M146 86h2M157 86h1M174 86h1M176 86h1M192 86h1M4 87h1M54 87h1M61 87h1M106 87h1M110 87h1M112 87h1M119 87h1M121 87h2M127 87h1M157 87h5M191 87h1M209 87h1M1 88h1M3 88h1M31 88h1M52 88h3M70 88h1M108 88h1M121 88h1M124 88h1M157 88h1M159 88h3M173 88h1M210 88h1M1 89h1M3 89h2M30 89h1M32 89h1M35 89h2M53 89h1M62 89h1M67 89h1M101 89h1M127 89h1M145 89h1M157 89h1M173 89h1M202 89h1M209 89h1M1 90h4M7 90h1M30 90h1M32 90h1M63 90h1M65 90h1M84 90h1M105 90h1M148 90h2M153 90h1M159 90h2M191 90h1M193 90h1M198 90h1M201 90h1M208 90h2M1 91h1M4 91h1M20 91h1M22 91h2M29 91h4M63 91h1M117 91h1M140 91h1M159 91h1M173 91h1M206 91h1M208 91h1M2 92h1M5 92h1M7 92h2M11 92h1M14 92h3M19 92h2M22 92h2M32 92h1M34 92h1M62 92h1M65 92h1M68 92h1M100 92h1M105 92h1M117 92h1M120 92h4M125 92h2M147 92h1M161 92h1M173 92h1M195 92h2M198 92h1M202 92h3M208 92h1M0 93h1M3 93h1M5 93h2M10 93h2M16 93h1M18 93h1M20 93h1M23 93h1M25 93h2M32 93h1M34 93h3M58 93h1M62 93h1M66 93h1M69 93h1M125 93h1M146 93h1M158 93h2M173 93h1M195 93h3M200 93h2M203 93h2M207 93h1M2 94h1M5 94h1M9 94h3M14 94h2M17 94h1M22 94h1M24 94h1M26 94h2M31 94h1M33 94h3M62 94h1M64 94h1M67 94h1M100 94h1M126 94h1M161 94h1M191 94h3M198 94h2M201 94h2M206 94h3M4 95h1M7 95h1M9 95h2M14 95h2M19 95h1M21 95h1M24 95h1M26 95h3M31 95h1M33 95h3M64 95h1M97 95h1M100 95h1M150 95h1M152 95h1M160 95h1M173 95h1M191 95h1M193 95h1M195 95h3M200 95h1M202 95h1M207 95h2M1 96h2M5 96h2M8 96h2M14 96h1M19 96h1M27 96h1M30 96h1M33 96h3M62 96h1M106 96h1M115 96h1M117 96h1M124 96h1M148 96h2M154 96h2M161 96h1M171 96h1M173 96h1M191 96h1M193 96h1M196 96h1M199 96h2M0 97h1M5 97h4M10 97h1M14 97h3M20 97h3M24 97h1M28 97h1M34 97h2M63 97h2M66 97h2M69 97h1M71 97h1M106 97h2M118 97h1M173 97h1M195 97h1M199 97h2M204 97h1M206 97h1M208 97h1M0 98h1M2 98h4M8 98h1M12 98h1M14 98h1M16 98h1M23 98h2M28 98h1M61 98h1M65 98h1M68 98h2M114 98h1M120 98h1M122 98h3M146 98h1M158 98h1M173 98h1M193 98h1M197 98h1M199 98h1M202 98h1M204 98h1M206 98h1M208 98h1M0 99h5M6 99h4M14 99h1M16 99h1M21 99h1M23 99h2M26 99h1M28 99h2M33 99h2M71 99h1M114 99h2M200 99h1M204 99h3M208 99h1M0 100h2M4 100h1M7 100h1M9 100h1M11 100h1M17 100h1M22 100h1M25 100h2M28 100h1M31 100h2M34 100h1M62 100h1M114 100h2M157 100h1M172 100h2M187 100h1M191 100h2M197 100h2M200 100h1M202 100h6M1 101h3M5 101h2M9 101h1M13 101h1M19 101h2M22 101h1M25 101h4M30 101h3M34 101h2M66 101h1M122 101h2M192 101h1M195 101h2M199 101h1M202 101h2M205 101h4M210 101h1M3 102h1M5 102h2M9 102h8M21 102h2M28 102h1M30 102h1M68 102h3M116 102h1M122 102h1M158 102h1M191 102h1M197 102h1M203 102h3M209 102h1M2 103h2M8 103h1M11 103h2M14 103h1M18 103h1M22 103h2M25 103h1M28 103h1M35 103h1M114 103h1M146 103h1M195 103h2M199 103h1M201 103h1M208 103h1M0 104h1M2 104h3M10 104h1M14 104h1M16 104h1M18 104h2M21 104h3M25 104h1M27 104h1M34 104h1M64 104h1M156 104h1M196 104h3M201 104h2M205 104h2M4 105h3M8 105h5M14 105h2M17 105h1M19 105h3M23 105h1M27 105h1M29 105h3M34 105h2M116 105h1M194 105h2M198 105h2M201 105h1M203 105h1M205 105h2M1 106h1M4 106h3M8 106h1M11 106h1M13 106h2M16 106h1M19 106h4M24 106h1M27 106h1M30 106h1M158 106h1M161 106h1M173 106h1M196 106h1M205 106h1M207 106h2M210 106h1M0 107h4M6 107h1M8 107h1M10 107h2M13 107h4M18 107h1M22 107h1M24 107h1M26 107h1M71 107h1M150 107h1M193 107h1M195 107h2M204 107h3M208 107h1M1 108h1M3 108h1M5 108h3M10 108h1M13 108h3M17 108h5M23 108h4M28 108h1M30 108h3M118 108h1M195 108h1M197 108h3M201 108h2M205 108h3M2 109h1M4 109h1M6 109h2M11 109h1M17 109h2M24 109h1M27 109h3M31 109h3M195 109h1M198 109h1M200 109h1M202 109h2M206 109h2M0 110h4M8 110h1M11 110h2M17 110h1M19 110h1M23 110h3M27 110h2M30 110h2M65 110h1M195 110h2M202 110h1M204 110h1M207 110h2M3 111h1M7 111h1M9 111h1M11 111h2M17 111h1M19 111h1M21 111h3M27 111h1M30 111h1M32 111h1M68 111h1M116 111h1M195 111h1M202 111h1M207 111h1M4 112h1M8 112h1M10 112h2M13 112h1M17 112h1M20 112h1M23 112h1M29 112h4M70 112h1M175 112h1M192 112h1M202 112h1M205 112h2M5 113h3M9 113h2M18 113h1M22 113h1M27 113h2M33 113h1M197 113h2M202 113h1M205 113h1M0 114h1M3 114h2M7 114h2M10 114h1M12 114h1M18 114h1M20 114h1M22 114h1M27 114h3M34 114h1M197 114h1M203 114h1M0 115h1M4 115h3M10 115h1M12 115h1M25 115h1M207 115h2M6 116h1M9 116h1M14 116h1M16 116h1M25 116h1M27 116h1M32 116h1M196 116h1M206 116h1M18 117h1M191 117h1M1 118h1M3 118h1M6 118h1M8 118h1M12 118h1M14 118h1M196 118h2M200 118h1M8 119h1M11 119h2M14 119h1M24 119h1M26 119h1M196 119h1M198 119h1M207 119h1M7 120h2M11 120h1M19 120h1M28 120h1M172 120h1M195 120h1M208 120h1M7 121h1M11 121h1M17 121h1M19 121h1M24 121h1M33 121h1M197 121h1M204 121h1M0 122h1M7 122h1M12 122h1M16 122h1M18 122h1M31 122h3M3 123h1M11 123h1M15 123h1M19 123h1M21 123h1M28 123h1M32 123h1M206 123h1M0 124h1M3 124h1M29 124h1M207 124h1M17 126h1M24 126h1M29 126h1M35 126h1M38 126h4M44 126h1M46 126h1M52 126h2M57 126h1M89 126h1M102 126h1M108 126h1M118 126h2M139 126h1M145 126h1M151 126h1M153 126h1M159 126h1M178 126h1M189 126h1M192 126h1M40 127h1M72 127h1M87 127h1M113 127h2M117 127h1M125 127h2M149 127h1M177 127h1"/>
<path stroke="#40bd72" d="M70 14h1M120 16h1M125 16h1M127 16h1M130 16h1M133 16h1M177 16h1M38 17h1M40 17h1M55 17h2M58 17h1M67 17h1M117 17h1M119 17h1M121 17h1M123 17h1M40 18h2M58 18h1M70 18h1M120 18h1M123 18h1M126 18h1M129 18h1M152 18h1M39 19h1M42 19h1M45 19h1M47 19h1M60 19h1M68 19h2M117 19h1M119 19h1M123 19h3M138 19h1M153 19h2M37 20h1M40 20h1M43 20h1M47 20h1M60 20h1M70 20h1M91 20h1M119 20h1M123 20h1M125 20h2M134 20h1M149 20h1M153 20h1M178 20h1M38 21h1M40 21h1M43 21h1M67 21h3M117 21h2M120 21h1M124 21h1M133 21h1M136 21h1M146 21h1M179 21h1M39 22h3M43 22h1M46 22h1M69 22h1M122 22h1M128 22h1M135 22h2M146 22h1M149 22h1M155 22h1M185 22h1M189 22h1M37 23h1M41 23h1M55 23h1M58 23h1M67 23h1M69 23h1M81 23h1M90 23h1M120 23h2M131 23h1M138 23h1M148 23h1M48 24h1M57 24h1M59 24h1M81 24h4M91 24h1M121 24h2M131 24h1M134 24h1M138 24h1M152 24h1M155 24h1M41 25h1M45 25h1M56 25h2M60 25h1M69 25h2M82 25h1M85 25h1M137 25h1M147 25h1M150 25h2M153 25h2M178 25h1M38 26h1M47 26h1M84 26h3M117 26h1M122 26h4M132 26h2M136 26h1M154 26h1M38 27h1M45 27h1M49 27h1M67 27h2M70 27h1M86 27h2M117 27h1M119 27h1M124 27h2M127 27h1M129 27h1M132 27h1M136 27h1M150 27h1M153 27h1M177 27h1M179 27h1M41 28h1M55 28h1M67 28h2M83 28h1M91 28h1M102 28h1M118 28h3M123 28h4M131 28h1M134 28h1M154 28h1M183 28h1M40 29h5M49 29h1M56 29h1M59 29h1M67 29h1M69 29h1M89 29h1M130 29h1M135 29h1M137 29h1M146 29h1M152 29h1M155 29h1M164 29h1M177 29h2M37 30h1M46 30h1M48 30h1M67 30h1M103 30h1M129 30h2M133 30h1M136 30h1M138 30h1M147 30h1M153 30h2M48 31h1M57 31h1M69 31h1M85 31h1M89 31h2M117 31h2M123 31h1M125 31h1M127 31h1M130 31h1M134 31h1M178 31h1M39 32h1M42 32h1M45 32h1M59 32h1M87 32h1M90 32h1M102 32h2M118 32h1M121 32h1M123 32h2M126 32h1M128 32h1M131 32h1M133 32h1M135 32h1M146 32h2M149 32h1M152 32h1M178 32h1M37 33h1M45 33h1M47 33h1M58 33h2M68 33h1M82 33h3M87 33h2M92 33h1M96 33h1M119 33h2M123 33h2M126 33h2M132 33h1M136 33h1M138 33h1M153 33h1M40 34h1M42 34h1M44 34h1M49 34h1M55 34h1M57 34h1M68 34h1M85 34h1M88 34h1M92 34h1M103 34h1M129 34h1M131 34h2M136 34h2M177 34h1M37 35h1M44 35h1M47 35h1M70 35h1M89 35h1M102 35h2M131 35h1M135 35h2M138 35h1M154 35h1M162 35h1M164 35h2M38 36h1M40 36h4M45 36h1M47 36h1M56 36h2M60 36h1M67 36h3M90 36h2M102 36h1M117 36h1M120 36h1M122 36h2M125 36h3M130 36h1M148 36h1M150 36h1M154 36h1M177 36h1M37 37h2M43 37h1M46 37h2M57 37h2M67 37h1M81 37h1M83 37h1M86 37h1M89 37h1M92 37h1M102 37h1M112 37h1M122 37h2M127 37h1M131 37h1M138 37h1M178 37h1M37 38h1M42 38h2M45 38h1M55 38h2M87 38h2M91 38h1M93 38h1M100 38h1M104 38h1M113 38h1M123 38h1M127 38h1M129 38h1M137 38h2M179 38h1M43 39h1M49 39h1M55 39h1M57 39h3M69 39h1M82 39h2M108 39h1M123 39h1M130 39h1M134 39h1M136 39h1M149 39h1M155 39h1M38 40h1M42 40h1M44 40h1M56 40h1M60 40h1M67 40h1M70 40h1M87 40h1M92 40h1M95 40h2M102 40h1M110 40h2M117 40h1M119 40h1M121 40h1M126 40h1M128 40h1M131 40h1M134 40h1M146 40h1M149 40h1M153 40h1M164 40h1M37 41h1M43 41h1M57 41h4M86 41h1M89 41h1M97 41h4M108 41h1M111 41h1M117 41h1M123 41h3M128 41h1M131 41h1M134 41h2M138 41h1M147 41h1M149 41h1M151 41h4M164 41h1M177 41h1M37 42h2M41 42h2M45 42h1M84 42h1M86 42h1M97 42h1M119 42h2M124 42h2M128 42h1M133 42h2M138 42h1M148 42h1M178 42h1M37 43h1M40 43h1M45 43h1M67 43h2M71 43h1M81 43h2M92 43h1M95 43h1M120 43h1M124 43h1M138 43h1M150 43h1M154 43h1M178 43h1M36 44h2M55 44h1M57 44h1M85 44h1M87 44h2M117 44h1M131 44h2M134 44h1M136 44h1M149 44h1M153 44h2M179 44h1M44 45h1M56 45h1M68 45h1M80 45h1M83 45h1M92 45h1M123 45h1M135 45h2M148 45h2M60 46h1M67 46h3M91 46h1M102 46h2M109 46h1M121 46h2M125 46h2M130 46h1M149 46h1M49 47h1M57 47h2M60 47h1M68 47h1M85 47h1M102 47h1M117 47h1M119 47h2M125 47h3M138 47h1M36 48h1M42 48h1M71 48h1M82 48h3M117 48h1M132 48h1M134 48h1M153 48h1M38 49h1M89 49h1M102 49h2M129 49h1M135 49h3M150 49h2M47 50h1M68 50h1M80 50h1M83 50h3M89 50h1M102 50h3M108 50h1M119 50h3M126 50h1M132 50h1M138 50h1M149 50h1M67 51h1M85 51h2M97 51h1M110 51h2M119 51h1M126 51h1M133 51h1M138 51h1M146 51h1M68 52h2M86 52h2M92 52h1M95 52h1M100 52h1M103 52h1M113 52h1M120 52h1M125 52h1M127 52h1M129 52h1M134 52h1M138 52h1M148 52h2M163 52h1M165 52h1M36 53h1M70 53h1M74 53h1M76 53h1M80 53h1M88 53h1M98 53h4M103 53h2M110 53h1M112 53h1M129 53h1M133 53h1M138 53h1M36 54h1M48 54h1M72 54h1M74 54h2M77 54h1M79 54h1M81 54h1M83 54h2M89 54h1M98 54h3M103 54h1M109 54h1M112 54h1M131 54h1M135 54h1M137 54h1M154 54h1M170 54h1M177 54h1M36 55h1M48 55h1M67 55h1M69 55h1M77 55h1M85 55h2M90 55h1M92 55h2M95 55h2M104 55h1M107 55h1M117 55h1M119 55h1M121 55h2M125 55h1M131 55h1M134 55h1M136 55h1M148 55h2M171 55h1M177 55h1M67 56h1M71 56h2M79 56h1M85 56h1M87 56h3M96 56h1M98 56h1M103 56h1M110 56h1M117 56h1M119 56h1M122 56h1M124 56h3M129 56h2M132 56h1M134 56h1M148 56h1M156 56h1M162 56h3M166 56h1M170 56h2M189 56h1M46 57h2M50 57h1M73 57h1M75 57h2M80 57h1M82 57h1M88 57h1M93 57h1M95 57h1M100 57h1M103 57h1M117 57h4M122 57h2M125 57h1M127 57h1M129 57h1M133 57h1M138 57h1M146 57h1M151 57h2M156 57h1M162 57h2M165 57h1M172 57h1M58 58h1M70 58h1M79 58h1M82 58h1M85 58h1M90 58h2M94 58h1M99 58h3M106 58h1M108 58h1M112 58h1M119 58h1M124 58h1M127 58h3M133 58h1M139 58h1M147 58h1M149 58h1M152 58h1M154 58h1M162 58h1M167 58h1M170 58h1M57 59h1M60 59h1M69 59h1M81 59h2M86 59h1M90 59h1M92 59h2M95 59h1M99 59h3M107 59h1M117 59h2M120 59h1M124 59h1M128 59h1M131 59h2M136 59h2M139 59h1M148 59h1M162 59h1M167 59h1M169 59h1M177 59h1M56 60h2M68 60h4M73 60h1M86 60h2M97 60h4M106 60h2M111 60h1M113 60h1M118 60h1M120 60h1M122 60h1M126 60h1M130 60h3M134 60h1M136 60h1M152 60h1M167 60h3M171 60h2M178 60h1M181 60h2M42 61h1M45 61h1M67 61h1M71 61h1M76 61h1M78 61h3M87 61h1M92 61h1M95 61h1M97 61h1M99 61h2M102 61h1M108 61h1M112 61h2M117 61h1M121 61h1M127 61h1M129 61h2M135 61h2M139 61h1M149 61h2M156 61h1M163 61h1M165 61h1M167 61h3M171 61h2M183 61h1M186 61h1M50 62h3M67 62h1M79 62h2M88 62h1M95 62h1M97 62h2M101 62h1M103 62h1M112 62h2M119 62h1M121 62h1M123 62h1M125 62h3M129 62h1M137 62h1M156 62h1M165 62h1M167 62h4M178 62h1M187 62h1M51 63h1M53 63h2M67 63h2M70 63h1M80 63h1M83 63h1M97 63h2M100 63h1M111 63h1M113 63h1M117 63h5M123 63h1M125 63h2M132 63h2M150 63h1M156 63h1M162 63h1M167 63h1M169 63h3M180 63h1M183 63h1M187 63h1M42 64h1M50 64h3M54 64h1M69 64h1M86 64h2M92 64h1M103 64h1M108 64h1M118 64h4M124 64h3M131 64h1M135 64h2M147 64h3M156 64h1M164 64h1M167 64h2M172 64h1M176 64h1M182 64h1M187 64h1M41 65h1M53 65h1M67 65h1M69 65h3M73 65h2M77 65h1M85 65h2M94 65h1M96 65h1M109 65h1M117 65h1M121 65h1M127 65h3M132 65h1M135 65h1M137 65h4M147 65h2M156 65h1M163 65h1M165 65h2M171 65h2M177 65h1M180 65h3M185 65h1M45 66h1M52 66h1M56 66h1M72 66h1M79 66h1M85 66h1M93 66h2M98 66h3M108 66h2M113 66h1M117 66h1M130 66h1M135 66h1M139 66h1M152 66h2M163 66h1M165 66h3M170 66h1M172 66h1M175 66h3M180 66h1M189 66h1M51 67h1M67 67h1M80 67h1M83 67h1M94 67h1M96 67h1M100 67h1M113 67h1M117 67h1M132 67h2M151 67h3M162 67h1M164 67h2M169 67h1M172 67h1M176 67h1M178 67h2M187 67h1M189 67h2M51 68h1M67 68h1M69 68h1M83 68h3M92 68h1M94 68h2M99 68h2M103 68h1M108 68h2M113 68h1M118 68h2M121 68h1M123 68h1M133 68h1M162 68h1M164 68h2M167 68h1M177 68h1M180 68h1M187 68h1M67 69h1M70 69h2M84 69h1M92 69h1M101 69h1M105 69h1M108 69h1M111 69h1M117 69h2M122 69h1M164 69h1M170 69h1M180 69h1M184 69h1M188 69h2M50 70h1M67 70h1M71 70h2M76 70h1M80 70h1M89 70h1M100 70h1M105 70h1M108 70h1M131 70h1M148 70h1M153 70h1M164 70h2M167 70h2M171 70h1M174 70h1M179 70h2M184 70h1M186 70h1M189 70h1M194 70h1M81 71h1M95 71h3M100 71h1M108 71h2M112 71h1M140 71h2M163 71h3M168 71h1M170 71h1M179 71h1M183 71h1M190 71h1M67 72h1M81 72h1M85 72h1M95 72h2M98 72h1M100 72h1M108 72h1M111 72h1M118 72h1M140 72h1M142 72h1M153 72h2M167 72h2M170 72h1M180 72h1M187 72h1M194 72h1M67 73h1M70 73h1M98 73h3M105 73h1M107 73h1M142 73h1M144 73h1M167 73h1M170 73h3M176 73h1M180 73h1M184 73h1M186 73h1M36 74h1M51 74h1M61 74h1M67 74h1M97 74h1M100 74h1M106 74h1M110 74h1M119 74h2M126 74h2M140 74h3M145 74h1M175 74h3M180 74h2M187 74h1M190 74h1M50 75h2M73 75h1M95 75h1M98 75h2M105 75h3M110 75h1M113 75h1M125 75h1M140 75h3M180 75h1M51 76h1M61 76h1M79 76h3M85 76h1M94 76h2M99 76h1M113 76h1M122 76h1M124 76h2M140 76h1M142 76h1M144 76h2M163 76h1M171 76h1M174 76h1M178 76h1M183 76h2M187 76h1M30 77h1M36 77h1M52 77h1M54 77h1M68 77h2M96 77h2M109 77h1M111 77h2M121 77h1M125 77h3M141 77h2M144 77h1M146 77h1M167 77h1M176 77h1M179 77h2M184 77h1M189 77h1M30 78h1M36 78h1M52 78h2M68 78h1M96 78h1M99 78h1M105 78h2M110 78h1M117 78h1M121 78h1M123 78h1M126 78h3M140 78h2M146 78h1M180 78h1M185 78h1M189 78h3M31 79h2M52 79h2M61 79h1M68 79h1M72 79h1M87 79h1M94 79h1M96 79h3M106 79h2M119 79h1M121 79h3M127 79h2M140 79h2M144 79h1M169 79h1M171 79h1M179 79h1M185 79h1M190 79h1M36 80h1M51 80h1M53 80h1M60 80h1M68 80h1M71 80h1M95 80h2M105 80h1M121 80h1M140 80h1M152 80h1M158 80h1M167 80h2M170 80h1M175 80h1M36 81h1M55 81h1M68 81h1M95 81h1M110 81h1M119 81h1M121 81h1M123 81h1M125 81h1M128 81h1M140 81h1M160 81h1M169 81h2M30 82h1M51 82h2M54 82h1M70 82h1M94 82h1M108 82h1M111 82h1M113 82h1M119 82h2M122 82h1M125 82h1M127 82h2M141 82h1M153 82h1M158 82h2M168 82h3M174 82h1M50 83h1M54 83h1M67 83h1M106 83h1M111 83h1M113 83h1M121 83h1M127 83h2M159 83h1M170 83h1M209 83h2M30 84h1M36 84h1M51 84h2M105 84h1M108 84h1M113 84h1M117 84h2M120 84h2M124 84h4M153 84h1M171 84h1M174 84h1M194 84h1M210 84h1M54 85h2M80 85h1M93 85h1M108 85h1M118 85h1M120 85h1M124 85h1M128 85h1M152 85h1M171 85h1M174 85h1M180 85h1M210 85h1M50 86h3M54 86h2M67 86h1M100 86h1M106 86h1M108 86h1M119 86h1M121 86h3M127 86h1M160 86h1M183 86h1M193 86h1M209 86h2M36 87h1M50 87h2M56 87h1M67 87h1M69 87h3M105 87h1M107 87h1M109 87h1M111 87h1M117 87h1M120 87h1M123 87h1M126 87h1M142 87h1M146 87h1M152 87h2M175 87h2M183 87h1M193 87h1M36 88h1M51 88h1M61 88h1M67 88h1M71 88h1M101 88h1M110 88h1M113 88h1M117 88h1M120 88h1M123 88h1M126 88h1M128 88h1M146 88h1M150 88h2M153 88h1M171 88h1M177 88h1M191 88h1M193 88h1M31 89h1M68 89h1M70 89h1M105 89h1M117 89h4M122 89h2M141 89h1M149 89h1M154 89h1M161 89h1M186 89h1M193 89h1M210 89h1M0 90h1M31 90h1M54 90h1M95 90h1M100 90h1M102 90h1M117 90h2M123 90h1M141 90h1M145 90h1M151 90h2M157 90h1M167 90h1M2 91h1M51 91h1M62 91h1M106 91h2M119 91h1M121 91h1M123 91h2M126 91h2M148 91h2M157 91h2M161 91h1M167 91h1M0 92h2M6 92h1M29 92h2M36 92h1M57 92h1M63 92h1M69 92h2M93 92h1M106 92h1M119 92h1M128 92h1M146 92h1M159 92h2M164 92h1M189 92h1M210 92h1M1 93h2M4 93h1M7 93h1M15 93h1M19 93h1M29 93h3M55 93h1M59 93h1M61 93h1M65 93h1M67 93h2M75 93h1M93 93h1M95 93h1M101 93h1M107 93h1M109 93h1M118 93h2M122 93h1M124 93h1M163 93h1M174 93h1M176 93h1M192 93h1M208 93h1M1 94h1M3 94h1M6 94h2M20 94h1M29 94h2M32 94h1M36 94h1M61 94h1M63 94h1M65 94h1M70 94h1M79 94h1M97 94h1M122 94h1M151 94h3M158 94h1M160 94h1M165 94h1M173 94h2M185 94h1M195 94h1M197 94h1M200 94h1M205 94h1M1 95h1M6 95h1M11 95h1M22 95h1M30 95h1M61 95h2M66 95h1M106 95h2M149 95h1M151 95h1M154 95h1M156 95h2M171 95h1M199 95h1M3 96h1M7 96h1M26 96h1M32 96h1M64 96h3M68 96h2M102 96h1M105 96h1M119 96h1M143 96h1M150 96h1M156 96h2M192 96h1M209 96h2M1 97h3M18 97h2M31 97h2M61 97h1M65 97h1M119 97h2M123 97h2M126 97h1M147 97h1M155 97h1M157 97h1M159 97h1M167 97h1M191 97h1M193 97h1M210 97h1M1 98h1M6 98h1M19 98h1M21 98h1M31 98h1M64 98h1M66 98h2M70 98h1M95 98h1M117 98h1M125 98h1M157 98h1M159 98h1M164 98h1M191 98h1M201 98h1M210 98h1M20 99h1M35 99h1M61 99h1M64 99h1M74 99h1M83 99h1M111 99h1M123 99h1M172 99h3M191 99h1M193 99h1M197 99h1M201 99h1M209 99h1M3 100h1M19 100h2M35 100h1M59 100h1M66 100h1M111 100h1M158 100h3M170 100h1M174 100h1M195 100h2M201 100h1M209 100h2M7 101h1M11 101h1M67 101h1M69 101h3M104 101h4M114 101h1M116 101h1M143 101h1M150 101h1M152 101h1M156 101h2M161 101h1M168 101h1M172 101h2M191 101h1M193 101h1M197 101h1M2 102h1M25 102h1M34 102h2M67 102h1M71 102h1M123 102h2M126 102h2M143 102h1M149 102h2M155 102h1M157 102h1M161 102h1M173 102h1M192 102h2M195 102h2M208 102h1M210 102h1M15 103h2M34 103h1M64 103h1M67 103h1M70 103h2M109 103h1M116 103h2M147 103h1M150 103h1M173 103h1M204 103h2M7 104h1M12 104h1M15 104h1M65 104h3M115 104h2M143 104h1M157 104h1M160 104h2M172 104h2M191 104h1M193 104h1M199 104h1M204 104h1M7 105h1M13 105h1M65 105h1M115 105h1M159 105h1M193 105h1M196 105h2M202 105h1M204 105h1M209 105h1M7 106h1M15 106h1M23 106h1M31 106h1M34 106h2M69 106h1M109 106h1M116 106h1M118 106h1M142 106h1M157 106h1M171 106h1M194 106h1M200 106h2M204 106h1M206 106h1M5 107h1M7 107h1M19 107h1M21 107h1M23 107h1M31 107h1M34 107h2M75 107h1M111 107h1M123 107h1M125 107h1M127 107h1M152 107h2M159 107h1M173 107h1M197 107h2M201 107h1M203 107h1M35 108h1M69 108h1M96 108h1M144 108h1M160 108h1M191 108h1M203 108h1M208 108h1M23 109h1M25 109h1M191 109h1M193 109h1M196 109h1M199 109h1M201 109h1M205 109h1M208 109h2M6 110h2M26 110h1M29 110h1M198 110h3M203 110h1M205 110h2M210 110h1M0 111h1M4 111h3M8 111h1M16 111h1M18 111h1M20 111h1M25 111h2M31 111h1M160 111h1M194 111h1M196 111h1M198 111h1M200 111h2M204 111h1M206 111h1M208 111h1M0 112h3M5 112h2M9 112h1M14 112h3M18 112h2M21 112h1M25 112h3M34 112h1M68 112h2M174 112h1M193 112h1M195 112h1M197 112h1M200 112h2M207 112h2M0 113h3M4 113h1M8 113h1M13 113h3M17 113h1M19 113h3M23 113h4M29 113h2M32 113h1M34 113h1M70 113h1M193 113h1M195 113h2M199 113h1M206 113h1M1 114h1M5 114h1M9 114h1M15 114h3M19 114h1M21 114h1M24 114h3M31 114h3M168 114h1M194 114h3M199 114h2M206 114h2M1 115h2M7 115h1M9 115h1M14 115h1M17 115h2M20 115h3M26 115h3M32 115h2M64 115h1M196 115h4M202 115h1M204 115h1M206 115h1M1 116h1M4 116h1M10 116h1M13 116h1M17 116h4M22 116h1M26 116h1M29 116h1M195 116h1M197 116h1M199 116h1M201 116h1M6 117h2M9 117h5M16 117h1M19 117h4M27 117h1M29 117h1M195 117h1M197 117h2M201 117h2M0 118h1M7 118h1M11 118h1M13 118h1M16 118h1M18 118h1M21 118h1M24 118h2M27 118h1M30 118h2M33 118h1M195 118h1M201 118h3M206 118h1M0 119h4M6 119h1M13 119h1M15 119h1M18 119h2M22 119h1M29 119h1M31 119h3M35 119h1M195 119h1M201 119h3M206 119h1M208 119h1M0 120h1M2 120h3M9 120h1M17 120h2M24 120h2M30 120h1M196 120h1M207 120h1M1 121h1M3 121h1M5 121h2M14 121h2M18 121h1M21 121h1M27 121h3M31 121h2M192 121h1M205 121h1M3 122h1M6 122h1M10 122h2M21 122h1M24 122h1M26 122h4M191 122h1M197 122h1M202 122h1M206 122h1M2 123h1M6 123h1M10 123h1M12 123h2M16 123h2M23 123h2M31 123h1M195 123h1M200 123h1M1 124h2M7 124h1M9 124h1M16 124h1M22 124h1M28 124h1M198 124h1M2 125h1M8 125h1M13 125h1M18 125h1M30 125h1M32 125h1M195 125h1M198 125h1M200 125h1M208 125h1M0 126h5M6 126h1M10 126h2M16 126h1M18 126h3M22 126h2M28 126h1M30 126h1M34 126h1M36 126h1M42 126h2M47 126h1M49 126h3M54 126h3M60 126h1M62 126h1M65 126h1M69 126h1M72 126h4M78 126h1M80 126h5M88 126h1M90 126h1M93 126h2M96 126h3M100 126h1M103 126h2M106 126h2M110 126h3M116 126h1M120 126h1M122 126h2M127 126h2M130 126h1M134 126h2M140 126h2M146 126h1M148 126h1M150 126h1M152 126h1M155 126h2M158 126h1M160 126h4M165 126h5M172 126h1M174 126h3M179 126h3M184 126h5M191 126h1M194 126h2M197 126h3M201 126h1M203 126h2M209 126h2"/>
<path stroke="#4cc26c" d="M42 17h1M118 17h1M120 17h1M125 17h1M127 17h1M42 18h1M59 18h1M68 18h1M117 18h3M125 18h1M127 18h1M178 18h1M37 19h1M40 19h1M43 19h1M147 19h1M152 19h1M178 19h1M38 20h1M45 20h1M68 20h1M117 20h1M154 20h1M179 20h1M39 21h1M123 21h1M125 21h2M149 21h1M154 21h1M68 22h1M123 22h1M125 22h1M177 22h1M179 22h1M56 23h2M68 23h1M70 23h1M122 23h1M132 23h1M155 23h1M177 23h2M42 24h1M56 24h1M60 24h1M67 24h1M69 24h1M151 24h1M178 24h1M42 25h1M67 25h1M84 25h1M133 25h1M152 25h1M179 25h1M45 26h1M69 26h1M118 26h1M121 26h1M147 26h1M153 26h1M179 26h1M69 27h1M118 27h1M120 27h2M123 27h1M146 27h1M154 27h1M49 28h1M81 28h1M146 28h1M148 28h2M177 28h1M55 29h1M83 29h1M131 29h1M134 29h1M138 29h1M43 30h1M55 30h2M59 30h1M85 30h1M89 30h1M134 30h1M137 30h1M148 30h1M151 30h1M178 30h2M39 31h1M56 31h1M59 31h2M67 31h2M86 31h1M132 31h2M136 31h2M150 31h1M155 31h1M179 31h1M47 32h1M57 32h2M70 32h1M129 32h1M150 32h1M179 32h1M49 33h1M103 33h1M146 33h1M155 33h1M41 34h1M67 34h1M84 34h1M104 34h1M130 34h1M134 34h2M148 34h1M155 34h1M41 35h2M46 35h1M48 35h2M55 35h1M57 35h1M67 35h1M85 35h2M90 35h1M104 35h1M129 35h1M133 35h2M151 35h2M177 35h1M37 36h1M44 36h1M58 36h1M86 36h1M103 36h1M124 36h1M137 36h1M44 37h2M59 37h2M70 37h1M82 37h1M88 37h1M91 37h1M103 37h1M119 37h1M124 37h1M135 37h1M137 37h1M150 37h1M155 37h1M48 38h1M57 38h1M60 38h1M67 38h1M70 38h1M83 38h1M89 38h1M119 38h1M132 38h1M136 38h1M146 38h2M150 38h1M152 38h2M40 39h1M42 39h1M46 39h1M48 39h1M56 39h1M67 39h1M86 39h1M89 39h1M91 39h1M129 39h1M135 39h1M137 39h1M148 39h1M150 39h1M153 39h1M39 40h2M43 40h1M48 40h1M55 40h1M68 40h1M89 40h2M108 40h1M129 40h2M136 40h1M38 41h1M40 41h1M42 41h1M44 41h1M55 41h1M67 41h1M69 41h2M81 41h2M92 41h1M119 41h1M121 41h1M126 41h1M39 42h2M48 42h1M55 42h2M59 42h1M67 42h1M69 42h1M81 42h1M89 42h1M91 42h2M102 42h1M121 42h1M123 42h1M126 42h1M129 42h1M135 42h1M137 42h1M153 42h1M38 43h1M41 43h4M47 43h1M69 43h1M83 43h2M86 43h3M91 43h1M102 43h1M129 43h2M132 43h1M147 43h1M151 43h1M153 43h1M39 44h1M41 44h1M49 44h1M70 44h1M86 44h1M104 44h1M129 44h1M133 44h1M135 44h1M137 44h1M146 44h1M150 44h1M152 44h1M37 45h1M46 45h1M49 45h1M57 45h2M86 45h1M89 45h2M102 45h1M104 45h1M132 45h1M150 45h1M154 45h1M38 46h2M41 46h1M44 46h1M49 46h1M55 46h2M59 46h1M82 46h2M86 46h1M90 46h1M120 46h1M131 46h1M55 47h2M59 47h1M70 47h1M81 47h1M83 47h2M91 47h1M129 47h1M39 48h1M44 48h1M56 48h1M58 48h2M70 48h1M88 48h1M92 48h1M102 48h1M147 48h1M151 48h1M155 48h1M40 49h2M60 49h1M85 49h1M90 49h1M104 49h1M130 49h1M133 49h1M146 49h1M153 49h1M37 50h3M41 50h1M44 50h1M81 50h1M86 50h1M90 50h1M129 50h1M134 50h1M152 50h2M38 51h1M42 51h1M44 51h1M68 51h2M80 51h1M87 51h1M91 51h2M112 51h2M125 51h1M127 51h1M131 51h1M136 51h1M150 51h1M153 51h1M155 51h1M37 52h1M41 52h1M70 52h2M89 52h1M102 52h1M112 52h1M137 52h1M40 53h1M48 53h1M55 53h1M58 53h1M71 53h1M82 53h3M89 53h1M92 53h1M130 53h1M132 53h1M134 53h1M41 54h1M55 54h4M60 54h1M76 54h1M80 54h1M82 54h1M85 54h1M90 54h1M92 54h1M108 54h1M110 54h1M132 54h3M138 54h1M147 54h2M151 54h2M41 55h3M76 55h1M78 55h2M83 55h2M87 55h2M98 55h2M103 55h1M110 55h3M130 55h1M132 55h2M146 55h2M150 55h1M155 55h1M169 55h2M37 56h1M40 56h1M47 56h1M50 56h1M60 56h1M68 56h1M78 56h1M81 56h1M86 56h1M91 56h1M95 56h1M102 56h1M104 56h1M109 56h1M121 56h1M127 56h2M131 56h1M135 56h3M146 56h1M149 56h1M155 56h1M169 56h1M40 57h1M67 57h1M70 57h2M74 57h1M78 57h1M83 57h1M89 57h2M92 57h1M102 57h1M104 57h1M108 57h2M112 57h2M124 57h1M126 57h1M128 57h1M130 57h1M132 57h1M134 57h1M153 57h3M169 57h2M46 58h1M56 58h2M69 58h1M78 58h1M80 58h1M83 58h2M88 58h2M92 58h2M97 58h1M103 58h2M109 58h1M131 58h1M134 58h1M137 58h1M169 58h1M46 59h1M58 59h1M72 59h2M75 59h1M80 59h1M83 59h2M87 59h1M91 59h1M96 59h1M102 59h1M106 59h1M108 59h1M110 59h1M135 59h1M147 59h1M154 59h1M170 59h1M39 60h1M43 60h1M49 60h1M55 60h1M58 60h3M72 60h1M76 60h1M79 60h1M82 60h1M85 60h1M89 60h2M95 60h1M108 60h1M110 60h1M112 60h1M117 60h1M119 60h1M121 60h1M124 60h2M146 60h2M151 60h1M153 60h3M177 60h1M40 61h2M48 61h1M58 61h1M60 61h1M70 61h1M72 61h1M77 61h1M88 61h1M103 61h1M109 61h2M118 61h1M120 61h1M123 61h4M128 61h1M132 61h1M138 61h1M152 61h1M177 61h1M38 62h1M40 62h1M48 62h1M72 62h1M74 62h2M77 62h2M81 62h1M83 62h1M86 62h1M89 62h2M92 62h1M102 62h1M104 62h1M120 62h1M122 62h1M124 62h1M128 62h1M132 62h1M134 62h1M146 62h1M149 62h4M164 62h1M171 62h1M44 63h1M50 63h1M69 63h1M79 63h1M84 63h1M92 63h1M103 63h1M122 63h1M128 63h2M131 63h1M137 63h1M149 63h1M155 63h1M164 63h1M184 63h1M40 64h2M46 64h2M67 64h1M75 64h1M83 64h1M85 64h1M88 64h1M96 64h1M100 64h1M105 64h1M110 64h1M122 64h2M128 64h1M134 64h1M153 64h1M155 64h1M169 64h3M181 64h1M184 64h1M40 65h1M47 65h1M68 65h1M72 65h1M87 65h2M100 65h1M108 65h1M112 65h1M118 65h1M120 65h1M122 65h1M124 65h1M130 65h2M134 65h1M154 65h1M168 65h1M176 65h1M183 65h1M186 65h1M41 66h1M57 66h1M68 66h2M73 66h4M78 66h1M80 66h1M82 66h1M88 66h1M92 66h1M96 66h1M112 66h1M120 66h1M122 66h3M128 66h1M134 66h1M154 66h1M169 66h1M182 66h1M37 67h1M45 67h1M72 67h1M75 67h1M78 67h2M81 67h2M89 67h1M91 67h1M93 67h1M99 67h1M102 67h2M109 67h1M118 67h3M124 67h1M126 67h2M134 67h1M139 67h1M146 67h1M156 67h1M166 67h3M170 67h1M177 67h1M186 67h1M70 68h1M81 68h1M91 68h1M96 68h1M101 68h1M117 68h1M120 68h1M124 68h2M127 68h1M139 68h1M153 68h1M163 68h1M166 68h1M168 68h1M170 68h1M172 68h1M178 68h2M183 68h1M50 69h1M86 69h1M91 69h1M95 69h3M109 69h1M120 69h2M127 69h1M131 69h1M153 69h1M156 69h1M165 69h4M171 69h2M175 69h1M179 69h1M69 70h1M73 70h1M75 70h1M77 70h1M88 70h1M92 70h1M95 70h1M97 70h3M101 70h1M112 70h2M122 70h1M130 70h1M162 70h1M170 70h1M188 70h1M68 71h1M70 71h1M73 71h1M76 71h4M84 71h1M89 71h1M98 71h2M101 71h1M104 71h1M111 71h1M113 71h1M131 71h1M134 71h1M139 71h1M167 71h1M169 71h1M171 71h2M177 71h2M180 71h1M194 71h1M58 72h1M69 72h1M82 72h1M92 72h2M101 72h1M117 72h1M119 72h1M123 72h1M127 72h1M156 72h1M162 72h2M165 72h1M175 72h2M181 72h1M186 72h1M189 72h1M38 73h1M71 73h1M85 73h1M92 73h2M95 73h3M101 73h1M108 73h1M111 73h1M119 73h2M122 73h3M126 73h3M139 73h1M156 73h1M165 73h1M169 73h1M179 73h1M181 73h1M190 73h1M71 74h3M93 74h1M95 74h2M99 74h1M101 74h1M111 74h2M118 74h1M122 74h2M128 74h1M167 74h1M170 74h1M172 74h1M178 74h1M183 74h1M185 74h1M188 74h1M49 75h1M67 75h1M69 75h3M75 75h1M79 75h2M90 75h1M96 75h2M100 75h2M108 75h1M111 75h1M124 75h1M167 75h1M171 75h2M175 75h1M182 75h3M186 75h1M194 75h1M67 76h1M69 76h1M93 76h1M96 76h2M100 76h2M104 76h1M111 76h2M118 76h2M126 76h1M141 76h1M153 76h1M169 76h1M179 76h1M188 76h3M194 76h1M50 77h1M70 77h1M94 77h2M98 77h1M113 77h1M118 77h3M123 77h1M128 77h1M143 77h1M145 77h1M154 77h1M168 77h2M172 77h1M174 77h1M177 77h2M183 77h1M185 77h1M188 77h1M194 77h1M31 78h1M50 78h1M71 78h2M86 78h1M93 78h3M101 78h1M109 78h1M118 78h3M124 78h1M142 78h2M145 78h1M153 78h1M168 78h1M171 78h1M174 78h1M178 78h1M181 78h1M183 78h1M186 78h1M194 78h1M36 79h1M50 79h1M67 79h1M73 79h1M95 79h1M100 79h1M105 79h1M111 79h2M117 79h2M124 79h3M142 79h1M146 79h1M168 79h1M170 79h1M172 79h1M175 79h1M180 79h2M183 79h1M186 79h1M189 79h1M194 79h1M46 80h1M55 80h1M58 80h1M67 80h1M70 80h1M76 80h1M94 80h1M97 80h4M102 80h1M108 80h1M123 80h3M127 80h2M142 80h1M156 80h1M169 80h1M171 80h2M176 80h1M182 80h2M185 80h1M187 80h1M190 80h1M194 80h1M41 81h1M44 81h1M58 81h1M60 81h1M81 81h1M93 81h2M96 81h2M99 81h2M117 81h2M124 81h1M126 81h2M167 81h2M171 81h1M176 81h3M183 81h2M187 81h1M194 81h1M36 82h1M38 82h1M41 82h2M44 82h1M95 82h2M98 82h2M112 82h1M145 82h1M176 82h1M178 82h1M180 82h1M183 82h1M188 82h1M51 83h1M96 83h1M100 83h1M108 83h3M112 83h1M139 83h4M145 83h1M147 83h1M154 83h1M158 83h1M168 83h2M174 83h2M177 83h2M180 83h1M184 83h1M189 83h3M194 83h1M47 84h1M50 84h1M68 84h2M71 84h1M94 84h1M106 84h2M110 84h1M112 84h1M122 84h1M128 84h1M140 84h1M143 84h2M154 84h1M158 84h1M170 84h1M172 84h1M178 84h1M180 84h1M186 84h1M51 85h1M68 85h1M70 85h1M94 85h1M102 85h2M106 85h2M109 85h2M112 85h1M119 85h1M121 85h3M140 85h1M142 85h1M144 85h3M151 85h1M169 85h1M172 85h1M36 86h1M53 86h1M58 86h1M70 86h1M83 86h1M85 86h1M94 86h2M99 86h1M101 86h1M103 86h2M107 86h1M111 86h3M126 86h1M141 86h1M143 86h3M148 86h1M152 86h2M159 86h1M175 86h1M194 86h1M52 87h2M55 87h1M58 87h2M98 87h1M100 87h2M113 87h1M143 87h3M147 87h1M151 87h1M167 87h1M169 87h1M174 87h1M177 87h1M181 87h1M184 87h1M188 87h1M73 88h1M98 88h1M105 88h3M109 88h1M111 88h1M139 88h1M142 88h2M145 88h1M158 88h1M169 88h1M176 88h1M179 88h1M181 88h1M209 88h1M51 89h2M61 89h1M69 89h1M71 89h1M78 89h2M93 89h1M97 89h2M106 89h2M111 89h1M113 89h1M121 89h1M125 89h2M128 89h1M139 89h2M144 89h1M148 89h1M158 89h1M178 89h1M36 90h1M51 90h1M61 90h2M67 90h2M96 90h1M108 90h1M110 90h1M113 90h1M119 90h1M121 90h2M127 90h1M139 90h2M142 90h1M144 90h1M147 90h1M158 90h1M161 90h1M180 90h1M210 90h1M0 91h1M36 91h1M54 91h1M57 91h1M61 91h1M67 91h2M78 91h1M95 91h2M99 91h1M102 91h3M108 91h4M113 91h1M120 91h1M122 91h1M125 91h1M128 91h1M146 91h1M154 91h1M160 91h1M166 91h1M171 91h1M188 91h1M209 91h2M52 92h1M54 92h3M58 92h1M61 92h1M67 92h1M71 92h1M96 92h1M99 92h1M101 92h1M104 92h1M109 92h2M113 92h1M144 92h1M157 92h2M170 92h1M172 92h1M174 92h1M176 92h1M191 92h1M209 92h1M45 93h1M54 93h1M60 93h1M63 93h1M71 93h2M98 93h1M105 93h2M110 93h1M112 93h1M117 93h1M120 93h2M123 93h1M128 93h1M143 93h1M151 93h1M157 93h1M160 93h1M164 93h1M169 93h1M185 93h1M191 93h1M209 93h2M4 94h1M52 94h1M58 94h1M60 94h1M69 94h1M71 94h2M75 94h1M99 94h1M118 94h1M120 94h1M125 94h1M127 94h1M141 94h1M144 94h1M154 94h1M156 94h2M159 94h1M163 94h1M169 94h1M187 94h1M32 95h1M52 95h1M63 95h1M68 95h1M99 95h1M105 95h1M117 95h3M122 95h3M128 95h1M143 95h1M155 95h1M158 95h2M167 95h1M169 95h1M174 95h1M192 95h1M194 95h1M22 96h1M31 96h1M61 96h1M63 96h1M98 96h1M100 96h1M107 96h1M118 96h1M120 96h1M122 96h1M125 96h2M142 96h1M153 96h1M159 96h2M167 96h1M169 96h2M174 96h1M194 96h1M30 97h1M62 97h1M100 97h1M104 97h2M109 97h2M112 97h1M117 97h1M121 97h1M127 97h1M141 97h1M143 97h1M146 97h1M148 97h1M150 97h1M156 97h1M158 97h1M160 97h1M165 97h1M168 97h1M174 97h1M187 97h1M189 97h1M192 97h1M194 97h1M209 97h1M57 98h1M62 98h2M74 98h1M79 98h2M96 98h1M98 98h1M118 98h2M126 98h2M147 98h1M160 98h2M163 98h1M174 98h1M192 98h1M209 98h1M57 99h1M59 99h1M62 99h1M65 99h3M120 99h1M124 99h1M141 99h1M157 99h1M160 99h2M164 99h1M170 99h2M185 99h1M192 99h1M63 100h3M67 100h1M69 100h1M83 100h1M102 100h1M105 100h1M125 100h1M140 100h2M143 100h1M150 100h1M161 100h1M168 100h1M194 100h1M64 101h1M68 101h1M98 101h1M103 101h1M120 101h1M124 101h2M127 101h2M148 101h1M155 101h1M158 101h2M187 101h1M194 101h1M209 101h1M64 102h1M66 102h1M102 102h1M105 102h2M108 102h1M118 102h2M125 102h1M147 102h2M167 102h2M171 102h1M66 103h1M68 103h1M73 103h1M76 103h1M104 103h1M108 103h1M118 103h1M122 103h1M125 103h1M127 103h1M142 103h3M158 103h4M167 103h1M170 103h2M192 103h1M96 104h1M114 104h1M144 104h1M158 104h1M162 104h1M169 104h1M171 104h1M194 104h1M210 104h1M66 105h1M101 105h1M105 105h1M114 105h1M117 105h1M119 105h1M125 105h1M139 105h1M143 105h1M156 105h3M160 105h2M168 105h1M192 105h1M65 106h1M67 106h2M70 106h1M102 106h1M115 106h1M119 106h1M123 106h1M125 106h1M127 106h1M143 106h1M153 106h1M159 106h2M168 106h1M172 106h1M175 106h1M191 106h1M193 106h1M197 106h1M209 106h1M66 107h1M68 107h1M110 107h1M116 107h5M122 107h1M124 107h1M144 107h2M151 107h1M158 107h1M191 107h1M210 107h1M68 108h1M70 108h2M83 108h2M114 108h1M122 108h1M147 108h2M152 108h1M157 108h1M159 108h1M172 108h2M192 108h2M196 108h1M204 108h1M35 109h1M65 109h1M67 109h1M114 109h3M119 109h1M143 109h2M157 109h1M163 109h1M172 109h2M192 109h1M194 109h1M197 109h1M204 109h1M34 110h1M114 110h2M158 110h2M193 110h2M197 110h1M29 111h1M34 111h1M65 111h1M69 111h2M106 111h1M114 111h1M117 111h1M120 111h1M144 111h1M156 111h1M192 111h2M197 111h1M199 111h1M203 111h1M71 112h1M120 112h1M144 112h1M157 112h1M173 112h1M191 112h1M194 112h1M196 112h1M199 112h1M203 112h2M11 113h1M61 113h1M64 113h1M68 113h1M114 113h1M157 113h1M159 113h1M190 113h1M192 113h1M200 113h2M207 113h2M2 114h1M11 114h1M13 114h2M23 114h1M30 114h1M159 114h1M172 114h1M201 114h2M204 114h2M208 114h1M3 115h1M11 115h1M13 115h1M15 115h2M19 115h1M23 115h2M29 115h2M34 115h1M145 115h1M168 115h1M200 115h2M203 115h1M0 116h1M2 116h2M5 116h1M7 116h2M11 116h2M15 116h1M23 116h1M28 116h1M30 116h2M33 116h2M69 116h1M168 116h1M191 116h1M198 116h1M202 116h1M204 116h2M208 116h1M1 117h5M8 117h1M14 117h2M17 117h1M23 117h2M26 117h1M30 117h4M68 117h1M168 117h1M194 117h1M199 117h1M203 117h1M205 117h5M2 118h1M4 118h2M9 118h1M15 118h1M17 118h1M19 118h2M22 118h2M26 118h1M28 118h2M32 118h1M194 118h1M205 118h1M207 118h2M4 119h2M7 119h1M9 119h2M16 119h1M20 119h1M23 119h1M25 119h1M28 119h1M30 119h1M194 119h1M197 119h1M1 120h1M5 120h2M10 120h1M15 120h2M20 120h1M22 120h2M26 120h2M31 120h2M35 120h1M191 120h2M197 120h3M201 120h6M0 121h1M2 121h1M8 121h3M16 121h1M22 121h2M25 121h2M30 121h1M195 121h2M199 121h1M207 121h2M1 122h2M4 122h2M8 122h2M14 122h1M17 122h1M20 122h1M22 122h2M30 122h1M70 122h1M195 122h2M199 122h3M203 122h2M207 122h1M210 122h1M0 123h2M5 123h1M8 123h2M14 123h1M20 123h1M22 123h1M26 123h2M29 123h1M193 123h1M196 123h2M199 123h1M201 123h1M203 123h2M4 124h1M6 124h1M11 124h1M14 124h1M19 124h1M21 124h1M24 124h1M30 124h1M194 124h2M197 124h1M205 124h1M208 124h1M0 125h2M3 125h2M6 125h2M9 125h1M11 125h1M14 125h2M17 125h1M19 125h1M21 125h4M28 125h2M33 125h1M47 125h1M186 125h1M192 125h1M194 125h1M199 125h1M201 125h1M204 125h1M206 125h2M5 126h1M7 126h3M12 126h4M21 126h1M25 126h3M32 126h1M37 126h1M45 126h1M58 126h2M61 126h1M63 126h2M66 126h3M70 126h2M76 126h2M85 126h3M91 126h2M95 126h1M99 126h1M101 126h1M105 126h1M109 126h1M113 126h3M117 126h1M121 126h1M124 126h3M129 126h1M131 126h2M136 126h2M142 126h3M147 126h1M149 126h1M154 126h1M157 126h1M164 126h1M170 126h2M173 126h1M177 126h1M182 126h2M190 126h1M193 126h1M196 126h1M200 126h1M202 126h1M205 126h1M207 126h2"/>
<path stroke="#5ac864" d="M70 19h1M179 19h1M39 20h1M120 22h1M70 24h1M150 26h1M149 27h1M70 29h1M148 29h1M58 30h1M155 30h1M58 31h1M129 31h1M147 31h1M151 31h1M154 31h1M67 32h3M132 32h1M153 32h1M67 33h1M131 33h1M135 33h1M149 34h1M154 34h1M130 35h1M137 35h1M155 35h1M46 36h1M48 36h2M87 36h1M129 36h1M132 36h1M136 36h1M147 36h1M155 36h1M48 37h1M55 37h1M68 37h2M87 37h1M129 37h1M132 37h1M151 37h1M154 37h1M47 38h1M59 38h1M69 38h1M82 38h1M102 38h2M135 38h1M154 38h1M45 39h1M70 39h1M90 39h1M102 39h1M138 39h1M146 39h1M46 40h1M86 40h1M103 40h1M137 40h2M148 40h1M154 40h1M39 41h1M48 41h1M68 41h1M88 41h1M91 41h1M102 41h3M136 41h2M148 41h1M47 42h1M57 42h2M60 42h1M68 42h1M70 42h1M82 42h2M87 42h2M103 42h2M131 42h2M136 42h1M147 42h1M151 42h2M155 42h1M49 43h1M55 43h1M58 43h3M70 43h1M89 43h2M103 43h2M135 43h1M38 44h1M40 44h1M42 44h3M58 44h2M89 44h1M102 44h1M138 44h1M38 45h2M41 45h1M59 45h2M88 45h1M103 45h1M129 45h2M133 45h1M37 46h1M43 46h1M46 46h1M48 46h1M89 46h1M92 46h1M129 46h1M133 46h1M137 46h2M148 46h1M155 46h1M37 47h3M43 47h2M46 47h1M48 47h1M82 47h1M86 47h2M90 47h1M92 47h1M132 47h1M135 47h2M148 47h1M155 47h1M38 48h1M40 48h1M45 48h2M48 48h1M55 48h1M86 48h2M130 48h2M152 48h1M39 49h1M42 49h1M47 49h1M57 49h1M59 49h1M88 49h1M92 49h1M134 49h1M152 49h1M40 50h1M42 50h1M56 50h2M60 50h1M133 50h1M137 50h1M150 50h1M154 50h1M37 51h1M40 51h1M46 51h2M56 51h2M81 51h4M90 51h1M129 51h1M149 51h1M154 51h1M38 52h1M40 52h1M42 52h1M44 52h1M46 52h1M49 52h1M55 52h1M58 52h3M82 52h3M91 52h1M132 52h1M135 52h1M41 53h3M56 53h1M85 53h1M87 53h1M90 53h1M102 53h1M135 53h2M148 53h1M40 54h1M42 54h2M59 54h1M86 54h3M102 54h1M129 54h2M38 55h3M44 55h1M56 55h1M59 55h2M80 55h2M89 55h1M127 55h1M137 55h2M154 55h1M38 56h2M41 56h1M43 56h1M46 56h1M69 56h1M82 56h3M90 56h1M108 56h1M111 56h1M113 56h1M133 56h1M138 56h1M151 56h2M154 56h1M37 57h3M57 57h1M59 57h2M69 57h1M72 57h1M91 57h1M135 57h3M148 57h2M41 58h3M49 58h1M55 58h1M72 58h2M75 58h3M87 58h1M102 58h1M135 58h2M39 59h1M41 59h3M45 59h1M48 59h1M55 59h1M59 59h1M74 59h1M76 59h1M78 59h2M88 59h2M103 59h2M109 59h1M129 59h1M37 60h1M40 60h2M45 60h2M48 60h1M77 60h2M80 60h1M84 60h1M88 60h1M91 60h1M103 60h2M109 60h1M129 60h1M137 60h2M37 61h3M43 61h1M49 61h1M55 61h3M59 61h1M68 61h1M73 61h1M81 61h1M84 61h1M86 61h1M89 61h2M122 61h1M131 61h1M133 61h1M146 61h1M151 61h1M153 61h1M37 62h1M43 62h1M45 62h1M58 62h1M68 62h2M71 62h1M76 62h1M82 62h1M84 62h1M130 62h1M135 62h2M40 63h2M43 63h1M46 63h1M48 63h1M71 63h2M78 63h1M82 63h1M86 63h4M91 63h1M134 63h1M136 63h1M153 63h1M39 64h1M44 64h1M57 64h1M72 64h3M77 64h1M81 64h1M84 64h1M90 64h1M129 64h2M39 65h1M42 65h1M48 65h1M55 65h1M75 65h2M89 65h1M102 65h3M110 65h1M119 65h1M125 65h2M133 65h1M169 65h1M37 66h2M40 66h1M46 66h1M49 66h1M70 66h2M77 66h1M81 66h1M86 66h2M89 66h1M91 66h1M102 66h3M119 66h1M121 66h1M126 66h2M133 66h1M136 66h1M156 66h1M171 66h1M183 66h1M186 66h1M39 67h1M42 67h1M49 67h1M56 67h1M69 67h1M85 67h1M90 67h1M92 67h1M104 67h1M121 67h1M125 67h1M128 67h2M155 67h1M38 68h2M45 68h1M71 68h1M77 68h1M79 68h1M82 68h1M89 68h2M128 68h1M130 68h2M155 68h2M171 68h1M190 68h1M41 69h2M72 69h2M77 69h1M79 69h1M81 69h1M85 69h1M87 69h2M119 69h1M124 69h3M128 69h1M130 69h1M132 69h1M139 69h1M162 69h1M38 70h2M42 70h1M68 70h1M74 70h1M78 70h1M85 70h1M87 70h1M93 70h1M104 70h1M110 70h2M118 70h1M120 70h1M128 70h2M135 70h1M139 70h1M156 70h1M166 70h1M172 70h1M181 70h1M69 71h1M72 71h1M74 71h1M82 71h2M88 71h1M90 71h4M110 71h1M119 71h1M122 71h1M129 71h2M135 71h1M154 71h1M156 71h1M166 71h1M181 71h2M186 71h1M189 71h1M38 72h1M70 72h2M77 72h1M83 72h2M89 72h1M91 72h1M120 72h3M124 72h1M126 72h1M128 72h1M132 72h3M139 72h1M164 72h1M166 72h1M169 72h1M171 72h2M177 72h2M182 72h2M190 72h1M45 73h1M59 73h1M74 73h1M77 73h1M80 73h1M86 73h2M117 73h1M125 73h1M131 73h2M153 73h1M155 73h1M166 73h1M168 73h1M178 73h1M183 73h1M187 73h1M194 73h1M48 74h2M74 74h1M77 74h1M87 74h1M89 74h1M105 74h1M108 74h2M117 74h1M121 74h1M124 74h2M131 74h1M165 74h2M168 74h2M171 74h1M179 74h1M194 74h1M48 75h1M68 75h1M72 75h1M77 75h1M89 75h1M93 75h1M102 75h2M109 75h1M112 75h1M118 75h1M120 75h1M122 75h2M127 75h3M163 75h1M168 75h1M170 75h1M188 75h2M44 76h1M48 76h1M68 76h1M70 76h1M77 76h1M82 76h2M90 76h1M92 76h1M102 76h1M109 76h1M117 76h1M120 76h2M123 76h1M128 76h1M131 76h1M162 76h1M164 76h1M167 76h2M170 76h1M172 76h1M180 76h1M182 76h1M185 76h1M38 77h1M47 77h1M71 77h1M79 77h2M82 77h2M100 77h2M104 77h1M132 77h1M139 77h1M170 77h2M175 77h1M181 77h2M186 77h1M190 77h1M38 78h1M47 78h1M57 78h1M59 78h1M85 78h1M87 78h1M98 78h1M100 78h1M102 78h1M139 78h1M154 78h1M170 78h1M182 78h1M188 78h1M45 79h2M55 79h2M59 79h1M74 79h1M93 79h1M101 79h2M109 79h2M120 79h1M139 79h1M143 79h1M145 79h1M153 79h1M187 79h1M56 80h1M59 80h1M69 80h1M72 80h2M75 80h1M77 80h1M80 80h1M82 80h1M85 80h1M91 80h1M93 80h1M101 80h1M109 80h1M111 80h2M118 80h1M122 80h1M126 80h1M139 80h1M143 80h3M181 80h1M186 80h1M188 80h1M40 81h1M43 81h1M69 81h2M75 81h1M79 81h1M83 81h3M98 81h1M101 81h2M108 81h1M111 81h2M120 81h1M134 81h2M141 81h1M143 81h3M172 81h1M175 81h1M180 81h1M182 81h1M188 81h1M47 82h2M71 82h1M82 82h1M85 82h1M87 82h1M93 82h1M97 82h1M101 82h1M103 82h1M140 82h1M143 82h2M167 82h1M171 82h2M175 82h1M182 82h1M186 82h2M189 82h1M48 83h1M72 83h1M95 83h1M98 83h2M101 83h1M143 83h1M146 83h1M167 83h1M171 83h2M179 83h1M182 83h2M185 83h2M37 84h1M72 84h1M78 84h1M93 84h1M95 84h2M98 84h4M109 84h1M111 84h1M141 84h2M145 84h2M155 84h1M167 84h1M169 84h1M179 84h1M181 84h2M184 84h2M189 84h2M36 85h1M42 85h1M50 85h1M58 85h1M69 85h1M71 85h1M79 85h1M81 85h2M95 85h7M111 85h1M141 85h1M143 85h1M153 85h3M167 85h2M170 85h1M175 85h1M181 85h4M186 85h2M194 85h1M57 86h1M59 86h1M69 86h1M80 86h2M93 86h1M98 86h1M102 86h1M140 86h1M142 86h1M149 86h3M163 86h1M167 86h1M170 86h1M172 86h1M181 86h2M187 86h1M60 87h1M93 87h3M99 87h1M102 87h1M104 87h1M140 87h2M149 87h2M165 87h1M168 87h1M171 87h1M189 87h1M194 87h1M59 88h1M74 88h2M93 88h1M96 88h2M99 88h2M140 88h2M144 88h1M149 88h1M154 88h1M167 88h2M174 88h1M183 88h1M194 88h1M50 89h1M72 89h2M75 89h3M95 89h1M99 89h1M103 89h1M108 89h3M112 89h1M124 89h1M142 89h2M156 89h1M167 89h3M171 89h1M176 89h1M179 89h2M185 89h1M190 89h1M194 89h1M53 90h1M78 90h1M93 90h2M99 90h1M101 90h1M103 90h2M106 90h2M120 90h1M124 90h3M128 90h1M143 90h1M162 90h1M166 90h1M171 90h2M178 90h1M186 90h1M194 90h1M47 91h1M53 91h1M56 91h1M69 91h2M84 91h1M93 91h1M97 91h1M100 91h2M112 91h1M135 91h1M141 91h5M150 91h4M170 91h1M172 91h1M174 91h1M180 91h2M194 91h1M46 92h1M53 92h1M59 92h1M72 92h1M95 92h1M97 92h2M102 92h1M108 92h1M111 92h1M140 92h4M148 92h1M150 92h1M167 92h1M171 92h1M183 92h1M188 92h1M190 92h1M194 92h1M52 93h2M56 93h2M73 93h1M76 93h1M96 93h1M99 93h2M111 93h1M113 93h1M140 93h3M144 93h1M147 93h1M150 93h1M156 93h1M165 93h1M170 93h3M189 93h2M194 93h1M51 94h1M55 94h2M59 94h1M68 94h1M80 94h1M83 94h2M93 94h1M96 94h1M101 94h1M105 94h1M109 94h1M113 94h1M117 94h1M119 94h1M121 94h1M123 94h2M128 94h1M138 94h2M143 94h1M146 94h1M150 94h1M167 94h2M170 94h3M176 94h1M190 94h1M194 94h1M209 94h2M36 95h1M60 95h1M70 95h1M78 95h2M84 95h2M94 95h1M96 95h1M111 95h1M120 95h1M126 95h2M139 95h2M142 95h1M144 95h2M148 95h1M168 95h1M170 95h1M172 95h1M176 95h1M187 95h1M209 95h2M70 96h1M93 96h1M96 96h2M99 96h1M103 96h2M109 96h2M113 96h1M121 96h1M123 96h1M127 96h2M139 96h1M145 96h3M151 96h2M158 96h1M172 96h1M180 96h1M187 96h2M72 97h1M76 97h1M93 97h1M97 97h3M102 97h1M108 97h1M113 97h1M128 97h1M142 97h1M144 97h1M149 97h1M161 97h1M170 97h3M36 98h1M72 98h1M75 98h1M77 98h2M81 98h1M93 98h1M97 98h1M104 98h3M109 98h1M112 98h1M121 98h1M128 98h1M139 98h3M143 98h3M150 98h1M155 98h2M167 98h2M171 98h2M194 98h1M36 99h1M55 99h2M63 99h1M68 99h3M72 99h1M79 99h2M95 99h1M98 99h1M101 99h1M105 99h1M117 99h2M121 99h2M126 99h1M140 99h1M146 99h1M156 99h1M166 99h1M176 99h1M194 99h1M60 100h2M70 100h1M97 100h1M101 100h1M103 100h2M106 100h1M117 100h2M123 100h1M126 100h1M128 100h1M142 100h1M151 100h2M154 100h1M156 100h1M169 100h1M171 100h1M175 100h2M185 100h1M61 101h1M65 101h1M96 101h1M102 101h1M108 101h1M117 101h1M119 101h1M121 101h1M126 101h1M140 101h1M144 101h1M149 101h1M151 101h1M153 101h2M167 101h1M169 101h3M62 102h1M65 102h1M73 102h1M103 102h1M109 102h3M117 102h1M120 102h2M140 102h1M142 102h1M144 102h1M146 102h1M152 102h3M156 102h1M159 102h1M169 102h2M172 102h1M65 103h1M77 103h2M83 103h1M101 103h1M107 103h1M112 103h1M119 103h1M121 103h1M123 103h1M126 103h1M140 103h2M148 103h2M155 103h2M163 103h1M165 103h2M168 103h2M172 103h1M194 103h1M209 103h2M36 104h1M68 104h1M70 104h2M101 104h1M121 104h1M125 104h1M127 104h1M141 104h2M145 104h1M147 104h1M163 104h2M167 104h2M174 104h1M192 104h1M209 104h1M36 105h1M63 105h2M67 105h2M118 105h1M120 105h1M123 105h1M127 105h1M141 105h2M162 105h1M166 105h1M171 105h2M174 105h3M191 105h1M36 106h1M64 106h1M66 106h1M71 106h1M105 106h1M107 106h2M110 106h2M114 106h1M117 106h1M121 106h2M124 106h1M126 106h1M128 106h1M140 106h1M145 106h1M151 106h2M170 106h1M174 106h1M192 106h1M36 107h1M61 107h1M67 107h1M102 107h1M107 107h1M109 107h1M113 107h3M121 107h1M126 107h1M140 107h1M143 107h1M154 107h2M160 107h2M171 107h2M174 107h1M192 107h1M194 107h1M209 107h1M66 108h2M75 108h1M82 108h1M98 108h1M101 108h1M115 108h2M119 108h1M123 108h3M140 108h1M143 108h1M149 108h3M154 108h1M158 108h1M171 108h1M209 108h1M66 109h1M68 109h1M121 109h1M146 109h1M158 109h3M164 109h1M210 109h1M63 110h2M67 110h1M94 110h1M106 110h1M116 110h1M126 110h2M146 110h1M156 110h2M160 110h2M163 110h1M173 110h1M192 110h1M35 111h1M61 111h1M64 111h1M67 111h1M100 111h1M108 111h1M110 111h1M112 111h1M121 111h1M123 111h1M126 111h1M142 111h1M159 111h1M169 111h1M173 111h2M187 111h1M35 112h1M65 112h1M67 112h1M114 112h1M159 112h3M210 112h1M67 113h1M116 113h1M143 113h2M158 113h1M160 113h1M173 113h1M191 113h1M194 113h1M204 113h1M64 114h3M68 114h1M114 114h1M116 114h1M145 114h1M158 114h1M160 114h2M192 114h2M209 114h2M31 115h1M35 115h1M158 115h2M172 115h1M192 115h3M205 115h1M21 116h1M24 116h1M35 116h1M67 116h2M116 116h1M161 116h1M193 116h1M203 116h1M210 116h1M0 117h1M28 117h1M34 117h1M65 117h1M67 117h1M69 117h2M161 117h1M192 117h2M204 117h1M210 117h1M10 118h1M34 118h1M65 118h1M191 118h3M199 118h1M204 118h1M209 118h1M17 119h1M21 119h1M27 119h1M47 119h1M66 119h1M172 119h1M193 119h1M199 119h2M204 119h2M210 119h1M13 120h1M21 120h1M193 120h2M200 120h1M210 120h1M13 121h1M69 121h2M188 121h1M191 121h1M200 121h2M203 121h1M206 121h1M210 121h1M13 122h1M25 122h1M192 122h1M198 122h1M205 122h1M208 122h1M4 123h1M25 123h1M34 123h1M191 123h1M194 123h1M198 123h1M202 123h1M208 123h1M5 124h1M8 124h1M10 124h1M12 124h1M15 124h1M17 124h2M20 124h1M23 124h1M25 124h1M27 124h1M31 124h1M34 124h1M192 124h1M196 124h1M200 124h2M203 124h2M206 124h1M5 125h1M10 125h1M12 125h1M16 125h1M20 125h1M25 125h3M34 125h1M40 125h1M52 125h1M64 125h2M67 125h1M70 125h1M122 125h1M168 125h1M172 125h1M175 125h1M178 125h1M187 125h1M196 125h2M202 125h2M205 125h1M31 126h1M33 126h1"/>
<path stroke="#67cc5c" d="M70 28h1M152 30h1M152 31h2M154 32h1M69 33h2M149 33h1M154 33h1M70 34h1M138 34h1M148 35h1M55 36h1M151 36h2M136 37h1M147 37h1M152 37h1M131 38h1M47 39h1M103 39h2M154 39h1M47 40h1M49 40h1M91 40h1M104 40h1M133 40h1M155 40h1M46 41h2M87 41h1M129 41h1M133 41h1M49 42h1M46 43h1M56 43h2M131 43h1M152 43h1M45 44h3M56 44h1M60 44h1M90 44h2M103 44h1M130 44h1M40 45h1M42 45h2M45 45h1M48 45h1M87 45h1M91 45h1M137 45h2M132 46h1M40 47h3M45 47h1M88 47h1M131 47h1M37 48h1M41 48h1M43 48h1M47 48h1M57 48h1M85 48h1M89 48h3M135 48h1M37 49h1M43 49h3M48 49h1M55 49h2M58 49h1M91 49h1M46 50h1M48 50h1M55 50h1M59 50h1M88 50h1M91 50h2M146 50h1M41 51h1M49 51h1M55 51h1M58 51h3M88 51h1M132 51h1M137 51h1M39 52h1M43 52h1M47 52h1M56 52h1M85 52h1M90 52h1M131 52h1M136 52h1M155 52h1M37 53h1M44 53h1M46 53h1M60 53h1M86 53h1M91 53h1M37 54h1M45 54h2M155 54h1M37 55h1M45 55h3M57 55h2M82 55h1M108 55h2M129 55h1M151 55h3M42 56h1M44 56h2M56 56h1M59 56h1M112 56h1M153 56h1M41 57h1M43 57h3M48 57h1M56 57h1M58 57h1M84 57h3M131 57h1M150 57h1M38 58h3M44 58h2M47 58h1M74 58h1M86 58h1M130 58h1M148 58h1M37 59h2M40 59h1M44 59h1M77 59h1M130 59h1M133 59h2M155 59h1M38 60h1M44 60h1M81 60h1M83 60h1M133 60h1M46 61h1M69 61h1M82 61h2M85 61h1M91 61h1M137 61h1M41 62h2M44 62h1M46 62h2M55 62h1M59 62h2M70 62h1M85 62h1M87 62h1M131 62h1M153 62h1M37 63h3M42 63h1M57 63h1M74 63h2M77 63h1M85 63h1M102 63h1M104 63h1M130 63h1M135 63h1M37 64h1M43 64h1M55 64h1M78 64h1M80 64h1M89 64h1M102 64h1M104 64h1M133 64h1M154 64h1M37 65h2M43 65h2M56 65h3M78 65h3M123 65h1M39 66h1M42 66h1M47 66h1M55 66h1M58 66h3M83 66h2M90 66h1M118 66h1M125 66h1M132 66h1M138 66h1M38 67h1M43 67h1M46 67h1M48 67h1M55 67h1M57 67h3M70 67h2M73 67h2M76 67h2M86 67h3M130 67h1M135 67h1M171 67h1M183 67h1M37 68h1M41 68h2M48 68h2M55 68h1M58 68h1M72 68h1M74 68h2M78 68h1M80 68h1M86 68h2M129 68h1M38 69h2M43 69h1M45 69h1M47 69h2M74 69h1M76 69h1M78 69h1M82 69h2M89 69h1M133 69h1M135 69h1M137 69h1M43 70h2M47 70h1M79 70h1M81 70h4M86 70h1M90 70h2M117 70h1M119 70h1M121 70h1M123 70h1M125 70h1M127 70h1M132 70h2M137 70h1M175 70h1M38 71h4M43 71h1M46 71h1M59 71h1M71 71h1M75 71h1M85 71h1M102 71h1M117 71h2M120 71h2M123 71h2M126 71h1M128 71h1M132 71h2M175 71h1M37 72h1M46 72h1M72 72h4M78 72h2M90 72h1M102 72h1M125 72h1M129 72h1M131 72h1M155 72h1M40 73h2M49 73h1M58 73h1M72 73h1M75 73h1M83 73h2M129 73h1M133 73h1M138 73h1M154 73h1M162 73h3M177 73h1M41 74h2M45 74h1M59 74h1M75 74h1M80 74h1M86 74h1M88 74h1M129 74h2M138 74h2M155 74h2M163 74h1M42 75h1M74 75h1M76 75h1M78 75h1M81 75h2M87 75h1M91 75h2M117 75h1M130 75h2M134 75h1M153 75h1M156 75h1M162 75h1M164 75h2M169 75h1M179 75h1M181 75h1M185 75h1M38 76h1M41 76h2M47 76h1M57 76h1M74 76h3M78 76h1M91 76h1M103 76h1M129 76h1M132 76h1M134 76h2M139 76h1M156 76h1M166 76h1M175 76h1M181 76h1M186 76h1M39 77h2M42 77h1M44 77h1M46 77h1M81 77h1M86 77h1M92 77h1M102 77h2M129 77h1M133 77h2M163 77h3M187 77h1M37 78h1M39 78h3M43 78h1M46 78h1M55 78h1M60 78h1M83 78h1M88 78h1M92 78h1M130 78h1M132 78h1M156 78h1M175 78h1M184 78h1M187 78h1M39 79h1M57 79h2M60 79h1M75 79h2M80 79h3M88 79h1M91 79h1M130 79h2M155 79h2M176 79h1M178 79h1M182 79h1M184 79h1M40 80h2M43 80h1M45 80h1M74 80h1M78 80h2M90 80h1M92 80h1M110 80h1M117 80h1M120 80h1M177 80h2M180 80h1M184 80h1M189 80h1M39 81h1M42 81h1M45 81h1M47 81h3M56 81h1M59 81h1M71 81h1M78 81h1M80 81h1M103 81h2M153 81h1M156 81h1M164 81h1M181 81h1M189 81h1M37 82h1M39 82h2M43 82h1M49 82h1M80 82h1M84 82h1M102 82h1M104 82h1M134 82h1M139 82h1M156 82h1M179 82h1M181 82h1M185 82h1M194 82h1M38 83h3M47 83h1M56 83h1M93 83h1M97 83h1M102 83h2M144 83h1M156 83h1M176 83h1M187 83h2M48 84h1M55 84h1M57 84h1M59 84h1M75 84h3M80 84h1M97 84h1M102 84h2M139 84h1M156 84h1M175 84h3M183 84h1M187 84h1M46 85h2M57 85h1M59 85h2M78 85h1M83 85h1M104 85h1M139 85h1M166 85h1M176 85h1M178 85h2M40 86h1M46 86h2M60 86h1M96 86h2M139 86h1M154 86h1M156 86h1M168 86h2M171 86h1M180 86h1M184 86h1M186 86h1M188 86h1M37 87h2M42 87h1M57 87h1M83 87h2M96 87h2M103 87h1M139 87h1M148 87h1M163 87h1M166 87h1M170 87h1M172 87h1M182 87h1M185 87h1M190 87h1M37 88h1M44 88h1M56 88h1M58 88h1M60 88h1M72 88h1M76 88h1M79 88h2M94 88h2M148 88h1M156 88h1M163 88h1M170 88h1M172 88h1M175 88h1M178 88h1M184 88h3M188 88h3M60 89h1M74 89h1M80 89h1M82 89h1M94 89h1M96 89h1M100 89h1M146 89h2M164 89h1M166 89h1M170 89h1M172 89h1M177 89h1M47 90h1M50 90h1M52 90h1M56 90h2M59 90h2M69 90h4M75 90h3M79 90h5M97 90h2M109 90h1M112 90h1M136 90h1M146 90h1M155 90h2M168 90h2M179 90h1M181 90h1M187 90h1M190 90h1M52 91h1M55 91h1M58 91h2M71 91h1M80 91h1M83 91h1M85 91h1M94 91h1M98 91h1M139 91h1M155 91h2M168 91h2M182 91h1M187 91h1M51 92h1M60 92h1M73 92h1M75 92h1M78 92h1M89 92h1M94 92h1M103 92h1M145 92h1M149 92h1M151 92h1M156 92h1M163 92h1M166 92h1M168 92h2M182 92h1M184 92h1M186 92h1M51 93h1M74 93h1M77 93h1M79 93h2M89 93h1M94 93h1M97 93h1M102 93h1M108 93h1M139 93h1M145 93h1M152 93h2M166 93h3M175 93h1M45 94h1M54 94h1M57 94h1M73 94h2M76 94h3M81 94h2M86 94h1M94 94h2M98 94h1M103 94h1M106 94h3M112 94h1M137 94h1M140 94h1M142 94h1M145 94h1M149 94h1M155 94h1M162 94h1M175 94h1M186 94h1M189 94h1M55 95h2M58 95h2M69 95h1M71 95h1M77 95h1M80 95h4M95 95h1M98 95h1M101 95h4M109 95h1M121 95h1M125 95h1M141 95h1M146 95h1M162 95h1M175 95h1M178 95h1M186 95h1M188 95h1M36 96h1M50 96h1M55 96h1M60 96h1M71 96h2M85 96h1M101 96h1M108 96h1M111 96h2M140 96h2M144 96h1M168 96h1M186 96h1M36 97h1M57 97h2M60 97h1M73 97h3M80 97h1M95 97h2M101 97h1M103 97h1M111 97h1M139 97h2M145 97h1M153 97h2M163 97h2M169 97h1M188 97h1M55 98h2M59 98h2M73 98h1M76 98h1M99 98h3M111 98h1M113 98h1M142 98h1M162 98h1M165 98h1M169 98h2M176 98h1M189 98h2M58 99h1M60 99h1M76 99h3M81 99h1M84 99h1M96 99h2M99 99h1M102 99h2M107 99h1M112 99h2M119 99h1M125 99h1M127 99h2M139 99h1M142 99h4M152 99h1M163 99h1M165 99h1M167 99h3M175 99h1M36 100h1M57 100h2M68 100h1M71 100h1M78 100h1M84 100h1M95 100h2M98 100h2M107 100h2M119 100h4M124 100h1M127 100h1M139 100h1M144 100h1M148 100h2M153 100h1M165 100h3M58 101h1M63 101h1M94 101h2M97 101h1M100 101h2M109 101h3M141 101h2M145 101h1M174 101h1M188 101h2M61 102h1M63 102h1M77 102h1M93 102h4M98 102h1M100 102h2M104 102h1M112 102h2M128 102h1M141 102h1M145 102h1M151 102h1M166 102h1M188 102h3M194 102h1M61 103h3M72 103h1M79 103h2M82 103h1M95 103h4M105 103h2M120 103h1M124 103h1M145 103h1M162 103h1M164 103h1M61 104h1M63 104h1M69 104h1M76 104h1M78 104h1M81 104h2M84 104h1M95 104h1M98 104h1M100 104h1M105 104h3M118 104h3M122 104h2M126 104h1M128 104h1M140 104h1M165 104h2M170 104h1M176 104h1M41 105h1M61 105h1M69 105h3M76 105h1M98 105h1M100 105h1M102 105h1M104 105h1M106 105h2M109 105h1M112 105h1M121 105h1M124 105h1M126 105h1M128 105h1M140 105h1M144 105h3M165 105h1M167 105h1M169 105h2M61 106h1M93 106h1M95 106h1M99 106h1M101 106h1M104 106h1M106 106h1M112 106h1M141 106h1M144 106h1M150 106h1M156 106h1M166 106h2M176 106h1M64 107h2M74 107h1M82 107h1M84 107h1M94 107h1M105 107h2M108 107h1M112 107h1M128 107h1M141 107h2M148 107h2M156 107h1M167 107h2M170 107h1M175 107h2M63 108h1M65 108h1M74 108h1M78 108h1M81 108h1M85 108h1M94 108h1M100 108h1M110 108h1M112 108h1M117 108h1M120 108h2M126 108h2M142 108h1M145 108h2M153 108h1M155 108h2M161 108h2M168 108h3M174 108h2M194 108h1M210 108h1M61 109h2M64 109h1M69 109h2M81 109h1M83 109h2M94 109h1M101 109h1M106 109h1M118 109h1M120 109h1M125 109h1M127 109h1M140 109h1M142 109h1M145 109h1M147 109h2M156 109h1M161 109h1M165 109h1M167 109h1M169 109h3M174 109h1M35 110h1M61 110h1M66 110h1M68 110h2M117 110h1M119 110h3M141 110h4M164 110h1M167 110h1M169 110h4M174 110h1M191 110h1M209 110h1M62 111h1M66 111h1M71 111h1M94 111h1M98 111h1M109 111h1M111 111h1M115 111h1M118 111h2M122 111h1M127 111h1M140 111h2M157 111h2M161 111h1M170 111h2M175 111h1M191 111h1M209 111h2M61 112h1M64 112h1M66 112h1M106 112h1M115 112h5M121 112h3M143 112h1M156 112h1M167 112h1M170 112h1M172 112h1M176 112h1M189 112h1M35 113h1M62 113h1M65 113h2M69 113h1M152 113h2M161 113h1M167 113h1M210 113h1M35 114h1M67 114h1M115 114h1M140 114h1M143 114h1M146 114h2M153 114h1M157 114h1M169 114h1M182 114h1M191 114h1M66 115h4M116 115h1M140 115h1M143 115h1M146 115h1M157 115h1M160 115h2M184 115h1M187 115h1M210 115h1M64 116h1M70 116h2M122 116h1M144 116h1M157 116h1M159 116h2M192 116h1M194 116h1M209 116h1M94 117h1M143 117h1M35 118h1M55 118h1M60 118h1M62 118h1M64 118h1M66 118h1M70 118h1M115 118h1M210 118h1M34 119h1M64 119h2M142 119h1M168 119h1M192 119h1M209 119h1M34 120h1M64 120h2M168 120h1M185 120h2M34 121h2M71 121h1M187 121h1M189 121h1M193 121h2M198 121h1M34 122h2M69 122h1M160 122h1M170 122h1M190 122h1M193 122h2M192 123h1M205 123h1M209 123h2M26 124h1M35 124h1M62 124h1M67 124h1M193 124h1M202 124h1M210 124h1M31 125h1M35 125h1M42 125h1M44 125h1M46 125h1M48 125h1M56 125h2M59 125h2M62 125h1M68 125h2M71 125h1M101 125h1M119 125h1M136 125h1M138 125h1M146 125h1M159 125h3M170 125h2M180 125h1M183 125h1M185 125h1M188 125h2M191 125h1M193 125h1M209 125h2"/>
<path stroke="#77d153" d="M49 41h1M155 41h1M46 42h1M48 43h1M40 46h1M42 46h1M45 46h1M87 46h2M47 47h1M89 47h1M49 48h1M49 49h1M43 50h1M45 50h1M58 50h1M87 50h1M43 51h1M48 52h1M38 53h1M45 53h1M49 53h1M155 53h1M38 54h2M44 54h1M49 54h1M49 55h1M55 55h1M49 56h1M55 56h1M57 56h2M150 56h1M42 57h1M49 57h1M55 57h1M48 58h1M59 58h2M155 58h1M47 59h1M47 60h1M44 61h1M47 61h1M154 61h1M39 62h1M49 62h1M56 62h2M73 62h1M91 62h1M45 63h1M49 63h1M55 63h2M58 63h3M76 63h1M38 64h1M48 64h2M56 64h1M58 64h1M76 64h1M79 64h1M82 64h1M49 65h1M59 65h2M81 65h4M90 65h1M155 65h1M43 66h1M48 66h1M131 66h1M137 66h1M40 67h2M60 67h1M131 67h1M136 67h3M154 67h1M43 68h1M46 68h1M56 68h1M59 68h2M73 68h1M76 68h1M88 68h1M102 68h1M104 68h1M134 68h2M137 68h2M37 69h1M44 69h1M60 69h1M80 69h1M90 69h1M103 69h2M136 69h1M138 69h1M155 69h1M37 70h1M40 70h2M59 70h1M102 70h2M124 70h1M126 70h1M134 70h1M136 70h1M138 70h1M37 71h1M42 71h1M47 71h1M56 71h1M87 71h1M103 71h1M125 71h1M127 71h1M137 71h1M39 72h5M49 72h1M76 72h1M86 72h2M103 72h2M135 72h1M37 73h1M42 73h1M46 73h1M55 73h2M60 73h1M73 73h1M81 73h2M89 73h1M91 73h1M102 73h1M130 73h1M134 73h1M38 74h1M46 74h1M57 74h1M60 74h1M76 74h1M78 74h2M82 74h1M85 74h1M90 74h3M102 74h1M132 74h1M136 74h2M153 74h1M162 74h1M164 74h1M38 75h1M40 75h2M43 75h3M57 75h1M83 75h3M88 75h1M104 75h1M121 75h1M135 75h1M139 75h1M37 76h1M40 76h1M43 76h1M49 76h1M56 76h1M71 76h3M84 76h1M86 76h1M133 76h1M154 76h1M165 76h1M37 77h1M41 77h1M43 77h1M48 77h1M56 77h2M72 77h1M74 77h3M78 77h1M84 77h1M91 77h1M135 77h1M156 77h1M162 77h1M42 78h1M44 78h1M56 78h1M58 78h1M73 78h2M79 78h2M84 78h1M131 78h1M134 78h1M176 78h2M37 79h1M40 79h1M42 79h3M47 79h1M77 79h2M83 79h3M89 79h2M92 79h1M138 79h1M154 79h1M177 79h1M188 79h1M39 80h1M42 80h1M44 80h1M47 80h1M49 80h1M57 80h1M83 80h2M103 80h2M129 80h1M131 80h1M135 80h2M153 80h1M166 80h1M179 80h1M38 81h1M72 81h2M91 81h2M129 81h1M139 81h1M163 81h1M165 81h1M179 81h1M185 81h2M190 81h1M55 82h2M58 82h3M72 82h1M83 82h1M86 82h1M133 82h1M135 82h1M154 82h2M162 82h4M190 82h1M37 83h1M41 83h1M44 83h1M49 83h1M55 83h1M57 83h2M60 83h1M73 83h2M78 83h3M87 83h1M104 83h1M155 83h1M162 83h1M164 83h2M181 83h1M38 84h3M42 84h2M46 84h1M58 84h1M73 84h2M81 84h1M83 84h1M91 84h1M165 84h2M37 85h1M40 85h2M43 85h2M75 85h3M92 85h1M135 85h1M156 85h1M177 85h1M188 85h3M37 86h1M39 86h1M42 86h4M71 86h1M79 86h1M82 86h1M84 86h1M134 86h1M155 86h1M162 86h1M165 86h2M177 86h3M189 86h1M40 87h2M43 87h4M49 87h1M80 87h2M85 87h1M134 87h1M154 87h1M156 87h1M162 87h1M178 87h1M180 87h1M187 87h1M38 88h1M41 88h1M48 88h2M55 88h1M57 88h1M77 88h2M102 88h3M147 88h1M164 88h3M180 88h1M38 89h1M44 89h1M47 89h1M49 89h1M56 89h1M58 89h2M81 89h1M83 89h2M92 89h1M102 89h1M104 89h1M155 89h1M174 89h1M181 89h1M184 89h1M187 89h1M189 89h1M49 90h1M55 90h1M58 90h1M85 90h1M135 90h1M138 90h1M170 90h1M174 90h3M183 90h3M188 90h1M46 91h1M50 91h1M60 91h1M76 91h1M79 91h1M82 91h1M136 91h1M138 91h1M162 91h1M165 91h1M175 91h2M183 91h2M186 91h1M189 91h2M41 92h1M45 92h1M47 92h1M50 92h1M80 92h1M85 92h1M87 92h1M91 92h1M135 92h1M139 92h1M152 92h2M155 92h1M162 92h1M165 92h1M175 92h1M181 92h1M42 93h1M46 93h1M50 93h1M78 93h1M82 93h2M91 93h2M103 93h2M148 93h2M155 93h1M162 93h1M177 93h1M184 93h1M186 93h1M39 94h2M44 94h1M50 94h1M53 94h1M85 94h1M104 94h1M110 94h2M148 94h1M164 94h1M166 94h1M178 94h1M50 95h1M54 95h1M57 95h1M72 95h1M75 95h2M92 95h2M108 95h1M110 95h1M112 95h2M136 95h3M147 95h1M166 95h1M179 95h2M185 95h1M52 96h1M74 96h1M82 96h3M94 96h2M135 96h1M166 96h1M176 96h1M189 96h1M50 97h1M54 97h2M59 97h1M77 97h3M81 97h2M92 97h1M94 97h1M151 97h2M162 97h1M166 97h1M186 97h1M190 97h1M41 98h1M46 98h1M50 98h2M58 98h1M82 98h2M94 98h1M102 98h2M108 98h1M110 98h1M148 98h2M166 98h1M175 98h1M184 98h4M51 99h1M75 99h1M82 99h1M85 99h1M93 99h2M100 99h1M104 99h1M106 99h1M150 99h2M155 99h1M162 99h1M184 99h1M186 99h2M190 99h1M51 100h1M55 100h2M79 100h4M85 100h1M94 100h1M100 100h1M109 100h1M112 100h2M145 100h2M162 100h2M186 100h1M36 101h1M57 101h1M72 101h1M80 101h1M93 101h1M99 101h1M112 101h2M139 101h1M146 101h2M162 101h2M166 101h1M175 101h2M185 101h1M72 102h1M76 102h1M78 102h1M80 102h1M97 102h1M99 102h1M162 102h4M174 102h1M36 103h1M55 103h1M74 103h2M81 103h1M94 103h1M99 103h2M102 103h1M110 103h2M113 103h1M128 103h1M152 103h2M174 103h1M189 103h2M37 104h1M56 104h1M62 104h1M79 104h2M83 104h1M85 104h1M94 104h1M97 104h1M104 104h1M111 104h3M124 104h1M139 104h1M148 104h3M185 104h1M62 105h1M84 105h1M93 105h4M99 105h1M103 105h1M110 105h1M113 105h1M122 105h1M153 105h1M163 105h2M185 105h3M62 106h2M84 106h1M94 106h1M96 106h1M98 106h1M103 106h1M113 106h1M147 106h1M149 106h1M154 106h2M169 106h1M187 106h3M62 107h2M76 107h5M83 107h1M96 107h1M98 107h4M103 107h2M146 107h2M162 107h1M166 107h1M169 107h1M189 107h2M61 108h2M64 108h1M72 108h2M76 108h2M79 108h2M95 108h1M99 108h1M106 108h1M108 108h2M113 108h1M128 108h1M141 108h1M163 108h5M63 109h1M71 109h1M82 109h1M93 109h1M96 109h1M99 109h2M109 109h1M117 109h1M122 109h1M124 109h1M126 109h1M141 109h1M149 109h2M154 109h2M162 109h1M166 109h1M168 109h1M175 109h1M62 110h1M93 110h1M99 110h1M101 110h1M105 110h1M109 110h1M111 110h2M118 110h1M124 110h1M128 110h1M140 110h1M145 110h1M166 110h1M168 110h1M175 110h1M63 111h1M101 111h1M104 111h2M107 111h1M124 111h2M143 111h1M145 111h1M166 111h3M172 111h1M176 111h1M189 111h1M60 112h1M62 112h1M74 112h1M76 112h2M97 112h2M100 112h1M105 112h1M108 112h1M124 112h2M127 112h1M140 112h3M158 112h1M169 112h1M171 112h1M190 112h1M209 112h1M44 113h1M71 113h1M99 113h1M115 113h1M120 113h1M140 113h2M145 113h1M150 113h2M154 113h1M156 113h1M168 113h5M174 113h3M209 113h1M61 114h2M69 114h1M93 114h1M98 114h2M117 114h1M141 114h2M144 114h1M148 114h2M155 114h2M163 114h1M167 114h1M171 114h1M173 114h1M61 115h1M65 115h1M97 115h2M114 115h2M117 115h1M141 115h2M144 115h1M163 115h1M167 115h1M171 115h1M191 115h1M209 115h1M63 116h1M65 116h2M101 116h1M127 116h1M136 116h1M140 116h1M142 116h2M145 116h1M156 116h1M158 116h1M167 116h1M171 116h1M187 116h2M35 117h1M48 117h1M66 117h1M71 117h1M86 117h1M115 117h2M142 117h1M144 117h1M157 117h1M159 117h2M170 117h1M190 117h1M36 118h1M47 118h2M56 118h2M59 118h1M67 118h1M93 118h1M143 118h1M156 118h1M158 118h1M161 118h1M167 118h2M172 118h1M175 118h1M55 119h1M57 119h2M60 119h2M67 119h2M94 119h1M149 119h1M151 119h2M167 119h1M169 119h1M171 119h1M174 119h1M176 119h1M191 119h1M40 120h1M68 120h3M158 120h1M161 120h1M209 120h1M68 121h1M94 121h1M117 121h1M157 121h1M160 121h2M170 121h1M172 121h1M185 121h1M209 121h1M68 122h1M71 122h1M82 122h1M89 122h1M187 122h2M209 122h1M35 123h1M70 123h1M167 123h1M171 123h1M68 124h1M159 124h1M168 124h1M172 124h1M191 124h1M209 124h1M36 125h1M38 125h2M41 125h1M43 125h1M45 125h1M49 125h2M55 125h1M58 125h1M61 125h1M63 125h1M66 125h1M72 125h1M74 125h1M79 125h1M81 125h1M83 125h1M94 125h1M97 125h1M100 125h1M104 125h1M116 125h1M118 125h1M124 125h1M130 125h1M133 125h1M135 125h1M137 125h1M139 125h1M141 125h1M148 125h11M163 125h1M167 125h1M169 125h1M174 125h1M176 125h2M179 125h1M181 125h1M184 125h1M190 125h1"/>
<path stroke="#89d548" d="M48 44h1M47 45h1M47 46h1M46 49h1M87 49h1M49 50h1M45 51h1M48 51h1M45 52h1M39 53h1M47 53h1M47 54h1M37 58h1M154 62h1M73 63h1M154 63h1M45 64h1M59 64h2M45 65h1M44 66h1M155 66h1M44 67h1M47 67h1M40 68h1M44 68h1M47 68h1M136 68h1M40 69h1M46 69h1M49 69h1M55 69h2M58 69h2M102 69h1M129 69h1M45 70h2M48 70h1M56 70h1M60 70h1M154 70h1M44 71h2M57 71h1M86 71h1M138 71h1M44 72h2M47 72h1M55 72h3M59 72h1M88 72h1M130 72h1M39 73h1M43 73h1M48 73h1M57 73h1M76 73h1M78 73h2M88 73h1M90 73h1M103 73h2M137 73h1M37 74h1M39 74h1M43 74h2M56 74h1M58 74h1M81 74h1M83 74h2M103 74h1M133 74h2M37 75h1M39 75h1M47 75h1M56 75h1M58 75h2M86 75h1M132 75h2M136 75h2M39 76h1M45 76h1M58 76h2M87 76h1M89 76h1M130 76h1M45 77h1M55 77h1M58 77h2M73 77h1M77 77h1M87 77h1M90 77h1M131 77h1M136 77h1M45 78h1M48 78h1M75 78h4M81 78h2M89 78h1M91 78h1M103 78h2M133 78h1M138 78h1M155 78h1M162 78h2M165 78h2M38 79h1M41 79h1M49 79h1M79 79h1M86 79h1M103 79h2M129 79h1M132 79h1M137 79h1M166 79h1M37 80h1M48 80h1M88 80h2M130 80h1M134 80h1M138 80h1M154 80h2M162 80h2M37 81h1M46 81h1M57 81h1M74 81h1M76 81h2M86 81h1M89 81h2M133 81h1M162 81h1M166 81h1M45 82h1M57 82h1M74 82h2M78 82h2M81 82h1M89 82h1M92 82h1M132 82h1M166 82h1M43 83h1M46 83h1M59 83h1M75 83h3M83 83h1M85 83h1M88 83h2M91 83h1M131 83h2M163 83h1M166 83h1M41 84h1M44 84h2M49 84h1M60 84h1M82 84h1M90 84h1M104 84h1M132 84h1M137 84h2M163 84h2M188 84h1M38 85h2M45 85h1M48 85h1M72 85h1M74 85h1M84 85h2M137 85h1M163 85h1M165 85h1M185 85h1M38 86h1M41 86h1M49 86h1M76 86h3M92 86h1M135 86h1M190 86h1M39 87h1M72 87h3M76 87h2M79 87h1M82 87h1M86 87h1M88 87h1M132 87h2M155 87h1M164 87h1M179 87h1M186 87h1M39 88h2M42 88h2M45 88h1M81 88h2M84 88h1M89 88h1M162 88h1M182 88h1M187 88h1M37 89h1M39 89h3M43 89h1M48 89h1M55 89h1M57 89h1M129 89h1M136 89h3M162 89h2M165 89h1M175 89h1M182 89h2M188 89h1M37 90h2M40 90h3M45 90h1M48 90h1M73 90h2M92 90h1M137 90h1M163 90h3M182 90h1M41 91h1M43 91h1M48 91h2M72 91h1M74 91h2M81 91h1M86 91h2M91 91h1M137 91h1M163 91h2M178 91h2M38 92h1M42 92h2M48 92h1M74 92h1M76 92h1M79 92h1M81 92h1M83 92h2M86 92h1M88 92h1M90 92h1M154 92h1M180 92h1M185 92h1M187 92h1M37 93h5M43 93h2M81 93h1M84 93h2M90 93h1M130 93h2M137 93h2M154 93h1M178 93h1M183 93h1M187 93h2M37 94h2M92 94h1M102 94h1M136 94h1M147 94h1M177 94h1M179 94h1M181 94h1M184 94h1M188 94h1M39 95h1M44 95h1M49 95h1M51 95h1M73 95h2M86 95h1M135 95h1M163 95h3M177 95h1M190 95h1M48 96h2M51 96h1M53 96h2M56 96h1M58 96h2M75 96h7M86 96h3M136 96h1M162 96h4M179 96h1M181 96h2M185 96h1M41 97h1M46 97h1M48 97h1M51 97h3M56 97h1M85 97h1M90 97h1M135 97h1M176 97h1M180 97h3M185 97h1M38 98h2M42 98h2M47 98h1M53 98h2M84 98h2M92 98h1M151 98h2M188 98h1M42 99h2M54 99h1M73 99h1M108 99h3M138 99h1M147 99h3M189 99h1M73 100h1M77 100h1M93 100h1M110 100h1M155 100h1M164 100h1M188 100h3M43 101h1M51 101h1M56 101h1M59 101h2M73 101h1M77 101h1M79 101h1M81 101h1M164 101h2M186 101h1M36 102h1M56 102h1M74 102h1M79 102h1M81 102h1M175 102h2M180 102h1M187 102h1M49 103h1M54 103h1M84 103h2M93 103h1M103 103h1M151 103h1M154 103h1M188 103h1M41 104h2M72 104h4M77 104h1M99 104h1M102 104h2M108 104h3M155 104h1M175 104h1M186 104h2M37 105h2M55 105h4M74 105h1M79 105h1M97 105h1M108 105h1M111 105h1M147 105h2M151 105h2M57 106h1M59 106h2M73 106h1M75 106h2M79 106h1M92 106h1M97 106h1M100 106h1M139 106h1M162 106h1M164 106h2M186 106h1M44 107h1M72 107h2M81 107h1M85 107h1M93 107h1M95 107h1M97 107h1M163 107h3M188 107h1M36 108h1M44 108h1M97 108h1M102 108h1M104 108h1M107 108h1M111 108h1M176 108h1M190 108h1M36 109h2M79 109h1M85 109h2M95 109h1M97 109h2M110 109h4M123 109h1M128 109h1M139 109h1M153 109h1M184 109h1M36 110h2M39 110h1M41 110h1M43 110h1M47 110h1M49 110h1M70 110h1M72 110h1M82 110h1M96 110h1M98 110h1M100 110h1M102 110h2M107 110h2M110 110h1M113 110h1M122 110h2M125 110h1M139 110h1M162 110h1M165 110h1M185 110h1M187 110h1M36 111h1M43 111h1M47 111h2M50 111h1M72 111h1M93 111h1M96 111h1M99 111h1M102 111h2M113 111h1M128 111h1M146 111h1M163 111h1M186 111h1M188 111h1M190 111h1M36 112h1M43 112h1M47 112h1M57 112h3M63 112h1M72 112h1M82 112h1M94 112h1M99 112h1M101 112h1M107 112h1M110 112h4M126 112h1M128 112h1M145 112h1M150 112h1M152 112h1M154 112h1M166 112h1M168 112h1M36 113h1M58 113h1M60 113h1M63 113h1M79 113h1M81 113h1M83 113h1M94 113h1M96 113h3M101 113h1M118 113h2M121 113h1M142 113h1M148 113h2M155 113h1M36 114h1M70 114h1M94 114h1M96 114h2M101 114h1M118 114h1M120 114h1M150 114h3M154 114h1M164 114h1M170 114h1M184 114h1M51 115h1M54 115h1M62 115h2M70 115h1M92 115h2M101 115h1M126 115h1M149 115h1M156 115h1M164 115h1M169 115h2M173 115h1M182 115h1M185 115h2M61 116h2M94 116h1M97 116h2M112 116h1M114 116h2M117 116h1M119 116h2M124 116h2M138 116h1M141 116h1M170 116h1M172 116h1M185 116h2M190 116h1M36 117h1M56 117h1M61 117h4M101 117h1M114 117h1M127 117h1M140 117h2M158 117h1M167 117h1M169 117h1M171 117h1M173 117h1M188 117h2M49 118h1M61 118h1M63 118h1M68 118h1M71 118h1M94 118h1M96 118h1M100 118h1M114 118h1M140 118h1M142 118h1M144 118h1M157 118h1M159 118h2M169 118h3M174 118h1M44 119h3M48 119h1M56 119h1M59 119h1M62 119h2M69 119h1M93 119h1M98 119h1M101 119h1M114 119h2M140 119h1M144 119h1M148 119h1M153 119h2M157 119h2M160 119h2M170 119h1M175 119h1M181 119h1M66 120h2M94 120h1M147 120h2M157 120h1M159 120h2M167 120h1M169 120h2M174 120h1M179 120h1M181 120h2M187 120h2M36 121h1M64 121h1M80 121h1M82 121h1M100 121h1M127 121h1M158 121h2M165 121h1M167 121h3M183 121h2M186 121h1M190 121h1M36 122h1M77 122h1M84 122h1M87 122h2M90 122h1M92 122h2M159 122h1M161 122h1M167 122h3M171 122h2M189 122h1M36 123h1M65 123h1M67 123h1M69 123h1M71 123h1M90 123h1M159 123h2M168 123h3M172 123h1M47 124h1M64 124h3M169 124h1M171 124h1M186 124h1M37 125h1M53 125h1M75 125h1M77 125h2M80 125h1M82 125h1M84 125h1M88 125h1M90 125h1M92 125h2M95 125h2M98 125h2M102 125h2M106 125h5M112 125h4M117 125h1M120 125h1M123 125h1M126 125h4M131 125h2M134 125h1M140 125h1M142 125h2M145 125h1M147 125h1M162 125h1M164 125h2M173 125h1M182 125h1"/>
<path stroke="#98d83e" d="M57 68h1M154 68h1M57 69h1M134 69h1M154 69h1M49 70h1M55 70h1M57 70h1M155 70h1M48 71h2M55 71h1M58 71h1M60 71h1M136 71h1M155 71h1M48 72h1M60 72h1M138 72h1M44 73h1M47 73h1M135 73h1M40 74h1M47 74h1M55 74h1M104 74h1M135 74h1M154 74h1M46 75h1M55 75h1M60 75h1M138 75h1M154 75h2M46 76h1M55 76h1M60 76h1M88 76h1M136 76h1M49 77h1M60 77h1M88 77h2M130 77h1M155 77h1M166 77h1M49 78h1M90 78h1M129 78h1M135 78h1M164 78h1M48 79h1M133 79h4M162 79h1M165 79h1M38 80h1M87 80h1M133 80h1M137 80h1M164 80h2M87 81h1M136 81h1M154 81h2M46 82h1M73 82h1M76 82h2M88 82h1M90 82h2M131 82h1M45 83h1M81 83h2M84 83h1M86 83h1M90 83h1M92 83h1M130 83h1M133 83h3M138 83h1M84 84h2M87 84h1M89 84h1M92 84h1M129 84h3M135 84h2M162 84h1M49 85h1M73 85h1M91 85h1M132 85h1M134 85h1M136 85h1M138 85h1M162 85h1M164 85h1M72 86h1M74 86h2M86 86h2M138 86h1M164 86h1M185 86h1M48 87h1M75 87h1M78 87h1M87 87h1M89 87h1M136 87h1M138 87h1M46 88h1M83 88h1M88 88h1M90 88h3M129 88h1M131 88h1M137 88h2M155 88h1M42 89h1M45 89h1M85 89h1M90 89h2M39 90h1M43 90h2M177 90h1M189 90h1M37 91h4M42 91h1M73 91h1M77 91h1M88 91h2M134 91h1M185 91h1M37 92h1M39 92h2M44 92h1M77 92h1M82 92h1M92 92h1M131 92h4M136 92h3M177 92h3M48 93h1M86 93h1M132 93h1M134 93h1M136 93h1M179 93h1M181 93h2M41 94h2M46 94h1M48 94h2M89 94h1M130 94h2M135 94h1M183 94h1M38 95h1M40 95h1M48 95h1M53 95h1M87 95h4M181 95h1M183 95h2M189 95h1M39 96h1M41 96h1M44 96h1M57 96h1M73 96h1M89 96h4M134 96h1M137 96h2M175 96h1M178 96h1M183 96h2M190 96h1M39 97h1M43 97h1M47 97h1M83 97h2M91 97h1M136 97h1M175 97h1M183 97h2M37 98h1M40 98h1M52 98h1M129 98h2M153 98h2M183 98h1M38 99h2M41 99h1M45 99h2M50 99h1M53 99h1M153 99h2M188 99h1M44 100h2M53 100h2M72 100h1M74 100h1M76 100h1M88 100h1M135 100h4M147 100h1M44 101h1M50 101h1M54 101h2M78 101h1M82 101h2M85 101h1M135 101h3M177 101h1M190 101h1M43 102h1M49 102h2M54 102h2M58 102h1M60 102h1M75 102h1M82 102h2M85 102h1M92 102h1M139 102h1M185 102h1M40 103h1M50 103h1M56 103h1M60 103h1M139 103h1M175 103h2M182 103h1M184 103h2M38 104h2M47 104h1M53 104h3M57 104h2M60 104h1M93 104h1M151 104h1M153 104h1M184 104h1M189 104h2M39 105h1M42 105h1M45 105h2M54 105h1M59 105h2M72 105h1M80 105h1M82 105h2M89 105h1M137 105h1M149 105h2M154 105h1M188 105h2M37 106h1M41 106h1M45 106h1M54 106h3M58 106h1M72 106h1M74 106h1M146 106h1M148 106h1M163 106h1M185 106h1M190 106h1M57 107h1M59 107h1M43 108h1M54 108h1M86 108h1M93 108h1M103 108h1M105 108h1M184 108h1M189 108h1M38 109h2M41 109h3M72 109h4M78 109h1M80 109h1M89 109h1M105 109h1M107 109h2M151 109h2M176 109h1M185 109h2M42 110h1M48 110h1M50 110h1M71 110h1M92 110h1M95 110h1M97 110h1M104 110h1M147 110h2M176 110h1M184 110h1M186 110h1M188 110h1M38 111h1M41 111h1M45 111h1M49 111h1M56 111h1M60 111h1M73 111h2M95 111h1M97 111h1M41 112h1M44 112h1M46 112h1M51 112h2M55 112h2M73 112h1M75 112h1M78 112h3M84 112h1M93 112h1M95 112h2M109 112h1M149 112h1M151 112h1M153 112h1M155 112h1M187 112h2M41 113h1M53 113h1M56 113h2M59 113h1M75 113h1M80 113h1M84 113h2M87 113h1M93 113h1M95 113h1M100 113h1M105 113h3M110 113h1M117 113h1M122 113h3M126 113h3M146 113h2M166 113h1M180 113h1M41 114h4M51 114h1M60 114h1M63 114h1M89 114h1M92 114h1M95 114h1M100 114h1M128 114h1M139 114h1M162 114h1M166 114h1M174 114h3M181 114h1M186 114h1M38 115h1M40 115h3M71 115h1M94 115h3M99 115h2M103 115h1M120 115h1M124 115h2M139 115h1M147 115h2M188 115h1M42 116h1M54 116h1M72 116h1M96 116h1M99 116h2M103 116h1M105 116h3M109 116h1M111 116h1M121 116h1M126 116h1M169 116h1M173 116h1M189 116h1M49 117h2M53 117h1M55 117h1M59 117h2M92 117h1M96 117h5M109 117h1M117 117h1M124 117h3M145 117h1M156 117h1M172 117h1M186 117h2M44 118h3M50 118h1M58 118h1M69 118h1M91 118h2M95 118h1M97 118h3M101 118h1M116 118h1M141 118h1M145 118h1M147 118h1M153 118h1M166 118h1M173 118h1M178 118h1M190 118h1M38 119h1M70 119h1M95 119h1M97 119h1M99 119h2M116 119h1M143 119h1M146 119h2M150 119h1M155 119h2M159 119h1M173 119h1M177 119h4M182 119h1M36 120h1M38 120h2M42 120h3M61 120h1M63 120h1M71 120h1M97 120h2M100 120h2M114 120h1M140 120h1M146 120h1M149 120h1M152 120h1M154 120h2M163 120h1M165 120h1M171 120h1M173 120h1M176 120h1M178 120h1M180 120h1M183 120h2M189 120h2M37 121h1M40 121h1M43 121h1M72 121h4M95 121h1M97 121h3M101 121h1M171 121h1M173 121h1M66 122h2M72 122h2M75 122h2M81 122h1M83 122h1M86 122h1M91 122h1M97 122h3M101 122h1M157 122h2M166 122h1M185 122h2M62 123h3M93 123h1M97 123h1M99 123h1M157 123h1M161 123h1M187 123h1M45 124h2M49 124h1M61 124h1M63 124h1M70 124h1M99 124h2M157 124h2M160 124h2M167 124h1M170 124h1M51 125h1M54 125h1M73 125h1M76 125h1M86 125h2M89 125h1M91 125h1M105 125h1M111 125h1M121 125h1M125 125h1M144 125h1M166 125h1"/>
<path stroke="#aadc32" d="M58 70h1M137 72h1M136 73h1M137 76h2M155 76h1M138 77h1M137 78h1M163 79h2M86 80h1M132 80h1M88 81h1M130 81h3M137 81h2M130 82h1M136 82h1M136 83h2M88 84h1M86 85h2M90 85h1M129 85h1M48 86h1M73 86h1M132 86h2M136 86h2M47 87h1M92 87h1M129 87h3M135 87h1M137 87h1M85 88h3M130 88h1M132 88h1M134 88h3M46 89h1M130 89h2M135 89h1M46 90h1M86 90h2M91 90h1M129 90h1M134 90h1M44 91h2M92 91h1M133 91h1M177 91h1M130 92h1M47 93h1M87 93h2M129 93h1M133 93h1M135 93h1M180 93h1M43 94h1M87 94h1M90 94h2M129 94h1M134 94h1M180 94h1M182 94h1M37 95h1M41 95h3M45 95h2M129 95h1M134 95h1M182 95h1M37 96h1M40 96h1M42 96h1M46 96h2M177 96h1M37 97h2M40 97h1M42 97h1M49 97h1M86 97h1M89 97h1M129 97h1M132 97h3M138 97h1M178 97h1M91 98h1M135 98h1M138 98h1M182 98h1M37 99h1M40 99h1M44 99h1M47 99h1M52 99h1M129 99h1M177 99h1M38 100h1M40 100h1M42 100h2M50 100h1M52 100h1M75 100h1M89 100h1M177 100h2M180 100h1M184 100h1M37 101h1M40 101h1M52 101h2M74 101h3M84 101h1M91 101h1M134 101h1M178 101h4M37 102h1M40 102h1M42 102h1M44 102h1M52 102h2M57 102h1M59 102h1M84 102h1M178 102h1M186 102h1M37 103h1M41 103h1M43 103h1M47 103h2M53 103h1M57 103h1M59 103h1M131 103h1M186 103h2M40 104h1M43 104h1M46 104h1M48 104h3M59 104h1M86 104h1M88 104h1M152 104h1M154 104h1M40 105h1M43 105h1M47 105h2M75 105h1M77 105h2M81 105h1M85 105h1M90 105h1M138 105h1M155 105h1M184 105h1M38 106h3M44 106h1M46 106h1M52 106h1M77 106h2M80 106h4M85 106h1M91 106h1M135 106h1M137 106h1M37 107h4M42 107h1M45 107h1M51 107h2M54 107h1M58 107h1M60 107h1M139 107h1M177 107h1M179 107h1M186 107h2M37 108h6M59 108h1M139 108h1M180 108h2M186 108h1M40 109h1M47 109h1M49 109h2M52 109h1M54 109h1M76 109h2M87 109h2M90 109h1M92 109h1M102 109h3M138 109h1M187 109h1M190 109h1M38 110h1M40 110h1M51 110h1M54 110h1M81 110h1M88 110h1M90 110h2M138 110h1M154 110h2M189 110h1M37 111h1M39 111h1M42 111h1M46 111h1M51 111h1M54 111h1M57 111h3M75 111h3M80 111h1M82 111h1M135 111h1M138 111h2M149 111h1M151 111h2M154 111h1M162 111h1M164 111h2M185 111h1M37 112h1M40 112h1M45 112h1M48 112h1M50 112h1M54 112h1M81 112h1M83 112h1M85 112h3M102 112h3M139 112h1M146 112h1M177 112h1M37 113h1M43 113h1M46 113h1M52 113h1M54 113h2M72 113h1M74 113h1M76 113h1M78 113h1M82 113h1M86 113h1M89 113h2M111 113h1M113 113h1M125 113h1M139 113h1M162 113h3M177 113h3M188 113h2M37 114h4M52 114h1M54 114h1M57 114h3M71 114h1M88 114h1M90 114h1M119 114h1M121 114h1M126 114h1M178 114h1M180 114h1M185 114h1M188 114h1M190 114h1M36 115h2M39 115h1M43 115h1M52 115h1M59 115h2M102 115h1M106 115h3M118 115h2M121 115h2M127 115h2M150 115h1M153 115h1M155 115h1M162 115h1M165 115h2M174 115h1M181 115h1M36 116h4M53 116h1M55 116h2M58 116h1M95 116h1M102 116h1M104 116h1M108 116h1M110 116h1M118 116h1M123 116h1M128 116h2M134 116h2M139 116h1M146 116h1M163 116h2M174 116h1M184 116h1M47 117h1M51 117h2M54 117h1M57 117h2M73 117h1M76 117h2M79 117h2M82 117h1M88 117h1M93 117h1M95 117h1M104 117h5M111 117h2M118 117h5M129 117h2M132 117h1M166 117h1M174 117h1M41 118h1M43 118h1M54 118h1M85 118h6M117 118h1M152 118h1M176 118h1M189 118h1M36 119h1M39 119h1M41 119h2M53 119h2M71 119h1M96 119h1M141 119h1M145 119h1M163 119h1M185 119h2M37 120h1M41 120h1M57 120h2M60 120h1M62 120h1M95 120h2M99 120h1M102 120h1M116 120h2M122 120h1M134 120h2M138 120h2M142 120h1M144 120h2M150 120h2M153 120h1M164 120h1M175 120h1M177 120h1M39 121h1M42 121h1M63 121h1M65 121h3M76 121h4M83 121h2M96 121h1M122 121h1M166 121h1M182 121h1M62 122h4M74 122h1M78 122h3M85 122h1M94 122h3M100 122h1M114 122h1M184 122h1M66 123h1M68 123h1M91 123h2M94 123h2M98 123h1M100 123h2M158 123h1M173 123h1M185 123h1M190 123h1M36 124h1M48 124h1M55 124h6M69 124h1M71 124h1M94 124h2M97 124h1M101 124h1M185 124h1M187 124h1M189 124h1M85 125h1"/>
<path stroke="#bade28" d="M136 72h1M137 77h1M136 78h1M129 82h1M137 82h2M129 83h1M86 84h1M133 84h2M89 85h1M130 85h1M133 85h1M88 86h1M90 86h1M129 86h1M90 87h2M47 88h1M133 88h1M86 89h4M134 89h1M90 90h1M130 90h1M90 91h1M130 91h2M49 92h1M49 93h1M47 94h1M88 94h1M133 94h1M91 95h1M131 95h1M38 96h1M43 96h1M129 96h1M132 96h2M87 97h2M130 97h2M137 97h1M177 97h1M179 97h1M45 98h1M48 98h1M86 98h1M89 98h2M131 98h2M136 98h2M178 98h1M181 98h1M86 99h4M130 99h1M135 99h3M178 99h1M182 99h2M37 100h1M39 100h1M41 100h1M46 100h1M86 100h2M90 100h1M129 100h1M179 100h1M38 101h1M41 101h1M45 101h1M49 101h1M88 101h3M92 101h1M138 101h1M184 101h1M38 102h1M41 102h1M91 102h1M132 102h1M134 102h2M137 102h1M177 102h1M179 102h1M181 102h4M38 103h2M42 103h1M51 103h2M58 103h1M180 103h2M183 103h1M45 104h1M51 104h2M87 104h1M137 104h1M182 104h2M188 104h1M50 105h4M73 105h1M86 105h3M91 105h2M136 105h1M190 105h1M42 106h2M47 106h2M51 106h1M53 106h1M89 106h2M134 106h1M136 106h1M138 106h1M177 106h2M180 106h1M184 106h1M41 107h1M43 107h1M53 107h1M55 107h2M92 107h1M135 107h1M178 107h1M180 107h3M184 107h1M50 108h1M52 108h2M57 108h1M87 108h1M129 108h1M182 108h2M185 108h1M188 108h1M44 109h1M51 109h1M53 109h1M91 109h1M181 109h1M183 109h1M188 109h2M52 110h2M55 110h1M58 110h1M73 110h1M77 110h4M83 110h3M89 110h1M137 110h1M149 110h3M153 110h1M190 110h1M40 111h1M52 111h2M55 111h1M78 111h2M81 111h1M133 111h2M136 111h2M147 111h2M150 111h1M153 111h1M155 111h1M180 111h1M38 112h2M42 112h1M49 112h1M53 112h1M135 112h1M147 112h2M162 112h1M164 112h2M180 112h1M186 112h1M38 113h3M42 113h1M45 113h1M47 113h1M50 113h2M73 113h1M77 113h1M88 113h1M91 113h1M102 113h1M108 113h2M112 113h1M165 113h1M181 113h4M186 113h1M53 114h1M55 114h2M87 114h1M91 114h1M103 114h1M105 114h3M122 114h4M127 114h1M165 114h1M177 114h1M179 114h1M183 114h1M187 114h1M189 114h1M44 115h1M50 115h1M53 115h1M58 115h1M104 115h2M109 115h1M123 115h1M135 115h4M154 115h1M176 115h1M178 115h1M183 115h1M189 115h1M40 116h2M43 116h1M48 116h5M57 116h1M59 116h1M93 116h1M131 116h3M137 116h1M166 116h1M176 116h1M38 117h1M41 117h3M45 117h2M72 117h1M74 117h2M78 117h1M81 117h1M83 117h1M85 117h1M87 117h1M89 117h1M103 117h1M110 117h1M123 117h1M128 117h1M131 117h1M133 117h2M136 117h1M138 117h2M152 117h1M164 117h1M175 117h1M185 117h1M38 118h1M42 118h1M51 118h3M79 118h1M82 118h2M107 118h1M121 118h1M126 118h1M128 118h1M130 118h2M149 118h3M177 118h1M181 118h1M187 118h2M40 119h1M43 119h1M49 119h4M90 119h2M123 119h1M139 119h1M164 119h1M166 119h1M183 119h2M187 119h2M190 119h1M45 120h1M51 120h1M53 120h1M55 120h2M59 120h1M73 120h1M93 120h1M105 120h3M115 120h1M118 120h4M123 120h1M127 120h1M131 120h1M136 120h2M141 120h1M143 120h1M156 120h1M162 120h1M38 121h1M41 121h1M61 121h2M81 121h1M85 121h1M87 121h1M93 121h1M107 121h1M119 121h1M123 121h1M125 121h1M130 121h2M133 121h1M135 121h2M140 121h1M145 121h1M162 121h3M176 121h1M178 121h1M180 121h1M61 122h1M119 122h1M121 122h1M130 122h1M156 122h1M173 122h1M61 123h1M73 123h1M76 123h3M86 123h4M96 123h1M114 123h1M144 123h1M166 123h1M186 123h1M188 123h2M44 124h1M50 124h1M54 124h1M93 124h1M96 124h1M98 124h1M114 124h1M116 124h1M156 124h1M173 124h3M177 124h2M180 124h1M184 124h1M190 124h1"/>
<path stroke="#cde11d" d="M88 85h1M131 85h1M89 86h1M91 86h1M130 86h2M132 89h1M88 90h2M131 90h1M129 91h1M132 91h1M129 92h1M132 94h1M47 95h1M130 95h1M133 95h1M45 96h1M131 96h1M44 97h2M44 98h1M49 98h1M87 98h2M134 98h1M177 98h1M180 98h1M91 99h2M131 99h1M180 99h2M181 100h1M39 101h1M42 101h1M87 101h1M129 101h1M133 101h1M183 101h1M39 102h1M48 102h1M51 102h1M87 102h1M130 102h2M133 102h1M46 103h1M86 103h1M92 103h1M129 103h2M135 103h1M89 104h1M135 104h1M138 104h1M181 104h1M44 105h1M49 105h1M135 105h1M179 105h1M50 106h1M87 106h2M133 106h1M46 107h1M50 107h1M86 107h1M90 107h1M130 107h2M133 107h1M136 107h1M183 107h1M185 107h1M51 108h1M55 108h2M88 108h3M177 108h3M187 108h1M59 109h1M129 109h1M137 109h1M180 109h1M182 109h1M46 110h1M56 110h2M59 110h2M74 110h3M86 110h2M136 110h1M152 110h1M183 110h1M44 111h1M83 111h2M87 111h2M92 111h1M132 111h1M177 111h1M184 111h1M90 112h1M129 112h1M131 112h2M136 112h1M138 112h1M163 112h1M178 112h2M184 112h2M48 113h1M92 113h1M103 113h2M129 113h1M185 113h1M187 113h1M46 114h2M50 114h1M76 114h1M81 114h1M83 114h4M102 114h1M104 114h1M110 114h1M135 114h1M137 114h1M47 115h1M55 115h3M89 115h1M110 115h4M151 115h2M175 115h1M179 115h2M190 115h1M47 116h1M60 116h1M73 116h1M76 116h1M78 116h2M92 116h1M113 116h1M130 116h1M147 116h2M155 116h1M162 116h1M165 116h1M177 116h1M182 116h2M37 117h1M39 117h2M44 117h1M84 117h1M102 117h1M113 117h1M135 117h1M146 117h1M176 117h1M39 118h2M76 118h2M80 118h2M102 118h1M105 118h1M110 118h4M118 118h3M122 118h4M127 118h1M129 118h1M139 118h1M146 118h1M148 118h1M154 118h2M179 118h2M182 118h2M185 118h2M37 119h1M72 119h1M79 119h1M83 119h1M89 119h1M92 119h1M102 119h1M105 119h1M107 119h2M117 119h1M119 119h4M126 119h1M128 119h1M130 119h1M134 119h1M136 119h1M138 119h1M165 119h1M189 119h1M46 120h3M54 120h1M72 120h1M80 120h1M103 120h2M108 120h5M124 120h3M128 120h3M133 120h1M166 120h1M54 121h1M86 121h1M88 121h3M92 121h1M102 121h1M105 121h2M110 121h2M114 121h3M118 121h1M120 121h2M124 121h1M129 121h1M132 121h1M134 121h1M137 121h2M147 121h1M156 121h1M175 121h1M177 121h1M179 121h1M181 121h1M40 122h1M52 122h1M54 122h1M113 122h1M116 122h2M122 122h4M127 122h1M129 122h1M133 122h1M143 122h1M145 122h1M162 122h1M165 122h1M183 122h1M40 123h1M54 123h1M72 123h1M74 123h1M82 123h1M84 123h1M115 123h2M156 123h1M41 124h3M52 124h1M90 124h1M115 124h1M142 124h1M144 124h1M150 124h1M166 124h1M176 124h1M179 124h1M181 124h2M188 124h1"/>
<path stroke="#dde318" d="M133 89h1M132 90h2M132 95h1M130 96h1M133 98h1M179 98h1M48 99h2M90 99h1M179 99h1M47 100h2M91 100h2M130 100h1M133 100h2M182 100h2M46 101h3M86 101h1M130 101h1M132 101h1M182 101h1M45 102h1M88 102h1M90 102h1M129 102h1M136 102h1M138 102h1M44 103h1M88 103h1M91 103h1M132 103h1M137 103h1M178 103h2M90 104h1M92 104h1M129 104h1M133 104h1M180 104h1M133 105h2M177 105h2M180 105h2M183 105h1M179 106h1M181 106h2M47 107h1M87 107h1M89 107h1M91 107h1M129 107h1M132 107h1M134 107h1M45 108h3M49 108h1M58 108h1M60 108h1M91 108h2M130 108h1M135 108h1M46 109h1M48 109h1M55 109h3M130 109h1M179 109h1M44 110h2M135 110h1M180 110h3M85 111h1M90 111h2M131 111h1M178 111h1M181 111h1M183 111h1M88 112h2M91 112h2M130 112h1M133 112h2M137 112h1M181 112h1M183 112h1M49 113h1M131 113h1M137 113h1M45 114h1M72 114h2M78 114h1M80 114h1M108 114h2M111 114h3M136 114h1M138 114h1M49 115h1M72 115h1M76 115h1M91 115h1M131 115h1M133 115h2M177 115h1M44 116h3M74 116h2M77 116h1M80 116h1M82 116h5M88 116h1M91 116h1M175 116h1M178 116h1M180 116h2M90 117h2M137 117h1M147 117h1M162 117h2M177 117h2M180 117h1M182 117h3M37 118h1M72 118h4M78 118h1M84 118h1M103 118h1M106 118h1M108 118h2M134 118h1M163 118h2M184 118h1M85 119h1M87 119h2M112 119h1M118 119h1M124 119h2M127 119h1M162 119h1M50 120h1M52 120h1M76 120h1M78 120h2M83 120h2M90 120h1M113 120h1M132 120h1M44 121h1M52 121h1M58 121h1M91 121h1M103 121h2M108 121h2M112 121h1M126 121h1M128 121h1M139 121h1M141 121h4M146 121h1M174 121h1M37 122h3M41 122h3M103 122h1M105 122h3M111 122h2M115 122h1M120 122h1M126 122h1M131 122h2M136 122h2M140 122h3M144 122h1M163 122h2M181 122h2M38 123h1M41 123h1M48 123h1M75 123h1M80 123h2M83 123h1M85 123h1M123 123h1M140 123h2M143 123h1M174 123h1M184 123h1M37 124h2M40 124h1M51 124h1M53 124h1M72 124h1M74 124h1M76 124h1M141 124h1M143 124h1M146 124h1M149 124h1M163 124h3M183 124h1"/>
<path stroke="#efe51c" d="M132 99h3M49 100h1M132 100h1M131 101h1M46 102h2M89 102h1M45 103h1M87 103h1M133 103h1M138 103h1M177 103h1M44 104h1M91 104h1M130 104h1M136 104h1M179 104h1M129 105h1M182 105h1M49 106h1M86 106h1M129 106h1M131 106h2M183 106h1M49 107h1M88 107h1M137 107h2M48 108h1M131 108h3M136 108h1M138 108h1M45 109h1M58 109h1M60 109h1M136 109h1M177 109h2M133 110h2M177 110h3M86 111h1M89 111h1M129 111h2M130 113h1M132 113h1M135 113h2M138 113h1M48 114h1M74 114h2M77 114h1M79 114h1M82 114h1M131 114h1M46 115h1M48 115h1M73 115h1M77 115h3M88 115h1M90 115h1M129 115h1M132 115h1M81 116h1M89 116h1M149 116h2M152 116h3M179 116h1M149 117h1M151 117h1M153 117h3M165 117h1M179 117h1M181 117h1M132 118h1M135 118h1M138 118h1M162 118h1M165 118h1M73 119h1M77 119h1M86 119h1M103 119h2M106 119h1M109 119h3M113 119h1M131 119h1M135 119h1M137 119h1M74 120h2M77 120h1M82 120h1M85 120h1M87 120h1M51 121h1M55 121h2M59 121h2M113 121h1M148 121h2M155 121h1M51 122h1M102 122h1M104 122h1M108 122h3M118 122h1M128 122h1M134 122h2M138 122h2M146 122h1M174 122h2M177 122h1M180 122h1M37 123h1M42 123h1M47 123h1M49 123h5M55 123h2M79 123h1M107 123h1M119 123h1M122 123h1M127 123h1M129 123h1M142 123h1M145 123h1M164 123h2M175 123h9M39 124h1M73 124h1M75 124h1M77 124h2M81 124h6M88 124h1M91 124h2M112 124h1M117 124h2M120 124h1M122 124h2M127 124h4M139 124h2M145 124h1M147 124h2M152 124h4M162 124h1"/>
<path stroke="#fde725" d="M131 100h1M86 102h1M89 103h2M134 103h1M136 103h1M131 104h2M134 104h1M177 104h2M130 105h3M130 106h1M48 107h1M134 108h1M137 108h1M131 109h5M129 110h4M179 111h1M182 111h1M182 112h1M133 113h2M49 114h1M129 114h2M132 114h3M45 115h1M74 115h2M80 115h8M130 115h1M87 116h1M90 116h1M151 116h1M148 117h1M150 117h1M104 118h1M133 118h1M136 118h2M74 119h3M78 119h1M80 119h3M84 119h1M129 119h1M132 119h2M49 120h1M81 120h1M86 120h1M88 120h2M91 120h2M45 121h6M53 121h1M57 121h1M150 121h5M44 122h7M53 122h1M55 122h6M147 122h9M176 122h1M178 122h2M39 123h1M43 123h4M57 123h4M102 123h5M108 123h6M117 123h2M120 123h2M124 123h3M128 123h1M130 123h10M146 123h10M162 123h2M79 124h2M87 124h1M89 124h1M102 124h10M113 124h1M119 124h1M121 124h1M124 124h3M131 124h8M151 124h1"/>
</g></g></g>
<path d="M181.5 448.5v4.86M314.5 448.5v4.86M447.5 448.5v4.86M580.5 448.5v4.86M713.5 448.5v4.86M846.5 448.5v4.86M50.5 448.5h-4.86M50.5 422.9h-4.86M50.5 397.3h-4.86M50.5 371.6h-4.86M50.5 346h-4.86M50.5 320.4h-4.86M50.5 294.8h-4.86M50.5 269.1h-4.86M50.5 243.5h-4.86" stroke="#000" stroke-width="1.11" fill="none"/>
<rect x="50.5" y="243.5" width="898" height="205" fill="none" stroke="#000" stroke-width="1.11"/>
<g style="filter:opacity(1)"><text x="39.7" y="20" text-anchor="end">1.00</text><text x="39.7" y="46" text-anchor="end">0.75</text><text x="39.7" y="71" text-anchor="end">0.50</text><text x="39.7" y="97" text-anchor="end">0.25</text><text x="39.7" y="123" text-anchor="end">0.00</text><text x="39.7" y="148" text-anchor="end">−0.25</text><text x="39.7" y="174" text-anchor="end">−0.50</text><text x="39.7" y="199" text-anchor="end">−0.75</text><text x="39.7" y="225" text-anchor="end">−1.00</text><text x="40.8" y="452.1" text-anchor="end">0</text><text x="39.7" y="426.5" text-anchor="end">500</text><text x="39.7" y="400.9" text-anchor="end">1000</text><text x="39.7" y="375.2" text-anchor="end">1500</text><text x="39.7" y="349.6" text-anchor="end">2000</text><text x="39.7" y="324" text-anchor="end">2500</text><text x="39.7" y="298.4" text-anchor="end">3000</text><text x="39.7" y="272.7" text-anchor="end">3500</text><text x="39.7" y="247.1" text-anchor="end">4000</text><text x="181.5" y="466" text-anchor="middle">0.5</text><text x="314.5" y="466" text-anchor="middle">1.0</text><text x="447.5" y="466" text-anchor="middle">1.5</text><text x="580.5" y="466" text-anchor="middle">2.0</text><text x="713.5" y="466" text-anchor="middle">2.5</text><text x="846.5" y="466" text-anchor="middle">3.0</text></g>
</svg></body></html>
